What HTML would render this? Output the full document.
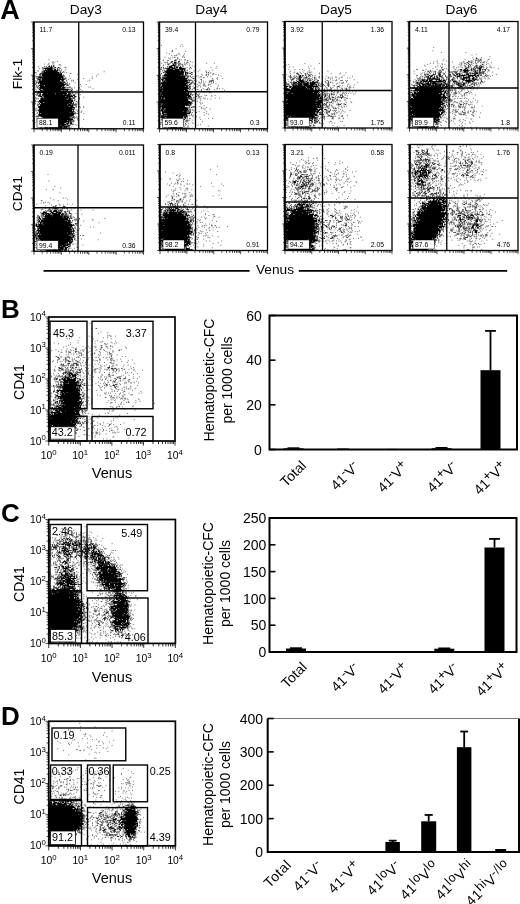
<!DOCTYPE html>
<html><head><meta charset="utf-8"><title>Figure</title>
<style>
html,body{margin:0;padding:0;background:#fff;}
body{width:520px;height:904px;overflow:hidden;}
svg{display:block;font-family:"Liberation Sans",sans-serif;fill:#000;}
svg text{stroke:none;}
</style></head><body>
<svg width="520" height="904" viewBox="0 0 520 904">
<defs><filter id="bl" x="-5%" y="-5%" width="110%" height="110%"><feGaussianBlur stdDeviation="0.35"/></filter></defs>
<rect x="0" y="0" width="520" height="904" fill="#fff" stroke="none"/>
<text x="0.3" y="19.2" font-size="27" font-weight="bold">A</text>
<text x="85.8" y="14.3" font-size="13.7" text-anchor="middle" font-weight="normal">Day3</text>
<text x="211.3" y="14.3" font-size="13.7" text-anchor="middle" font-weight="normal">Day4</text>
<text x="336" y="14.3" font-size="13.7" text-anchor="middle" font-weight="normal">Day5</text>
<text x="461.5" y="14.3" font-size="13.7" text-anchor="middle" font-weight="normal">Day6</text>
<text x="22" y="74" font-size="13.7" text-anchor="middle" font-weight="normal" transform="rotate(-90 22 74)">Flk-1</text>
<text x="22" y="193.7" font-size="13.7" text-anchor="middle" font-weight="normal" transform="rotate(-90 22 193.7)">CD41</text>
<text x="275" y="273.8" font-size="13.7" text-anchor="middle" font-weight="normal">Venus</text>
<line x1="43.5" y1="270.8" x2="249.6" y2="270.8" stroke="#000" stroke-width="1.7"/>
<line x1="298.8" y1="270.8" x2="507.2" y2="270.8" stroke="#000" stroke-width="1.7"/>
<g filter="url(#bl)"><path transform="translate(34.00,22.43) scale(0.85)" d="M17 44h1m4 2h1m4 0h1m-7 1h1m2 0h1m-8 1h1m4 0h1m-11 1h1m4 0h1m11 1h3m-27 2h1m30 1h2m-32 1h1m2 0h1m21 0h1m5 1h1m-34 2h2m30 0h1m45 1h1m-82 1h2m32 0h1m2 0h1m-39 1h1m41 0h2m-41 1h1m47 0h1m23 0h1m-75 2h1m39 0h1m31 0h1m-6 1h1m-27 2h1m15 0h1m9 0h1m-29 1h1m10 0h1m-14 1h1m5 0h1m1 0h1m18 0h1m-65 1h1m42 0h1m1 0h1m16 0h1m-16 2h1m-49 1h1m40 0h1m-1 1h1m12 0h1m6 0h1m-7 2h1m8 1h1m1 0h1m-66 1h1m42 0h1m2 0h1m4 0h2m15 1h1m-68 1h1m51 0h1m-5 1h1m5 0h1m-55 1h1m45 3h2m1 0h1m-51 1h1m52 0h1m-55 3h1m57 0h1m-6 1h1m-1 1h1m-54 3h1m48 0h2m0 1h1m-52 2h2m50 0h1m-53 2h1m52 1h1m4 0h1m-10 1h1m4 0h1m3 0h1m-59 1h1m0 3h1m49 0h1m4 0h1m-6 1h1m3 0h1m-1 1h1m-53 1h1m46 0h2m6 0h1m-58 1h1m-2 2h1m49 1h1m-1 1h1m-51 1h1m50 0h1m-49 1h1m47 0h1m6 0h1m-8 1h1m-52 1h1m46 0h1m-47 2h1m2 0h1m-5 2h1m45 0h1m1 0h1m-44 1h1m44 0h1m-46 1h1m38 1h1m-45 1h1m55 0h1" stroke="#5c5c5c" stroke-width="1.15" fill="none"/><path transform="translate(34.00,22.43) scale(0.85)" d="M22 49h1m-7 1h1m1 1h1m1 0h1m1 0h2m-12 1h1m1 0h1m7 0h2m-14 1h1m13 0h2m2 0h2m-19 1h1m15 0h1m2 0h1m-21 1h1m17 1h1m3 0h1m-23 1h1m20 0h1m-23 1h1m21 0h1m2 0h1m-2 1h1m-27 1h1m-2 1h2m-2 1h1m27 0h1m0 1h1m-34 1h3m30 0h1m1 1h1m-35 1h1m33 0h1m-34 1h1m31 0h1m-35 2h1m35 0h1m-36 1h1m32 0h1m-35 1h2m35 0h1m-38 1h1m35 0h1m-38 1h1m35 0h1m1 0h1m-37 1h1m34 0h3m-39 1h1m0 1h2m32 0h1m3 0h2m-39 1h1m33 0h3m1 0h1m-38 1h1m38 0h1m-4 1h1m1 0h1m1 0h1m-3 1h2m-42 1h1m41 0h1m-44 1h1m39 0h1m2 1h1m-43 1h1m41 0h1m-43 1h1m42 0h2m-45 1h1m2 0h1m-2 1h2m41 0h2m-49 1h1m46 0h1m-46 1h1m43 0h1m-48 1h2m1 0h1m1 0h1m41 0h1m0 1h1m-49 1h2m45 0h1m-47 1h1m1 0h1m1 0h1m-1 1h1m-5 1h1m2 1h1m43 0h3m-47 1h2m42 0h2m-46 1h1m44 0h1m-1 1h1m-47 2h1m43 0h1m-47 1h1m45 0h1m-45 1h1m45 0h1m-47 1h1m43 1h1m-44 1h1m43 0h1m-1 1h1m-1 1h1m-46 2h1m-2 1h4m41 0h1m-2 1h1m1 0h1m-41 1h1m38 0h1m-40 1h1m37 1h1m-44 1h1m1 0h1m1 0h1m38 0h1m-42 1h2m1 0h1m37 0h1m-39 2h1m0 1h1m33 0h1m1 0h1m-40 1h2m33 0h2m-35 2h1m-2 1h3m2 0h1m26 0h4m-36 1h1m1 0h1m3 0h1m2 0h2m1 0h2m11 0h1m2 0h2" stroke="#202020" stroke-width="1.15" fill="none"/></g><path transform="translate(34.00,22.43) scale(0.85)" d="M17 52h2m1 0h1m-6 1h1m1 0h1m1 0h3m-10 1h10m1 0h1m-11 1h1m1 0h7m1 0h3m1 0h1m1 0h1m-19 1h1m1 0h2m1 0h6m2 0h2m1 0h1m-16 1h16m1 0h1m-20 1h3m1 0h14m-19 1h1m1 0h19m1 0h1m-24 1h1m1 0h20m1 0h2m-24 1h24m-26 1h1m1 0h24m-24 1h26m-30 1h4m1 0h24m-29 1h30m-31 1h1m2 0h1m1 0h23m1 0h1m1 0h1m-31 1h3m1 0h27m-32 1h1m1 0h2m1 0h22m1 0h3m-29 1h25m2 0h2m-30 1h28m2 0h1m-31 1h32m-32 1h1m1 0h28m2 0h1m-31 1h30m-31 1h6m1 0h23m-31 1h1m1 0h26m1 0h1m-28 1h29m-30 1h26m1 0h4m-30 1h28m1 0h1m-31 1h2m2 0h31m-34 1h3m1 0h21m2 0h1m1 0h1m1 0h2m-35 1h1m2 0h1m1 0h30m1 0h1m1 0h1m-39 1h32m3 0h2m-38 1h4m3 0h4m1 0h23m2 0h1m-38 1h1m2 0h1m2 0h15m1 0h13m1 0h4m-38 1h2m1 0h25m1 0h3m1 0h3m1 0h1m-39 1h1m1 0h1m2 0h33m1 0h1m1 0h2m-41 1h3m1 0h26m1 0h8m1 0h1m-39 1h1m2 0h31m2 0h1m1 0h1m-40 1h32m1 0h3m2 0h1m-40 1h4m1 0h26m1 0h7m-38 1h31m1 0h4m-38 1h40m-40 1h40m-39 1h4m1 0h33m1 0h1m-41 1h1m1 0h33m1 0h3m1 0h1m-41 1h1m1 0h35m1 0h3m-40 1h32m1 0h4m1 0h1m1 0h1m-41 1h40m-42 1h36m1 0h4m-41 1h43m-42 1h39m-39 1h41m-42 1h40m1 0h1m-42 1h40m1 0h1m-41 1h41m-41 1h36m1 0h3m-40 1h1m1 0h40m-43 1h42m-42 1h42m-41 1h36m1 0h3m-38 1h36m2 0h1m-37 1h32m1 0h1m1 0h1m-37 1h34m1 0h1m-35 1h1m1 0h34m-38 1h1m1 0h29m1 0h4m-34 1h31m1 0h4m-37 1h1m1 0h2m1 0h28m1 0h1m-34 1h28m2 0h1m1 0h3m-36 1h1m1 0h1m1 0h23m2 0h3m1 0h3m-33 1h26m1 0h1m-30 1h4m1 0h2m1 0h13m1 0h4m1 0h1m2 0h1m-30 1h3m1 0h1m1 0h9m2 0h14m-30 1h4m3 0h1m1 0h1m1 0h10m2 0h2m1 0h1m-26 1h26m-24 1h1m5 0h2m1 0h7" stroke="#000" stroke-width="1.3" fill="none"/>
<path d="M34.00 128.75v3.6M42.24 128.75v2.4M47.06 128.75v2.4M50.48 128.75v2.4M53.13 128.75v2.4M55.30 128.75v2.4M57.13 128.75v2.4M58.72 128.75v2.4M60.12 128.75v2.4M61.38 128.75v3.6M69.62 128.75v2.4M74.44 128.75v2.4M77.86 128.75v2.4M80.51 128.75v2.4M82.68 128.75v2.4M84.51 128.75v2.4M86.10 128.75v2.4M87.50 128.75v2.4M88.75 128.75v3.6M96.99 128.75v2.4M101.81 128.75v2.4M105.23 128.75v2.4M107.88 128.75v2.4M110.05 128.75v2.4M111.88 128.75v2.4M113.47 128.75v2.4M114.87 128.75v2.4M116.12 128.75v3.6M124.37 128.75v2.4M129.19 128.75v2.4M132.61 128.75v2.4M135.26 128.75v2.4M137.43 128.75v2.4M139.26 128.75v2.4M140.85 128.75v2.4M142.25 128.75v2.4M143.50 128.75v3.6" stroke="#000" stroke-width="0.7" fill="none"/>
<path d="M34 128.75h-2.8M34 120.72h-1.8M34 116.02h-1.8M34 112.68h-1.8M34 110.10h-1.8M34 107.98h-1.8M34 106.20h-1.8M34 104.65h-1.8M34 103.28h-1.8M34 102.06h-2.8M34 94.03h-1.8M34 89.33h-1.8M34 86.00h-1.8M34 83.41h-1.8M34 81.30h-1.8M34 79.51h-1.8M34 77.96h-1.8M34 76.60h-1.8M34 75.38h-2.8M34 67.34h-1.8M34 62.64h-1.8M34 59.31h-1.8M34 56.72h-1.8M34 54.61h-1.8M34 52.82h-1.8M34 51.27h-1.8M34 49.91h-1.8M34 48.69h-2.8M34 40.65h-1.8M34 35.95h-1.8M34 32.62h-1.8M34 30.03h-1.8M34 27.92h-1.8M34 26.13h-1.8M34 24.59h-1.8M34 23.22h-1.8M34 22.00h-2.8" stroke="#000" stroke-width="0.7" fill="none"/>
<rect x="34" y="22" width="109.50" height="106.75" fill="none" stroke="#000" stroke-width="1.3"/>
<line x1="33.7" y1="22" x2="33.7" y2="128.75" stroke="#000" stroke-width="1.8"/>
<line x1="78.75" y1="22" x2="78.75" y2="128.75" stroke="#000" stroke-width="1.3"/>
<line x1="34" y1="92" x2="143.5" y2="92" stroke="#000" stroke-width="1.3"/>
<text x="39.5" y="32" font-size="6.8" text-anchor="start" font-weight="normal">11.7</text>
<text x="135.5" y="32" font-size="6.8" text-anchor="end" font-weight="normal">0.13</text>
<rect x="37" y="118.25" width="21.20" height="9.00" fill="#fff" stroke="#000" stroke-width="0.5"/>
<text x="39" y="125.25" font-size="6.8" text-anchor="start" font-weight="normal">88.1</text>
<text x="135.5" y="125.25" font-size="6.8" text-anchor="end" font-weight="normal">0.11</text>
<g filter="url(#bl)"><path transform="translate(159.50,22.43) scale(0.85)" d="M26 26h1m-25 1h1m21 1h1m2 0h1m-9 3h1m-5 2h1m-2 1h2m14 0h1m-23 2h1m33 0h1m-32 1h1m10 0h2m5 0h1m-10 1h1m-7 1h1m2 0h1m10 0h1m-2 1h1m-22 1h1m8 0h1m1 0h2m2 0h1m5 0h1m1 0h1m-20 1h1m1 0h1m8 0h1m-22 1h1m11 0h1m-9 1h1m13 0h1m6 0h1m3 0h2m-27 1h1m4 0h2m21 0h2m2 1h1m-32 1h1m23 0h1m2 0h1m5 0h1m-37 1h1m52 0h1m8 0h1m-58 1h1m24 0h1m2 0h1m-32 1h1m22 0h1m2 0h1m-27 1h1m30 0h1m2 0h1m2 1h1m25 0h1m-36 1h1m27 0h1m-61 1h1m34 0h1m1 0h1m28 0h1m-32 1h1m-4 1h1m14 0h1m14 0h1m-63 1h1m39 0h1m13 0h1m3 0h1m-59 1h1m34 0h1m9 0h1m9 0h1m4 1h1m-2 1h1m3 0h1m-64 1h1m48 0h1m12 0h2m2 0h1m-25 1h1m7 0h1m3 0h2m1 0h1m11 0h1m-27 1h1m1 0h1m26 0h1m-37 1h1m3 0h1m1 0h1m5 0h2m6 0h1m3 0h1m-24 1h1m8 0h1m4 0h2m15 0h1m-7 1h1m4 0h1m6 0h1m-33 1h1m5 0h2m18 0h1m-20 1h1m-7 1h1m7 0h1m6 0h1m-13 1h1m7 0h1m-9 1h2m3 0h1m11 0h1m-24 1h2m6 0h1m3 0h1m8 0h1m4 0h1m-26 1h1m2 0h1m12 0h1m-7 1h1m5 0h1m11 0h1m-31 1h1m5 0h1m2 0h1m4 0h2m5 0h1m-17 1h1m3 0h1m19 0h1m-30 2h1m11 0h1m4 0h1m1 0h1m8 0h2m1 0h1m3 0h1m-31 1h2m3 0h1m3 0h1m10 0h1m-16 1h1m26 0h1m-37 1h1m6 0h2m16 0h1m1 0h1m-16 1h1m5 0h1m1 0h1m-18 1h1m15 0h1m-14 1h1m-7 1h1m12 1h1m1 0h1m5 0h1m3 0h1m-17 1h1m11 0h1m-22 1h1m0 1h2m5 0h1m2 0h1m1 0h1m11 0h1m4 0h1m-27 1h1m3 0h1m4 0h1m2 0h1m3 0h1m-20 2h1m6 0h1m-5 1h1m-3 1h1m4 0h1m0 1h1m1 0h1m-3 1h1m3 2h1m-13 1h2m5 0h1m-6 1h1m6 0h1m5 0h1m-7 1h1m1 0h1m1 0h1m5 1h1m-21 1h1m13 0h1m-14 1h1m5 1h1m8 0h1m-14 1h2m8 0h1m2 1h1m1 1h1m-19 1h1m2 0h1m9 0h1m-18 1h1m3 0h1m-1 1h1m3 0h1m3 1h1m-13 1h2m20 0h1m4 0h1m-15 1h1m-47 1h1m32 0h1m2 0h1m11 2h1m-51 1h2m36 0h1m-5 1h1m4 0h1m-9 1h1m10 0h1m5 0h1m-46 1h1m26 0h1m14 0h1m11 1h1m-58 2h1m29 0h1m2 0h1m1 0h1m2 0h1m-38 1h1m27 0h1m7 0h1" stroke="#5c5c5c" stroke-width="1.15" fill="none"/><path transform="translate(159.50,22.43) scale(0.85)" d="M19 39h1m1 4h1m-3 1h1m3 0h1m-7 1h3m-6 1h2m6 0h2m-17 1h1m1 0h1m3 0h2m7 0h1m10 0h1m-22 1h1m2 0h1m2 0h2m1 0h1m1 0h2m6 0h1m-23 1h3m10 0h1m3 0h1m2 0h1m-20 1h1m11 0h3m1 0h1m-5 1h1m4 0h1m-19 1h1m10 0h1m6 0h1m-26 1h1m1 0h1m31 0h1m-33 1h1m1 0h3m20 0h2m-30 1h2m2 1h1m24 0h1m-28 1h1m1 0h1m26 0h1m-29 2h2m26 0h2m3 0h2m16 0h1m1 0h1m-56 1h1m29 0h2m1 0h2m0 1h2m16 0h1m1 0h1m-58 1h2m-2 1h1m2 0h1m29 0h2m1 0h1m-37 1h1m33 0h1m3 0h1m-39 1h2m31 0h1m-33 1h1m37 0h2m-41 1h1m33 0h1m-34 1h1m32 0h4m3 0h1m19 0h3m-63 1h1m36 0h2m19 0h3m-62 1h1m48 0h1m9 0h1m1 0h1m1 0h1m-29 1h1m1 0h3m18 0h1m-59 1h1m35 0h2m-38 1h1m35 0h1m15 0h1m6 0h1m-60 1h1m45 0h1m5 0h1m-18 1h2m-37 1h1m35 0h1m3 1h3m14 0h1m-22 1h1m4 0h1m-7 1h1m2 0h1m3 0h1m12 0h2m1 0h1m-24 2h3m18 0h1m1 0h1m-23 1h2m-38 1h1m41 0h1m-43 1h1m36 0h1m5 0h1m-6 1h1m3 0h1m1 0h1m1 0h1m-9 1h1m6 0h1m-3 1h1m1 0h1m1 0h1m-2 1h1m-10 1h1m1 0h1m6 0h1m-9 2h1m1 0h1m-3 1h2m-2 1h1m1 0h1m-3 2h1m-2 2h1m-38 1h1m34 1h1m3 0h1m-40 1h1m34 0h1m1 0h2m1 0h1m-41 1h1m34 1h2m-2 1h1m2 0h1m-39 1h1m35 0h1m-37 1h1m35 0h1m-37 1h1m35 0h1m1 0h1m-39 1h1m-1 1h1m36 0h1m-38 1h1m33 0h1m2 0h1m-38 2h1m0 1h1m30 0h1m-1 1h1m-31 1h1m0 1h1m27 0h3m-4 1h1m2 0h1m-3 1h2m-31 1h1m27 1h1m-30 1h1m1 0h2m1 0h1m20 0h2m-24 1h1m20 0h1m1 0h1m-23 1h2m2 0h1m22 0h1m-28 1h2m21 0h1m3 0h1m-28 1h2m2 0h2m13 0h3m3 0h1m-24 1h1m2 0h1m1 0h1m5 0h2m4 0h2m4 0h1" stroke="#202020" stroke-width="1.15" fill="none"/></g><path transform="translate(159.50,22.43) scale(0.85)" d="M17 47h3m-3 1h1m-2 1h1m1 0h2m-5 1h3m-5 1h7m-9 1h4m2 0h1m1 0h1m1 0h1m2 0h1m-14 1h5m1 0h1m1 0h3m1 0h3m-17 1h4m1 0h5m1 0h1m2 0h6m-20 1h7m2 0h12m-22 1h15m1 0h1m1 0h2m1 0h1m-24 1h1m1 0h16m1 0h3m1 0h1m-24 1h23m1 0h1m-24 1h22m1 0h2m-25 1h1m1 0h19m2 0h1m-25 1h23m1 0h1m1 0h1m-28 1h20m1 0h2m2 0h2m-28 1h26m2 0h1m-27 1h1m1 0h23m1 0h1m-30 1h27m2 0h1m-29 1h29m-31 1h3m1 0h26m-29 1h2m1 0h28m-31 1h1m1 0h2m1 0h25m2 0h1m-32 1h30m-33 1h29m1 0h4m-34 1h32m-32 1h1m1 0h28m1 0h1m2 0h1m-35 1h1m1 0h30m1 0h1m-33 1h28m1 0h3m-33 1h33m1 0h1m-36 1h3m1 0h30m1 0h1m-36 1h1m1 0h33m-35 1h33m-33 1h3m1 0h25m1 0h4m-34 1h2m1 0h30m-33 1h1m1 0h30m1 0h2m-34 1h1m1 0h29m1 0h2m-34 1h34m1 0h1m-37 1h1m1 0h33m1 0h1m-36 1h2m1 0h32m-36 1h32m1 0h4m-37 1h35m1 0h2m-38 1h2m1 0h2m1 0h27m1 0h2m-36 1h5m1 0h28m1 0h3m-37 1h33m3 0h1m-38 1h34m-34 1h36m-36 1h38m-38 1h38m-38 1h1m3 0h30m1 0h2m-37 1h35m1 0h1m-36 1h1m1 0h27m1 0h2m1 0h2m-36 1h30m-29 1h1m1 0h29m1 0h1m-33 1h1m1 0h3m1 0h27m-32 1h3m1 0h28m-33 1h5m1 0h27m-33 1h3m1 0h28m1 0h1m-32 1h25m1 0h3m1 0h1m1 0h1m-33 1h29m1 0h1m1 0h1m-35 1h1m1 0h2m1 0h1m1 0h28m-35 1h1m2 0h28m-31 1h1m1 0h3m1 0h1m1 0h24m-31 1h3m1 0h24m1 0h2m-32 1h27m1 0h4m-31 1h5m1 0h20m1 0h2m-27 1h24m2 0h1m-26 1h23m1 0h1m-25 1h1m1 0h16m1 0h5m-24 1h3m2 0h19m-24 1h24m-24 1h2m1 0h1m1 0h1m1 0h13m1 0h3m-22 1h19m-17 1h1m2 0h7m1 0h6m-17 1h2m1 0h7m1 0h4m1 0h1m-15 1h6m1 0h6m1 0h1m-13 1h9m2 0h2m-14 1h9m1 0h3m-10 1h1m1 0h1" stroke="#000" stroke-width="1.3" fill="none"/>
<path d="M159.50 128.75v3.6M167.63 128.75v2.4M172.38 128.75v2.4M175.76 128.75v2.4M178.37 128.75v2.4M180.51 128.75v2.4M182.32 128.75v2.4M183.88 128.75v2.4M185.26 128.75v2.4M186.50 128.75v3.6M194.63 128.75v2.4M199.38 128.75v2.4M202.76 128.75v2.4M205.37 128.75v2.4M207.51 128.75v2.4M209.32 128.75v2.4M210.88 128.75v2.4M212.26 128.75v2.4M213.50 128.75v3.6M221.63 128.75v2.4M226.38 128.75v2.4M229.76 128.75v2.4M232.37 128.75v2.4M234.51 128.75v2.4M236.32 128.75v2.4M237.88 128.75v2.4M239.26 128.75v2.4M240.50 128.75v3.6M248.63 128.75v2.4M253.38 128.75v2.4M256.76 128.75v2.4M259.37 128.75v2.4M261.51 128.75v2.4M263.32 128.75v2.4M264.88 128.75v2.4M266.26 128.75v2.4M267.50 128.75v3.6" stroke="#000" stroke-width="0.7" fill="none"/>
<path d="M159.5 128.75h-2.8M159.5 120.72h-1.8M159.5 116.02h-1.8M159.5 112.68h-1.8M159.5 110.10h-1.8M159.5 107.98h-1.8M159.5 106.20h-1.8M159.5 104.65h-1.8M159.5 103.28h-1.8M159.5 102.06h-2.8M159.5 94.03h-1.8M159.5 89.33h-1.8M159.5 86.00h-1.8M159.5 83.41h-1.8M159.5 81.30h-1.8M159.5 79.51h-1.8M159.5 77.96h-1.8M159.5 76.60h-1.8M159.5 75.38h-2.8M159.5 67.34h-1.8M159.5 62.64h-1.8M159.5 59.31h-1.8M159.5 56.72h-1.8M159.5 54.61h-1.8M159.5 52.82h-1.8M159.5 51.27h-1.8M159.5 49.91h-1.8M159.5 48.69h-2.8M159.5 40.65h-1.8M159.5 35.95h-1.8M159.5 32.62h-1.8M159.5 30.03h-1.8M159.5 27.92h-1.8M159.5 26.13h-1.8M159.5 24.59h-1.8M159.5 23.22h-1.8M159.5 22.00h-2.8" stroke="#000" stroke-width="0.7" fill="none"/>
<rect x="159.5" y="22" width="108.00" height="106.75" fill="none" stroke="#000" stroke-width="1.3"/>
<line x1="159.2" y1="22" x2="159.2" y2="128.75" stroke="#000" stroke-width="1.8"/>
<line x1="195.5" y1="22" x2="195.5" y2="128.75" stroke="#000" stroke-width="1.3"/>
<line x1="159.5" y1="91.75" x2="267.5" y2="91.75" stroke="#000" stroke-width="1.3"/>
<text x="165.0" y="32" font-size="6.8" text-anchor="start" font-weight="normal">39.4</text>
<text x="259.5" y="32" font-size="6.8" text-anchor="end" font-weight="normal">0.79</text>
<rect x="162.5" y="118.25" width="21.20" height="9.00" fill="#fff" stroke="#000" stroke-width="0.5"/>
<text x="164.5" y="125.25" font-size="6.8" text-anchor="start" font-weight="normal">59.6</text>
<text x="259.5" y="125.25" font-size="6.8" text-anchor="end" font-weight="normal">0.3</text>
<g filter="url(#bl)"><path transform="translate(285.00,21.93) scale(0.85)" d="M23 49h1m16 0h1m-37 1h1m-4 1h1m28 1h1m-26 1h1m3 0h1m17 0h1m0 2h1m5 0h1m-31 1h1m6 0h1m5 0h1m2 0h1m1 1h1m5 0h1m-23 1h1m43 0h1m-46 1h1m5 0h1m5 0h1m3 0h1m4 0h1m2 0h1m1 0h1m-32 1h1m9 0h1m7 0h1m21 0h1m24 0h1m5 0h1m-66 1h1m33 0h1m13 0h1m9 0h1m-64 1h1m9 1h1m20 0h1m2 0h1m33 0h1m-66 1h1m35 0h1m7 0h1m30 0h1m-48 1h1m2 0h1m3 0h2m3 0h1m6 0h1m3 0h1m3 0h2m5 0h2m-28 1h1m9 0h2m1 0h1m10 0h1m8 0h1m2 0h1m-30 1h1m7 0h1m7 0h1m-64 1h1m2 0h1m49 0h1m6 0h1m20 0h1m-82 1h1m49 0h1m5 0h1m2 0h2m4 0h3m3 0h1m1 0h1m-70 1h1m42 0h1m24 0h1m-30 1h1m3 0h1m7 0h1m8 0h1m7 0h1m12 0h1m-38 1h1m7 0h1m4 0h1m4 0h3m-9 1h1m2 0h1m10 0h1m-2 1h1m7 0h1m-36 1h1m10 0h2m5 0h1m2 0h1m8 0h1m-30 1h1m13 0h1m11 0h1m2 0h1m-29 1h1m4 0h1m2 0h1m4 0h1m2 0h1m12 0h1m2 0h1m-15 1h2m2 0h1m5 0h1m-28 2h1m8 0h1m2 0h1m3 0h1m-17 1h1m15 0h1m2 0h1m6 0h2m-22 1h1m2 0h1m6 0h1m9 0h1m3 0h1m3 0h1m-23 1h1m6 0h1m2 0h1m-11 1h1m10 0h1m1 0h1m2 0h1m4 0h1m-26 1h2m5 0h1m15 0h1m-21 1h1m9 0h2m1 1h1m-15 1h1m2 0h1m8 1h1m0 1h2m2 0h1m-7 1h1m-7 1h1m5 0h1m-8 1h1m1 0h1m5 0h1m-13 1h1m1 0h1m15 0h1m-25 1h1m18 0h1m5 0h1m-23 1h1m9 0h1m2 0h1m-10 1h1m8 0h1m-18 1h1m2 1h1m10 0h1m5 0h1m-18 1h2m9 0h1m3 0h1m-19 1h1m6 0h1m2 0h1m4 0h1m-8 1h1m2 0h1m-11 1h1m11 0h1m-10 1h1m3 0h1m6 0h1m8 0h1m-20 1h1m5 0h1m4 0h1m-6 1h1m2 0h1m3 0h1m-25 1h1m13 0h2m-8 1h2m2 0h1m6 0h1m-3 2h1m3 0h1m5 0h1m-25 1h1m9 0h1m6 0h2m-26 1h1m3 0h1m-6 1h1m21 0h2m3 0h1m-14 1h2m6 0h1m4 0h1m-23 1h1m-4 1h1m9 1h2m10 0h1m1 0h1m-16 1h1m-53 1h1m40 0h1m13 0h1m2 0h1m-17 1h1m2 0h1m-13 1h1m22 1h1m12 0h1m-9 1h1m-60 1h1m1 0h1m31 0h1m1 0h4m1 0h1m3 0h1" stroke="#5c5c5c" stroke-width="1.15" fill="none"/><path transform="translate(285.00,21.93) scale(0.85)" d="M28 59h1m-15 1h1m14 0h1m-17 1h3m3 0h1m3 0h2m1 0h1m-12 1h2m7 0h1m2 0h1m1 0h1m1 0h1m-26 1h1m13 0h2m2 0h1m3 0h2m-24 1h1m3 0h1m2 0h1m6 0h1m4 0h1m1 0h1m1 0h1m-25 1h3m4 0h1m1 0h1m7 0h1m1 0h2m8 0h1m-25 1h2m9 0h1m1 0h4m1 0h1m5 0h1m1 0h1m-31 1h1m2 0h2m2 0h2m7 0h1m4 0h3m1 0h1m2 0h1m-28 1h3m14 0h1m1 0h1m2 0h1m2 0h1m2 0h1m1 0h1m-31 1h1m5 0h1m9 0h1m2 0h1m2 0h1m4 0h1m3 0h2m9 0h1m-40 1h1m27 0h1m12 0h1m-52 1h2m4 0h2m2 0h1m27 0h1m12 0h1m1 0h1m14 0h1m-68 1h1m5 0h1m30 0h3m9 0h2m-51 1h1m1 0h2m2 0h1m34 0h2m6 0h2m-52 1h1m3 0h1m36 0h1m2 0h2m4 0h2m-52 1h1m38 0h2m2 0h2m5 0h2m-52 1h1m4 0h2m34 0h1m1 0h1m7 0h1m10 0h2m-25 1h1m35 0h1m-36 1h1m8 0h1m4 0h1m6 0h1m10 0h1m-33 1h1m2 0h1m2 0h1m6 0h2m12 0h1m3 0h2m2 0h1m-32 1h1m1 0h1m3 0h1m1 0h1m19 0h2m-32 1h1m1 0h2m6 0h1m1 0h1m1 0h1m3 0h1m1 0h1m9 0h1m-31 1h2m2 0h2m1 0h1m4 0h1m7 0h1m-18 1h1m11 0h1m4 0h1m-21 1h1m3 0h1m1 0h1m1 0h1m3 0h1m12 0h1m1 0h1m-25 1h1m1 0h1m1 0h1m2 0h1m1 0h3m-15 1h1m2 0h2m2 0h1m2 0h1m1 0h1m2 0h1m7 0h3m-25 1h1m4 0h1m1 0h1m1 0h1m14 0h1m-22 1h2m3 0h2m2 0h1m7 0h1m3 0h2m-23 1h1m2 0h1m2 0h1m2 0h3m3 0h1m1 0h1m1 0h3m1 0h1m-20 1h1m1 0h2m5 0h1m6 0h1m-21 1h2m3 0h1m1 0h1m1 0h2m1 0h1m2 0h1m-17 1h1m1 0h4m4 0h2m3 0h2m-16 1h1m2 0h1m1 0h1m4 0h1m1 0h1m-15 1h1m3 0h1m5 0h1m1 0h1m-8 1h2m1 0h1m1 0h1m-11 1h1m1 0h1m1 0h1m13 0h1m-18 1h1m1 0h2m3 0h1m9 0h4m4 0h2m-27 1h2m1 0h1m5 0h1m7 0h1m-15 1h2m1 0h1m11 0h1m5 0h1m-26 1h1m4 0h2m-6 1h1m1 0h1m2 0h1m6 0h1m-14 1h1m6 0h1m5 0h1m1 0h1m-18 1h2m2 0h3m-6 1h1m4 0h2m3 0h1m4 0h1m-14 1h1m2 0h1m2 0h2m6 0h1m-19 1h1m7 0h1m1 0h2m-12 1h3m4 0h2m8 0h1m-18 1h1m2 0h1m4 0h1m7 0h1m-18 1h4m1 0h1m4 0h1m4 0h1m2 0h1m-21 1h1m12 0h2m-14 1h1m5 0h2m4 0h1m1 0h3m1 0h1m-20 1h1m17 0h1m-12 1h2m8 0h2m-19 1h1m1 0h1m-41 2h2m37 0h1m-37 1h1m27 0h2m5 0h1m-38 1h1m29 0h2m1 0h2m2 0h1m1 0h1m-38 1h1m26 0h1m3 0h3m3 0h1m-40 1h2m1 0h1m26 0h1m-31 1h1m3 0h1m-5 1h1m1 0h2m2 0h1m21 0h2m2 0h2m-27 1h1m10 0h1m7 0h1m1 0h1m-25 1h1m1 0h4m1 0h18m1 0h5" stroke="#202020" stroke-width="1.15" fill="none"/></g><path transform="translate(285.00,21.93) scale(0.85)" d="M17 63h2m-3 1h3m-3 1h4m-12 1h1m7 0h2m-3 1h1m1 0h2m-3 1h3m1 0h2m-6 1h6m6 0h1m1 0h1m-17 1h2m1 0h6m1 0h2m6 0h2m3 0h1m-29 1h1m1 0h3m1 0h3m1 0h4m3 0h2m1 0h2m1 0h6m-29 1h5m1 0h5m1 0h7m1 0h7m-34 1h1m7 0h2m2 0h2m1 0h4m1 0h6m1 0h7m1 0h1m-35 1h1m4 0h3m1 0h2m1 0h5m1 0h7m1 0h6m1 0h2m1 0h1m-39 1h1m3 0h1m3 0h12m1 0h11m2 0h1m1 0h1m-37 1h3m3 0h1m1 0h15m1 0h14m-38 1h1m3 0h2m1 0h17m1 0h6m1 0h1m1 0h1m1 0h1m-38 1h3m4 0h19m1 0h7m1 0h2m1 0h1m-39 1h6m1 0h21m1 0h4m3 0h1m2 0h1m-40 1h11m1 0h22m1 0h3m2 0h1m-41 1h2m1 0h31m1 0h7m-42 1h2m1 0h1m1 0h35m-40 1h3m1 0h29m1 0h5m1 0h1m-41 1h2m1 0h5m1 0h29m1 0h1m-40 1h42m-42 1h38m1 0h2m6 0h1m-48 1h42m5 0h1m17 0h1m-66 1h41m1 0h2m-44 1h40m1 0h2m1 0h1m-45 1h45m3 0h1m-49 1h2m1 0h37m2 0h1m1 0h1m3 0h1m-49 1h1m1 0h35m1 0h6m-44 1h36m1 0h1m1 0h4m-43 1h44m-44 1h44m-44 1h2m1 0h33m1 0h5m-42 1h42m-42 1h37m1 0h5m-43 1h40m1 0h2m-43 1h37m1 0h5m-43 1h42m1 0h1m-44 1h38m3 0h1m1 0h1m-44 1h39m1 0h2m-42 1h37m1 0h3m-41 1h40m-40 1h36m1 0h3m10 0h1m-51 1h36m1 0h2m1 0h1m-40 1h35m1 0h1m-37 1h37m-38 1h3m1 0h30m1 0h3m-38 1h2m1 0h3m1 0h28m-35 1h36m1 0h1m-37 1h2m1 0h1m1 0h23m1 0h1m1 0h2m1 0h2m-37 1h6m1 0h26m1 0h2m1 0h1m-37 1h1m1 0h2m1 0h23m3 0h1m2 0h1m1 0h1m-36 1h1m2 0h2m2 0h17m1 0h5m2 0h2m1 0h1m-34 1h1m1 0h9m1 0h6m1 0h5m7 0h1m1 0h1m-32 1h21m1 0h1m7 0h1m-32 1h6m2 0h3m2 0h5m1 0h4m-19 1h19m-20 1h2m1 0h1m1 0h6m3 0h3m1 0h1m-16 1h4m2 0h2m1 0h1m3 0h3m-18 1h2m1 0h1m1 0h1m9 0h2" stroke="#000" stroke-width="1.3" fill="none"/>
<path d="M285.00 128v3.6M293.05 128v2.4M297.76 128v2.4M301.11 128v2.4M303.70 128v2.4M305.82 128v2.4M307.61 128v2.4M309.16 128v2.4M310.53 128v2.4M311.75 128v3.6M319.80 128v2.4M324.51 128v2.4M327.86 128v2.4M330.45 128v2.4M332.57 128v2.4M334.36 128v2.4M335.91 128v2.4M337.28 128v2.4M338.50 128v3.6M346.55 128v2.4M351.26 128v2.4M354.61 128v2.4M357.20 128v2.4M359.32 128v2.4M361.11 128v2.4M362.66 128v2.4M364.03 128v2.4M365.25 128v3.6M373.30 128v2.4M378.01 128v2.4M381.36 128v2.4M383.95 128v2.4M386.07 128v2.4M387.86 128v2.4M389.41 128v2.4M390.78 128v2.4M392.00 128v3.6" stroke="#000" stroke-width="0.7" fill="none"/>
<path d="M285 128.00h-2.8M285 119.99h-1.8M285 115.30h-1.8M285 111.97h-1.8M285 109.39h-1.8M285 107.28h-1.8M285 105.50h-1.8M285 103.96h-1.8M285 102.59h-1.8M285 101.38h-2.8M285 93.36h-1.8M285 88.67h-1.8M285 85.35h-1.8M285 82.76h-1.8M285 80.66h-1.8M285 78.87h-1.8M285 77.33h-1.8M285 75.97h-1.8M285 74.75h-2.8M285 66.74h-1.8M285 62.05h-1.8M285 58.72h-1.8M285 56.14h-1.8M285 54.03h-1.8M285 52.25h-1.8M285 50.71h-1.8M285 49.34h-1.8M285 48.12h-2.8M285 40.11h-1.8M285 35.42h-1.8M285 32.10h-1.8M285 29.51h-1.8M285 27.41h-1.8M285 25.62h-1.8M285 24.08h-1.8M285 22.72h-1.8M285 21.50h-2.8" stroke="#000" stroke-width="0.7" fill="none"/>
<rect x="285" y="21.5" width="107.00" height="106.50" fill="none" stroke="#000" stroke-width="1.3"/>
<line x1="284.7" y1="21.5" x2="284.7" y2="128" stroke="#000" stroke-width="1.8"/>
<line x1="322.25" y1="21.5" x2="322.25" y2="128" stroke="#000" stroke-width="1.3"/>
<line x1="285" y1="90.5" x2="392" y2="90.5" stroke="#000" stroke-width="1.3"/>
<text x="290.5" y="31.5" font-size="6.8" text-anchor="start" font-weight="normal">3.92</text>
<text x="384" y="31.5" font-size="6.8" text-anchor="end" font-weight="normal">1.36</text>
<rect x="288" y="117.5" width="21.20" height="9.00" fill="#fff" stroke="#000" stroke-width="0.5"/>
<text x="290" y="124.5" font-size="6.8" text-anchor="start" font-weight="normal">93.0</text>
<text x="384" y="124.5" font-size="6.8" text-anchor="end" font-weight="normal">1.75</text>
<g filter="url(#bl)"><path transform="translate(409.50,21.93) scale(0.85)" d="M28 30h1m-2 4h1m9 2h1m28 0h1m11 2h1m-6 1h1m20 2h1m-21 1h1m3 0h1m5 0h1m-45 2h1m24 0h1m9 0h1m8 0h1m7 0h2m-62 2h1m6 0h1m3 0h1m25 0h1m21 0h1m-64 1h1m3 0h1m13 0h1m3 0h1m13 0h1m22 0h2m-30 1h1m1 0h1m15 0h1m2 0h1m9 0h1m5 0h1m-73 1h1m3 0h1m4 0h1m4 0h1m25 0h1m10 0h1m16 0h1m-72 1h1m16 0h1m2 0h1m16 0h1m2 0h1m28 0h1m-74 1h1m15 0h1m12 0h1m27 0h1m12 0h1m6 0h1m-77 1h1m17 0h1m1 0h1m-9 1h1m1 0h1m18 0h2m4 0h1m1 0h1m1 0h1m28 0h1m3 0h2m-41 1h1m6 0h1m28 0h1m4 0h1m2 0h1m-73 1h1m13 0h1m1 0h1m8 0h1m51 0h1m-97 1h2m9 0h1m12 0h1m12 0h1m46 0h1m-78 1h2m40 0h1m34 0h2m-89 1h1m12 0h1m7 0h1m2 0h1m15 0h2m4 0h1m41 0h1m-52 1h1m48 0h1m5 0h1m-83 1h1m-11 1h1m7 0h1m-1 1h1m76 0h1m11 0h1m-95 1h2m83 0h1m3 0h1m-3 1h1m-88 1h1m-9 1h1m83 0h1m1 0h1m1 0h1m0 1h1m2 0h1m1 0h1m-89 1h1m-6 1h1m2 1h1m83 0h1m-85 1h2m73 0h1m7 0h1m-88 2h1m83 0h1m-83 1h2m64 1h1m13 0h1m-3 1h1m-81 1h2m52 0h1m10 0h1m10 0h1m-77 1h1m67 0h1m6 0h1m-1 1h1m3 0h1m-31 1h1m14 0h1m3 0h1m4 0h1m-17 2h1m2 0h1m10 0h1m-23 1h1m8 0h1m8 0h1m4 0h1m-15 1h1m5 0h1m5 0h1m-23 1h1m11 0h1m12 0h1m-7 1h1m9 0h1m-24 1h1m6 0h1m2 0h1m-15 1h2m2 0h1m2 0h1m7 1h1m-13 1h1m2 0h1m2 0h1m1 0h1m2 0h1m2 0h1m7 0h1m-24 1h1m16 1h1m7 0h1m-18 1h2m4 0h1m13 0h1m-29 1h3m4 0h1m1 0h1m4 0h1m1 0h1m2 0h1m2 0h1m-24 1h1m3 0h2m6 0h1m8 0h1m6 0h1m-16 1h1m1 0h2m-2 1h1m2 0h1m1 0h1m1 0h1m-4 1h1m-25 1h2m17 0h1m10 0h1m8 0h1m-35 1h1m2 0h1m2 0h1m4 0h1m2 0h1m7 0h1m-22 1h1m9 0h1m9 0h2m2 0h1m-33 1h1m2 0h1m17 0h1m-23 1h1m7 0h1m2 0h1m2 0h1m6 0h1m10 0h1m-12 1h1m-15 1h1m18 0h1m1 0h2m2 0h1m2 0h1m-32 1h1m3 0h1m8 0h1m4 0h1m2 0h1m5 0h1m-32 1h1m4 0h1m4 0h1m3 0h1m10 0h2m5 0h1m7 0h1m-34 1h1m-9 1h1m10 0h1m6 0h1m-7 1h1m11 0h1m7 0h2m-24 1h1m22 0h1m-35 1h1m4 0h1m35 0h1m-44 1h1m3 0h1m9 0h1m13 0h1m-24 1h1m6 0h3m18 0h1m-14 1h1m3 0h1m8 0h1m-34 1h1m9 0h1m8 0h1m6 0h1m-24 1h1m4 0h1m3 0h1m7 0h1m14 0h1m-39 1h2m5 0h1m18 0h1m7 0h1m0 1h1m-72 1h1m52 0h1m7 0h1m3 0h1m-30 1h1m-37 1h1m36 0h1m20 0h1m3 0h1m-2 1h1m-62 1h1m2 0h2m1 0h1m26 0h1m12 0h1m9 0h1m7 0h1m7 0h1m5 0h1" stroke="#5c5c5c" stroke-width="1.15" fill="none"/><path transform="translate(409.50,21.93) scale(0.85)" d="M78 43h2m1 1h1m1 0h1m-7 1h3m1 0h1m1 0h1m-12 1h1m1 0h1m6 0h2m1 0h1m-22 1h1m5 0h2m1 0h1m4 0h1m2 0h1m-14 1h2m3 0h2m9 0h1m1 0h1m1 0h1m-27 1h1m3 0h1m3 0h1m8 0h1m-12 1h1m2 0h1m1 0h1m12 0h2m-27 1h1m3 0h1m4 0h1m1 0h1m6 0h2m3 0h1m-19 1h1m3 0h1m1 0h1m5 0h1m1 0h1m2 0h2m2 0h1m-22 1h2m2 0h2m1 0h1m3 0h1m9 0h1m-50 1h2m29 0h2m5 0h2m2 0h1m7 0h1m-16 1h2m1 0h1m14 0h1m-53 1h2m14 0h1m4 0h3m2 0h1m7 0h2m2 0h1m8 0h2m1 0h2m-66 1h1m10 0h2m2 0h1m20 0h2m7 0h2m1 0h2m2 0h1m2 0h2m8 0h1m-69 1h2m1 0h1m5 0h1m3 0h1m2 0h1m14 0h1m1 0h1m1 0h1m2 0h2m8 0h1m3 0h1m5 0h1m8 0h1m-66 1h1m1 0h1m2 0h1m1 0h1m5 0h2m10 0h3m1 0h4m4 0h1m1 0h2m22 0h1m-70 1h1m3 0h1m1 0h1m6 0h1m2 0h2m4 0h1m7 0h1m10 0h1m11 0h3m1 0h1m12 0h1m-69 1h1m4 0h1m3 0h1m1 0h1m9 0h2m8 0h2m6 0h2m1 0h1m24 0h2m1 0h1m-73 1h2m1 0h3m4 0h4m9 0h1m6 0h2m2 0h2m9 0h1m1 0h1m1 0h1m17 0h1m-67 1h1m4 0h1m1 0h3m4 0h1m2 0h1m2 0h1m3 0h1m3 0h1m1 0h1m3 0h2m27 0h1m1 0h2m4 0h1m1 0h1m-79 1h1m1 0h1m16 0h1m9 0h1m5 0h2m30 0h2m4 0h1m1 0h1m1 0h1m-79 1h1m4 0h1m1 0h2m14 0h1m2 0h2m3 0h2m2 0h1m3 0h2m2 0h2m35 0h1m-82 1h1m3 0h1m1 0h1m19 0h1m1 0h1m3 0h1m1 0h1m5 0h1m4 0h1m2 0h2m21 0h1m-74 1h2m1 0h2m31 0h1m4 0h1m1 0h2m2 0h1m3 0h1m18 0h1m3 0h1m-73 1h1m28 0h1m2 0h1m1 0h2m2 0h1m10 0h1m17 0h2m1 0h1m2 0h1m-77 1h1m1 0h1m31 0h1m3 0h1m1 0h1m1 0h1m3 0h1m3 0h1m4 0h1m16 0h1m3 0h1m-78 1h1m37 0h1m2 0h1m6 0h1m2 0h1m3 0h1m21 0h2m-40 1h2m3 0h1m8 0h1m1 0h1m12 0h1m7 0h1m1 0h1m-79 1h2m37 0h1m5 0h1m13 0h2m8 0h3m2 0h1m1 0h1m-37 1h1m2 0h1m2 0h1m18 0h3m1 0h1m4 0h1m-76 1h1m39 0h1m4 0h1m3 0h2m11 0h1m3 0h1m2 0h2m1 0h2m-76 1h2m1 0h2m37 0h1m2 0h2m1 0h1m12 0h1m4 0h2m4 0h1m-28 1h2m11 0h1m2 0h1m1 0h1m5 0h2m-29 1h1m2 0h3m4 0h2m11 0h2m1 0h1m-70 1h3m40 0h1m5 0h1m1 0h1m2 0h2m2 0h1m9 0h2m-30 1h1m10 0h1m4 0h1m2 0h2m-62 1h1m41 0h5m1 0h1m1 0h2m7 0h1m-61 1h3m44 0h1m1 0h1m3 0h1m6 0h1m-17 1h1m8 0h1m14 0h1m-69 1h1m43 0h1m6 0h1m1 0h1m11 0h1m1 0h1m-69 1h1m43 0h2m7 0h3m10 0h1m-67 1h1m43 0h1m6 0h1m1 0h1m10 0h1m-65 1h2m42 0h1m3 0h1m3 0h1m11 0h1m-21 1h1m2 0h1m14 0h1m-62 1h1m43 0h3m-48 1h1m43 0h1m2 1h1m-1 1h2m-4 1h1m3 0h2m-9 1h3m3 0h2m-8 1h1m3 0h1m1 0h1m-6 1h2m-4 1h1m4 0h1m11 0h1m-16 1h1m2 0h2m1 0h2m8 0h3m1 0h1m-20 1h1m6 0h2m4 0h1m2 0h1m-20 1h2m1 0h1m4 0h1m1 0h1m6 0h1m4 0h1m-22 1h1m15 0h3m-19 1h1m16 0h1m4 0h1m9 0h1m-34 2h1m10 1h1m1 0h1m-1 1h1m1 0h1m5 0h1m13 0h1m-36 1h1m12 0h2m6 0h1m-22 1h1m21 0h3m8 0h1m-17 1h1m1 0h1m4 0h1m-26 1h1m18 0h1m1 0h1m1 0h2m8 0h1m-35 1h1m-2 1h1m-3 1h1m-1 1h2m-38 3h1m-1 1h2m33 0h1m-35 1h1m2 0h1m-3 1h1m2 0h1m28 0h1m-34 1h1m29 0h2m-29 1h2m24 0h1m1 0h2m-31 1h1m3 1h1m24 0h2m-32 1h1m4 0h1m1 0h2m12 0h10" stroke="#202020" stroke-width="1.15" fill="none"/></g><path transform="translate(409.50,21.93) scale(0.85)" d="M78 52h1m5 0h1m-7 1h1m1 0h1m1 0h1m1 0h2m-19 1h1m10 0h1m1 0h1m1 0h3m-20 1h3m9 0h1m2 0h4m-19 1h1m2 0h1m6 0h1m6 0h2m-21 1h6m8 0h1m4 0h2m-20 1h3m1 0h1m6 0h1m1 0h1m4 0h1m2 0h1m1 0h1m-53 1h1m28 0h5m7 0h3m1 0h1m1 0h2m1 0h1m1 0h1m-52 1h1m17 0h2m22 0h3m1 0h1m1 0h2m-52 1h2m18 0h1m1 0h2m8 0h4m1 0h1m1 0h8m1 0h2m-50 1h3m18 0h2m1 0h2m7 0h3m1 0h1m4 0h2m3 0h1m-48 1h1m19 0h1m3 0h1m1 0h6m1 0h1m1 0h9m1 0h2m-62 1h1m1 0h2m1 0h3m2 0h1m1 0h1m3 0h3m16 0h1m1 0h4m1 0h1m1 0h1m3 0h1m1 0h3m1 0h2m2 0h2m-58 1h2m1 0h1m4 0h1m2 0h2m25 0h1m1 0h1m1 0h8m3 0h2m2 0h2m-59 1h1m1 0h2m1 0h4m1 0h3m29 0h4m1 0h3m3 0h3m-56 1h5m1 0h4m1 0h1m1 0h2m3 0h1m21 0h4m1 0h2m2 0h2m1 0h3m1 0h2m-65 1h5m1 0h2m1 0h1m1 0h3m2 0h6m1 0h1m3 0h1m8 0h2m10 0h3m2 0h1m1 0h2m3 0h4m-66 1h1m1 0h4m1 0h3m1 0h4m4 0h1m2 0h4m1 0h3m10 0h1m12 0h9m1 0h2m-64 1h2m1 0h5m1 0h18m2 0h1m8 0h4m12 0h5m1 0h2m-67 1h3m1 0h2m2 0h1m1 0h1m2 0h2m1 0h2m1 0h4m1 0h1m1 0h3m2 0h3m11 0h1m1 0h2m9 0h2m1 0h3m-63 1h1m1 0h1m1 0h3m3 0h4m1 0h1m1 0h6m1 0h1m3 0h1m3 0h2m1 0h1m8 0h1m1 0h1m1 0h2m1 0h1m2 0h2m4 0h1m4 0h1m-67 1h5m1 0h27m1 0h2m11 0h5m1 0h1m1 0h3m-55 1h2m2 0h4m1 0h5m2 0h2m1 0h3m1 0h4m1 0h1m1 0h1m1 0h3m11 0h1m1 0h1m1 0h4m-56 1h1m1 0h3m1 0h2m1 0h3m1 0h15m1 0h4m1 0h1m1 0h1m2 0h1m8 0h4m2 0h1m-59 1h1m3 0h2m1 0h12m1 0h12m1 0h1m1 0h1m1 0h4m1 0h1m11 0h3m-57 1h1m3 0h1m1 0h22m1 0h7m1 0h2m14 0h1m1 0h1m-55 1h4m1 0h31m2 0h1m-39 1h33m2 0h1m-36 1h32m1 0h2m-37 1h34m1 0h2m1 0h2m-39 1h1m1 0h1m1 0h1m1 0h29m1 0h2m1 0h1m-43 1h1m2 0h3m1 0h29m3 0h2m-40 1h1m1 0h30m1 0h2m2 0h2m1 0h1m-42 1h39m-38 1h3m2 0h30m1 0h3m1 0h1m-42 1h35m2 0h3m-38 1h39m-42 1h1m2 0h40m-43 1h3m1 0h33m1 0h2m1 0h1m1 0h1m-45 1h38m1 0h3m3 0h1m-46 1h37m1 0h2m1 0h1m1 0h1m2 0h2m-48 1h38m1 0h2m-41 1h39m2 0h1m-42 1h40m-40 1h37m1 0h3m-41 1h40m-40 1h37m1 0h1m1 0h2m-42 1h1m1 0h35m3 0h1m-41 1h2m1 0h37m-40 1h36m1 0h2m1 0h1m-41 1h35m1 0h1m1 0h2m-40 1h40m-40 1h2m1 0h38m-40 1h36m1 0h1m1 0h2m-42 1h34m4 0h3m-41 1h36m1 0h3m-40 1h36m1 0h2m-39 1h3m1 0h34m-38 1h1m1 0h3m1 0h30m-36 1h37m-37 1h35m-35 1h2m1 0h3m1 0h28m-35 1h23m1 0h2m2 0h3m1 0h1m1 0h1m-34 1h4m1 0h30m-34 1h1m1 0h2m1 0h21m1 0h1m1 0h3m-31 1h1m1 0h1m2 0h1m1 0h1m2 0h14m1 0h4m1 0h2m-29 1h12m1 0h7m1 0h1m1 0h4m-26 1h5m1 0h14m1 0h1m2 0h1m1 0h1m-28 1h20m1 0h2m-21 1h8m1 0h1m4 0h3m1 0h3m-22 1h1m2 0h2m1 0h10m1 0h1m1 0h2m-19 1h1m1 0h4m1 0h7m3 0h4m-19 1h11" stroke="#000" stroke-width="1.3" fill="none"/>
<path d="M409.50 128v3.6M417.67 128v2.4M422.44 128v2.4M425.83 128v2.4M428.46 128v2.4M430.61 128v2.4M432.42 128v2.4M434.00 128v2.4M435.38 128v2.4M436.62 128v3.6M444.79 128v2.4M449.57 128v2.4M452.96 128v2.4M455.58 128v2.4M457.73 128v2.4M459.55 128v2.4M461.12 128v2.4M462.51 128v2.4M463.75 128v3.6M471.92 128v2.4M476.69 128v2.4M480.08 128v2.4M482.71 128v2.4M484.86 128v2.4M486.67 128v2.4M488.25 128v2.4M489.63 128v2.4M490.88 128v3.6M499.04 128v2.4M503.82 128v2.4M507.21 128v2.4M509.83 128v2.4M511.98 128v2.4M513.80 128v2.4M515.37 128v2.4M516.76 128v2.4M518.00 128v3.6" stroke="#000" stroke-width="0.7" fill="none"/>
<path d="M409.5 128.00h-2.8M409.5 119.99h-1.8M409.5 115.30h-1.8M409.5 111.97h-1.8M409.5 109.39h-1.8M409.5 107.28h-1.8M409.5 105.50h-1.8M409.5 103.96h-1.8M409.5 102.59h-1.8M409.5 101.38h-2.8M409.5 93.36h-1.8M409.5 88.67h-1.8M409.5 85.35h-1.8M409.5 82.76h-1.8M409.5 80.66h-1.8M409.5 78.87h-1.8M409.5 77.33h-1.8M409.5 75.97h-1.8M409.5 74.75h-2.8M409.5 66.74h-1.8M409.5 62.05h-1.8M409.5 58.72h-1.8M409.5 56.14h-1.8M409.5 54.03h-1.8M409.5 52.25h-1.8M409.5 50.71h-1.8M409.5 49.34h-1.8M409.5 48.12h-2.8M409.5 40.11h-1.8M409.5 35.42h-1.8M409.5 32.10h-1.8M409.5 29.51h-1.8M409.5 27.41h-1.8M409.5 25.62h-1.8M409.5 24.08h-1.8M409.5 22.72h-1.8M409.5 21.50h-2.8" stroke="#000" stroke-width="0.7" fill="none"/>
<rect x="409.5" y="21.5" width="108.50" height="106.50" fill="none" stroke="#000" stroke-width="1.3"/>
<line x1="409.2" y1="21.5" x2="409.2" y2="128" stroke="#000" stroke-width="1.8"/>
<line x1="449" y1="21.5" x2="449" y2="128" stroke="#000" stroke-width="1.3"/>
<line x1="409.5" y1="88" x2="518" y2="88" stroke="#000" stroke-width="1.3"/>
<text x="415.0" y="31.5" font-size="6.8" text-anchor="start" font-weight="normal">4.11</text>
<text x="510" y="31.5" font-size="6.8" text-anchor="end" font-weight="normal">4.17</text>
<rect x="412.5" y="117.5" width="21.20" height="9.00" fill="#fff" stroke="#000" stroke-width="0.5"/>
<text x="414.5" y="124.5" font-size="6.8" text-anchor="start" font-weight="normal">89.9</text>
<text x="510" y="124.5" font-size="6.8" text-anchor="end" font-weight="normal">1.8</text>
<g filter="url(#bl)"><path transform="translate(34.00,145.43) scale(0.85)" d="M16 34h1m0 8h1m6 6h1m6 2h1m-18 2h1m7 0h1m7 4h1m-12 6h1m14 0h1m2 0h1m-15 2h1m15 0h1m-32 1h2m18 0h1m-18 2h1m1 0h1m2 0h1m-9 1h1m2 0h1m6 0h1m-16 1h1m25 0h1m9 0h1m5 0h1m-26 1h1m9 0h1m3 0h1m-22 1h1m12 0h1m3 0h1m-30 2h1m52 0h1m-55 1h1m12 0h1m24 0h2m7 0h1m-39 1h2m32 0h1m-36 1h1m35 0h1m10 0h1m13 0h1m-30 1h1m-41 1h1m6 1h1m41 1h1m6 1h1m-53 1h1m-5 1h1m45 1h1m-47 1h1m46 0h1m4 0h1m-4 1h1m3 0h1m29 0h1m-31 1h1m14 0h1m0 1h1m-22 1h1m9 0h1m-7 1h1m-53 1h1m51 0h1m23 0h1m-23 3h1m11 2h1m3 0h1m-70 2h1m51 0h1m-54 1h2m48 0h1m0 1h2m-2 3h1m26 0h1m-30 2h1m4 1h1m2 0h2m-7 3h1m2 1h1m19 1h1m-76 1h1m48 0h1m-49 3h1m43 1h2m2 0h1m7 1h1m-57 1h1m-1 2h1m48 0h2m-9 1h1m3 0h1m-3 2h1m-43 1h1m3 0h2m31 0h1m4 0h1" stroke="#5c5c5c" stroke-width="1.15" fill="none"/><path transform="translate(34.00,145.43) scale(0.85)" d="M25 71h1m-4 1h2m1 0h1m8 0h3m-17 1h3m3 0h1m9 0h1m-19 1h1m9 0h1m4 0h1m1 0h1m-19 1h2m2 0h1m5 0h1m5 0h1m-17 1h1m12 0h3m6 0h1m-27 1h1m1 0h3m14 0h2m7 0h1m-31 1h1m23 0h3m1 0h1m1 0h1m-6 1h2m3 0h1m-34 1h1m32 0h3m0 1h1m-37 1h1m30 0h2m2 0h1m-40 1h2m3 0h1m32 0h2m-40 1h1m3 0h1m35 0h1m-42 1h1m5 0h1m34 0h1m-41 1h1m38 0h2m2 1h1m1 0h1m-47 1h2m40 0h1m2 0h1m1 0h1m1 0h1m-8 1h1m-42 1h1m46 0h1m-49 1h1m40 0h1m-45 1h1m1 0h1m45 0h3m-5 1h1m2 0h1m-49 1h1m44 0h2m2 0h1m-51 1h1m-1 1h1m47 0h1m-2 1h1m-2 1h1m1 0h1m-2 2h1m-46 1h1m44 0h1m-47 1h1m47 0h1m-50 1h1m0 1h1m45 0h1m-47 1h1m-1 2h1m46 0h1m-49 1h2m45 0h1m-1 2h2m-47 1h1m44 0h1m-45 1h1m-3 1h2m2 0h1m39 0h1m-40 1h1m-3 1h1m-3 1h1m0 1h2m37 1h1m-39 1h1m37 0h1m-40 1h3m-3 1h1m1 0h1m35 0h1m-36 1h1m1 0h1m2 0h1m28 0h1m-30 1h3m26 0h1m-32 1h1m4 0h1m18 0h1m2 0h3" stroke="#202020" stroke-width="1.15" fill="none"/></g><path transform="translate(34.00,145.43) scale(0.85)" d="M23 73h2m-3 1h1m1 0h3m-8 2h1m3 0h4m1 0h1m-10 1h2m2 0h4m1 0h1m1 0h2m-20 1h1m1 0h1m3 0h3m1 0h6m1 0h1m2 0h1m-23 1h5m5 0h3m3 0h6m-23 1h3m1 0h5m1 0h1m1 0h6m1 0h4m1 0h2m1 0h1m1 0h1m-29 1h3m1 0h1m1 0h3m3 0h9m1 0h3m1 0h1m1 0h1m-30 1h1m1 0h1m1 0h18m1 0h3m1 0h2m-27 1h1m1 0h8m1 0h11m2 0h2m1 0h1m-33 1h1m3 0h1m1 0h29m1 0h1m-38 1h2m6 0h21m1 0h3m1 0h2m1 0h1m-37 1h2m2 0h30m1 0h1m-37 1h1m1 0h1m1 0h1m1 0h29m1 0h1m-36 1h1m1 0h29m1 0h5m-38 1h2m1 0h31m1 0h3m-38 1h3m1 0h33m1 0h1m-37 1h3m1 0h33m-39 1h1m1 0h2m1 0h33m-41 1h2m1 0h5m1 0h34m-43 1h2m1 0h41m-44 1h43m-41 1h37m1 0h3m-41 1h1m1 0h38m1 0h1m-42 1h40m1 0h1m-42 1h2m1 0h38m1 0h1m-44 1h40m1 0h1m1 0h1m-42 1h42m-45 1h1m1 0h2m1 0h38m1 0h1m-43 1h35m1 0h3m1 0h1m-43 1h3m1 0h41m-44 1h1m2 0h1m1 0h35m1 0h2m-45 1h2m1 0h37m1 0h1m1 0h1m1 0h2m-46 1h1m1 0h40m1 0h2m-45 1h1m2 0h42m-45 1h3m1 0h39m-43 1h2m1 0h38m1 0h2m-43 1h1m1 0h1m1 0h39m-38 1h36m1 0h1m-39 1h2m1 0h33m1 0h1m-37 1h32m1 0h4m-36 1h1m1 0h29m1 0h3m-37 1h30m2 0h2m1 0h1m-35 1h2m1 0h32m-37 1h2m1 0h2m1 0h21m1 0h6m-32 1h3m1 0h19m1 0h5m3 0h2m-35 1h4m2 0h22m1 0h4m-28 1h1m3 0h3m1 0h9m1 0h5m1 0h3m-26 1h1m1 0h2m1 0h9m1 0h7m1 0h3m-25 1h6m1 0h11m1 0h1m1 0h3m-23 1h18m2 0h1" stroke="#000" stroke-width="1.3" fill="none"/>
<path d="M34.00 251.25v3.6M42.24 251.25v2.4M47.06 251.25v2.4M50.48 251.25v2.4M53.13 251.25v2.4M55.30 251.25v2.4M57.13 251.25v2.4M58.72 251.25v2.4M60.12 251.25v2.4M61.38 251.25v3.6M69.62 251.25v2.4M74.44 251.25v2.4M77.86 251.25v2.4M80.51 251.25v2.4M82.68 251.25v2.4M84.51 251.25v2.4M86.10 251.25v2.4M87.50 251.25v2.4M88.75 251.25v3.6M96.99 251.25v2.4M101.81 251.25v2.4M105.23 251.25v2.4M107.88 251.25v2.4M110.05 251.25v2.4M111.88 251.25v2.4M113.47 251.25v2.4M114.87 251.25v2.4M116.12 251.25v3.6M124.37 251.25v2.4M129.19 251.25v2.4M132.61 251.25v2.4M135.26 251.25v2.4M137.43 251.25v2.4M139.26 251.25v2.4M140.85 251.25v2.4M142.25 251.25v2.4M143.50 251.25v3.6" stroke="#000" stroke-width="0.7" fill="none"/>
<path d="M34 251.25h-2.8M34 243.25h-1.8M34 238.58h-1.8M34 235.26h-1.8M34 232.68h-1.8M34 230.58h-1.8M34 228.80h-1.8M34 227.26h-1.8M34 225.90h-1.8M34 224.69h-2.8M34 216.69h-1.8M34 212.01h-1.8M34 208.70h-1.8M34 206.12h-1.8M34 204.02h-1.8M34 202.24h-1.8M34 200.70h-1.8M34 199.34h-1.8M34 198.12h-2.8M34 190.13h-1.8M34 185.45h-1.8M34 182.13h-1.8M34 179.56h-1.8M34 177.46h-1.8M34 175.68h-1.8M34 174.14h-1.8M34 172.78h-1.8M34 171.56h-2.8M34 163.57h-1.8M34 158.89h-1.8M34 155.57h-1.8M34 153.00h-1.8M34 150.89h-1.8M34 149.11h-1.8M34 147.57h-1.8M34 146.22h-1.8M34 145.00h-2.8" stroke="#000" stroke-width="0.7" fill="none"/>
<rect x="34" y="145" width="109.50" height="106.25" fill="none" stroke="#000" stroke-width="1.3"/>
<line x1="33.7" y1="145" x2="33.7" y2="251.25" stroke="#000" stroke-width="1.8"/>
<line x1="78" y1="145" x2="78" y2="251.25" stroke="#000" stroke-width="1.3"/>
<line x1="34" y1="207.75" x2="143.5" y2="207.75" stroke="#000" stroke-width="1.3"/>
<text x="39.5" y="155" font-size="6.8" text-anchor="start" font-weight="normal">0.19</text>
<text x="135.5" y="155" font-size="6.8" text-anchor="end" font-weight="normal">0.011</text>
<rect x="37" y="240.75" width="21.20" height="9.00" fill="#fff" stroke="#000" stroke-width="0.5"/>
<text x="39" y="247.75" font-size="6.8" text-anchor="start" font-weight="normal">99.4</text>
<text x="135.5" y="247.75" font-size="6.8" text-anchor="end" font-weight="normal">0.36</text>
<g filter="url(#bl)"><path transform="translate(160.00,144.93) scale(0.85)" d="M67 25h1m-9 4h1m-54 3h1m8 1h1m7 1h1m-4 1h1m45 0h1m-48 1h1m3 0h1m-2 1h1m-22 3h1m9 0h2m9 0h2m3 0h1m-9 1h1m0 1h1m11 0h1m-8 1h1m1 0h1m13 1h1m-29 1h1m4 0h1m2 0h1m38 0h1m-53 1h1m8 0h1m2 0h1m3 0h1m6 0h2m1 0h1m37 0h1m-62 1h1m12 0h1m13 0h1m-28 1h1m16 0h1m45 0h1m-60 1h1m31 0h1m14 0h1m-40 1h1m-6 1h1m12 0h2m-9 1h1m5 0h1m-18 1h1m2 0h1m1 0h1m13 0h1m4 0h1m-22 1h1m12 0h1m38 0h1m1 0h1m-56 1h1m6 1h1m11 0h1m-20 1h1m3 0h1m6 0h1m1 0h1m1 0h1m-12 1h1m9 0h1m7 0h1m-29 1h1m6 0h1m18 0h1m33 0h1m-57 1h1m7 0h2m8 0h1m3 0h1m2 0h1m23 0h1m-56 1h1m8 0h1m2 0h1m8 0h1m6 0h1m-9 1h1m-4 1h1m47 0h1m-56 1h1m9 0h1m7 0h1m-36 1h1m12 0h2m28 0h1m-28 1h1m14 0h1m2 0h1m-26 1h1m15 0h2m-18 1h1m19 0h1m-24 1h1m10 0h1m11 0h1m-24 1h1m2 0h1m23 0h1m3 0h2m4 1h1m-21 1h2m5 0h1m13 0h1m7 0h1m-22 1h1m-31 1h1m25 0h1m6 0h1m3 0h1m16 0h1m-18 1h1m-3 1h1m3 1h1m10 0h1m-16 1h1m19 0h1m-21 1h2m10 0h1m4 2h1m-17 1h1m15 0h1m8 0h2m-7 1h1m5 1h2m-24 1h1m6 0h1m3 0h1m16 0h1m-16 1h1m7 0h1m-10 1h1m-10 1h1m2 0h1m-2 1h1m14 0h1m-21 1h1m1 0h1m22 0h1m-20 1h1m1 0h1m-7 1h1m-6 1h1m2 0h1m11 0h1m4 0h1m-18 1h1m18 0h1m-17 1h1m5 0h1m1 0h1m1 0h1m5 0h2m2 0h2m-17 1h1m29 0h1m-35 1h1m6 0h1m5 0h1m3 0h1m3 0h1m2 0h1m-28 1h2m13 0h1m-15 2h1m10 0h1m3 0h1m3 0h1m-16 1h1m10 0h1m-11 1h1m1 0h1m16 0h1m-26 1h1m2 0h1m9 0h1m-10 1h1m1 0h1m4 0h1m-9 2h1m8 0h1m-4 1h1m1 0h1m2 0h1m4 0h1m-21 1h2m25 0h1m-25 1h2m10 0h1m1 0h1m-21 1h1m-2 1h1m5 0h2m6 0h1m-12 1h1m13 1h1m3 0h1m13 0h1m-28 1h1m-8 1h1m1 0h1m27 0h1m-29 1h1m2 0h1m18 0h1m-12 1h1m-13 1h1m1 0h1m29 0h1m-36 1h1m14 0h1m-8 1h1m-5 1h1m20 0h1m-62 1h1m-1 1h1m37 0h1m10 1h1" stroke="#5c5c5c" stroke-width="1.15" fill="none"/><path transform="translate(160.00,144.93) scale(0.85)" d="M21 42h1m-2 2h1m0 15h1m7 1h1m7 0h1m-24 1h1m-1 1h1m14 0h1m-16 1h1m1 1h1m6 0h2m-3 1h1m1 0h1m-6 1h3m4 0h1m-16 1h1m7 0h1m2 0h1m-10 1h1m7 0h1m-11 1h4m3 0h1m1 0h1m-9 1h1m3 0h1m3 0h1m6 0h1m-18 1h1m1 0h1m7 0h1m6 0h1m-16 1h1m2 0h1m4 0h2m6 0h2m-22 1h1m4 0h1m2 0h1m6 0h1m4 0h1m-20 1h1m2 0h1m10 0h1m-21 1h1m2 0h1m1 0h1m16 0h1m4 0h1m1 0h1m-32 1h2m4 0h1m15 0h1m3 0h1m3 0h3m-33 1h1m3 0h1m-6 1h2m2 0h1m27 0h2m1 0h1m-36 1h2m28 0h2m1 0h2m-34 1h1m-2 2h2m31 0h1m-34 1h1m32 0h2m4 0h1m-40 1h1m35 0h1m1 0h1m-39 1h1m34 0h1m1 0h1m2 0h1m-8 1h1m1 0h1m2 0h2m-1 1h1m-5 1h1m2 0h1m-3 1h1m2 0h1m-1 1h1m-3 1h1m0 1h1m-3 2h2m0 3h1m-2 1h1m-1 1h2m1 1h2m-4 1h1m1 0h1m-3 1h1m2 0h1m-4 1h1m2 0h1m-3 1h1m1 0h1m-5 1h1m1 0h1m-4 1h2m1 0h1m-5 3h2m-37 3h1m-1 1h1m-1 1h1m-1 1h1m36 0h1m-2 1h1m-37 1h1m-1 1h1m0 1h1m31 0h1m-33 2h1m32 0h1m-1 1h1m-34 1h2m1 0h1m29 0h4m-35 1h1m3 0h2m26 0h1m1 0h1" stroke="#202020" stroke-width="1.15" fill="none"/></g><path transform="translate(160.00,144.93) scale(0.85)" d="M14 70h1m-1 1h1m3 0h1m-3 1h1m1 0h1m-2 1h1m2 0h1m-11 1h2m1 0h1m1 0h1m1 0h4m-11 1h2m1 0h1m1 0h1m2 0h4m-13 1h1m1 0h2m1 0h3m1 0h1m2 0h2m-17 1h1m1 0h2m1 0h8m1 0h2m1 0h1m1 0h2m-21 1h1m1 0h1m1 0h1m1 0h2m1 0h2m3 0h1m2 0h3m1 0h3m-25 1h1m1 0h2m1 0h18m1 0h1m-27 1h6m1 0h10m1 0h4m1 0h4m1 0h1m-28 1h5m1 0h16m4 0h2m-29 1h25m1 0h3m-29 1h25m1 0h1m1 0h2m-32 1h1m1 0h1m1 0h26m1 0h1m-32 1h30m3 0h1m-35 1h2m3 0h3m1 0h22m1 0h1m-33 1h2m1 0h2m1 0h27m3 0h1m-37 1h31m1 0h2m3 0h1m-38 1h30m1 0h2m2 0h1m1 0h1m-38 1h2m1 0h31m1 0h2m-37 1h35m-35 1h34m1 0h1m-36 1h35m-35 1h32m1 0h3m-36 1h4m1 0h30m1 0h1m-37 1h36m-36 1h37m-37 1h37m-37 1h36m-36 1h32m1 0h2m2 0h1m-38 1h2m1 0h33m-36 1h38m-38 1h35m1 0h2m-38 1h37m-37 1h34m1 0h1m-36 1h35m-35 1h32m1 0h1m-34 1h35m-35 1h35m-34 1h2m1 0h29m1 0h1m-35 1h1m2 0h32m-34 1h31m1 0h2m-34 1h33m1 0h1m-34 1h3m1 0h30m-35 1h1m1 0h33m-35 1h1m1 0h26m2 0h4m-34 1h1m1 0h1m1 0h28m1 0h2m-34 1h3m2 0h27m-32 1h2m2 0h25m-28 1h2m1 0h5m1 0h17m1 0h2m-28 1h7m1 0h17m1 0h1m-28 1h1m1 0h1m2 0h1m1 0h3m1 0h6m1 0h8m1 0h4m-29 1h24m1 0h4m-25 1h13m1 0h4m1 0h4m1 0h1" stroke="#000" stroke-width="1.3" fill="none"/>
<path d="M160.00 250.5v3.6M168.09 250.5v2.4M172.82 250.5v2.4M176.18 250.5v2.4M178.78 250.5v2.4M180.91 250.5v2.4M182.71 250.5v2.4M184.27 250.5v2.4M185.65 250.5v2.4M186.88 250.5v3.6M194.97 250.5v2.4M199.70 250.5v2.4M203.06 250.5v2.4M205.66 250.5v2.4M207.79 250.5v2.4M209.59 250.5v2.4M211.15 250.5v2.4M212.52 250.5v2.4M213.75 250.5v3.6M221.84 250.5v2.4M226.57 250.5v2.4M229.93 250.5v2.4M232.53 250.5v2.4M234.66 250.5v2.4M236.46 250.5v2.4M238.02 250.5v2.4M239.40 250.5v2.4M240.62 250.5v3.6M248.72 250.5v2.4M253.45 250.5v2.4M256.81 250.5v2.4M259.41 250.5v2.4M261.54 250.5v2.4M263.34 250.5v2.4M264.90 250.5v2.4M266.27 250.5v2.4M267.50 250.5v3.6" stroke="#000" stroke-width="0.7" fill="none"/>
<path d="M160 250.50h-2.8M160 242.52h-1.8M160 237.86h-1.8M160 234.55h-1.8M160 231.98h-1.8M160 229.88h-1.8M160 228.10h-1.8M160 226.57h-1.8M160 225.21h-1.8M160 224.00h-2.8M160 216.02h-1.8M160 211.36h-1.8M160 208.05h-1.8M160 205.48h-1.8M160 203.38h-1.8M160 201.60h-1.8M160 200.07h-1.8M160 198.71h-1.8M160 197.50h-2.8M160 189.52h-1.8M160 184.86h-1.8M160 181.55h-1.8M160 178.98h-1.8M160 176.88h-1.8M160 175.10h-1.8M160 173.57h-1.8M160 172.21h-1.8M160 171.00h-2.8M160 163.02h-1.8M160 158.36h-1.8M160 155.05h-1.8M160 152.48h-1.8M160 150.38h-1.8M160 148.60h-1.8M160 147.07h-1.8M160 145.71h-1.8M160 144.50h-2.8" stroke="#000" stroke-width="0.7" fill="none"/>
<rect x="160" y="144.5" width="107.50" height="106.00" fill="none" stroke="#000" stroke-width="1.3"/>
<line x1="159.7" y1="144.5" x2="159.7" y2="250.5" stroke="#000" stroke-width="1.8"/>
<line x1="195.5" y1="144.5" x2="195.5" y2="250.5" stroke="#000" stroke-width="1.3"/>
<line x1="160" y1="207" x2="267.5" y2="207" stroke="#000" stroke-width="1.3"/>
<text x="165.5" y="154.5" font-size="6.8" text-anchor="start" font-weight="normal">0.8</text>
<text x="259.5" y="154.5" font-size="6.8" text-anchor="end" font-weight="normal">0.13</text>
<rect x="163" y="240.0" width="21.20" height="9.00" fill="#fff" stroke="#000" stroke-width="0.5"/>
<text x="165" y="247.0" font-size="6.8" text-anchor="start" font-weight="normal">98.2</text>
<text x="259.5" y="247.0" font-size="6.8" text-anchor="end" font-weight="normal">0.91</text>
<g filter="url(#bl)"><path transform="translate(285.00,144.93) scale(0.85)" d="M30 3h1m-4 12h1m9 0h1m-5 1h1m3 0h1m8 0h1m-28 1h1m1 1h1m5 0h1m10 0h1m-22 1h1m6 0h1m2 0h1m36 0h1m-42 1h1m-18 1h1m6 0h1m15 0h1m3 0h1m17 0h1m7 0h1m7 0h1m-44 1h1m2 0h2m3 0h1m11 0h1m19 0h1m-57 1h1m1 0h1m47 0h1m-59 1h1m11 0h1m3 0h1m4 0h1m11 0h1m2 0h1m-23 1h1m1 0h1m3 0h1m10 0h1m15 0h1m-24 1h1m1 0h2m2 0h1m11 0h1m30 0h1m-67 1h1m12 0h2m12 0h1m-24 1h1m11 0h1m13 0h1m9 0h1m23 0h1m-71 1h1m5 0h1m18 0h1m8 0h1m14 0h1m9 0h1m10 0h1m-72 1h1m4 0h1m25 0h1m17 0h1m11 0h1m11 0h1m-63 1h1m13 0h1m8 0h2m15 0h1m7 0h1m8 0h1m14 0h1m-78 1h1m11 0h2m1 0h1m22 0h1m8 0h1m17 0h1m7 0h1m-70 1h1m19 0h1m4 0h1m4 0h1m13 0h1m3 0h1m3 0h1m-33 1h1m2 0h2m27 0h1m5 0h2m-61 1h1m12 0h1m35 0h1m1 0h1m11 0h1m-61 1h1m15 0h2m2 0h1m6 0h1m1 0h1m10 0h2m-22 1h1m6 0h1m8 0h1m4 0h1m3 0h1m1 0h1m8 0h1m3 0h1m8 0h1m-77 1h1m30 0h1m9 0h1m20 0h1m-63 1h1m4 0h1m25 0h1m2 0h1m9 0h1m10 0h1m14 0h1m-76 1h1m9 0h1m29 0h1m3 0h1m8 0h1m8 0h1m10 0h2m-41 1h1m10 0h1m4 0h1m3 0h1m4 0h2m2 0h1m2 0h1m5 0h1m-72 1h1m35 0h1m2 0h1m10 0h1m8 0h1m3 0h1m-60 1h1m38 0h1m26 0h1m1 0h1m3 0h1m5 0h1m-84 1h1m5 0h1m27 0h1m5 0h1m2 0h1m15 0h1m15 0h1m8 0h1m-81 1h1m31 0h1m2 0h1m1 0h1m6 0h1m20 0h1m-21 1h1m13 0h1m-57 1h1m28 0h1m16 0h1m6 0h1m4 0h1m7 0h1m-72 1h1m5 0h1m32 0h1m4 0h1m10 0h1m23 0h1m-82 1h1m3 0h1m3 0h1m27 0h1m6 0h1m24 0h1m-68 1h1m1 0h1m53 0h2m7 0h2m9 0h1m-66 1h1m22 0h1m25 0h1m-62 1h1m6 0h1m1 0h1m13 0h1m-23 1h1m9 0h1m32 0h1m3 0h1m11 0h2m-56 1h1m31 0h1m5 0h1m15 0h1m16 0h1m-70 1h1m40 0h1m20 0h1m-70 1h1m3 0h1m2 0h1m37 0h1m1 0h1m14 0h1m5 0h1m-43 1h1m12 0h1m2 0h1m11 0h1m20 0h1m-70 1h1m20 0h1m2 0h1m3 0h1m3 0h1m1 0h1m4 0h1m20 0h1m-68 1h1m22 0h2m9 0h1m5 0h1m-35 1h1m-2 1h1m6 0h1m61 0h1m-75 1h2m13 0h2m2 0h1m2 0h1m40 0h1m-56 1h1m25 0h1m4 0h1m33 0h1m-67 1h1m26 0h1m25 0h1m9 0h1m11 0h1m-76 1h1m0 1h1m6 0h2m-13 1h1m31 0h1m-36 1h1m34 0h1m3 0h1m19 0h1m2 0h1m4 0h1m-65 1h2m38 0h1m19 0h1m-64 1h1m5 0h1m31 0h1m1 0h1m9 0h1m6 0h1m-57 1h1m35 0h1m13 0h1m5 0h1m-23 1h1m1 0h1m3 0h1m1 0h1m1 0h1m22 0h1m2 1h2m11 0h1m-53 1h1m2 1h1m14 0h1m6 0h1m10 0h2m-31 1h2m3 0h1m3 0h1m9 0h1m21 0h1m-33 1h1m10 0h1m3 0h1m13 0h1m-28 1h1m6 0h1m25 0h1m-41 1h1m1 0h1m3 0h1m8 0h1m4 0h1m16 0h1m-42 1h2m7 0h1m11 0h1m15 0h1m8 0h1m-47 1h1m8 0h1m5 0h1m6 0h1m2 0h1m5 0h1m8 0h1m-31 1h1m8 0h1m11 0h1m1 0h1m7 0h1m-24 1h1m4 0h1m10 0h1m2 0h1m1 0h1m2 0h1m-42 1h2m8 0h1m30 0h1m-5 1h1m9 0h1m-45 1h1m10 0h1m4 0h1m20 0h1m-37 1h1m32 1h1m-31 1h2m2 0h2m3 0h1m2 0h1m6 0h1m9 0h1m7 0h1m-33 1h1m12 0h1m20 0h1m2 0h1m-45 1h1m2 0h1m7 0h1m16 0h1m5 0h2m4 0h1m-35 1h1m7 0h1m17 0h1m7 0h1m1 0h1m-29 1h1m17 0h1m-27 1h1m13 0h1m1 0h1m10 0h1m-25 1h1m1 0h1m2 0h1m7 0h1m9 0h1m-5 1h1m7 0h1m3 0h1m-42 1h1m14 0h1m5 0h1m4 0h1m3 0h1m2 0h1m-20 1h1m15 0h1m2 0h1m-29 1h1m3 0h1m13 0h1m3 0h1m2 0h1m-23 1h1m4 0h1m10 0h2m2 0h1m4 0h1m-33 1h1m14 0h1m17 0h1m7 0h1m-46 1h1m21 0h1m9 0h1m2 0h1m4 0h1m2 0h1m-41 1h1m3 0h1m3 0h2m1 0h1m2 0h1m10 0h1m5 0h1m1 0h1m-33 1h1m2 0h1m5 0h1m-15 1h1m12 0h1m19 0h1m10 0h1m-43 1h1m1 0h1m5 0h1m11 0h1m2 0h2m8 0h2m-30 1h1m12 0h1m-13 1h1m19 0h1m19 0h1m-50 1h2m3 0h1m5 0h1m16 0h1m3 0h1m16 0h1m-29 1h1m18 0h1m5 0h1m-24 1h1m11 0h2m-28 1h1m1 0h1m5 0h1m13 0h2m18 0h1m-51 1h1m5 0h1m7 0h2m3 0h1m2 0h1m1 0h1m-21 1h1m2 0h1m3 0h1m17 0h2m4 0h2m-12 1h1m-31 1h2m11 0h1m6 0h1m3 0h1m12 0h1m2 0h1m-9 1h1m4 0h1m3 0h1m-43 1h1m7 0h1m18 0h1m5 0h1m-29 1h1m3 0h1m17 0h1m-6 1h1m0 1h1m17 0h2m-31 1h1m13 0h1m-25 1h1m8 0h1m3 0h1m5 0h1m11 0h1m1 0h2m-72 1h1m37 0h1m4 0h1m9 0h1m2 0h1" stroke="#5c5c5c" stroke-width="1.15" fill="none"/><path transform="translate(285.00,144.93) scale(0.85)" d="M25 21h1m-13 6h1m-1 1h1m15 0h1m-17 1h1m1 0h1m12 0h2m1 0h1m-20 1h1m1 0h1m7 0h1m1 0h1m4 0h1m-16 1h1m2 0h2m3 0h1m7 0h1m-16 1h1m6 0h3m-18 1h1m7 0h2m1 0h1m-13 1h2m4 0h2m-8 1h2m4 0h1m1 0h1m4 0h3m1 0h1m1 0h2m4 0h1m-26 1h1m6 0h1m4 0h1m-13 1h1m8 0h1m7 0h2m1 0h2m-13 1h1m2 0h1m1 0h2m1 0h1m13 0h1m-24 1h2m4 0h1m6 0h1m3 0h2m-19 1h1m2 0h1m3 0h2m2 0h4m1 0h2m7 0h1m-25 1h1m3 0h1m3 0h1m6 0h1m-22 1h1m2 0h2m4 0h1m2 0h2m2 0h1m4 0h1m1 0h1m6 0h1m-31 1h1m2 0h1m1 0h2m2 0h1m3 0h1m5 0h2m-21 1h1m8 0h1m2 0h1m2 0h3m-19 1h1m5 0h1m2 0h1m3 0h1m9 0h2m-23 1h2m2 0h1m1 0h1m3 0h1m8 0h1m2 0h2m7 0h1m2 0h2m-35 1h1m1 0h1m1 0h1m10 0h1m2 0h1m2 0h2m11 0h2m-34 1h2m2 0h1m7 0h1m3 0h1m2 0h1m-17 1h1m7 0h1m1 0h1m1 0h2m1 0h1m-20 1h1m3 0h1m7 0h1m3 0h1m9 0h1m-26 1h1m2 0h1m3 0h3m1 0h1m2 0h3m6 0h1m1 0h1m1 0h1m19 0h1m-48 1h1m1 0h2m3 0h1m7 0h1m1 0h1m7 0h2m19 0h1m-41 1h1m7 0h1m4 0h1m1 0h2m2 0h1m-25 1h2m6 0h1m5 0h1m3 0h4m1 0h1m-22 1h1m1 0h1m1 0h1m2 0h5m3 0h2m2 0h1m1 0h1m-27 1h1m3 0h1m4 0h1m1 0h2m6 0h1m-19 1h2m1 0h1m1 0h1m2 0h2m2 0h1m1 0h1m-16 1h4m1 0h1m3 0h1m-5 1h3m-3 1h1m11 0h1m5 0h2m-18 1h2m3 0h1m3 0h2m6 0h1m-8 1h2m6 0h1m-23 1h1m7 0h2m1 0h1m1 0h3m-11 1h1m8 0h1m-19 1h1m1 0h2m2 0h1m2 0h2m1 0h1m2 0h2m3 0h2m-21 1h1m6 0h1m7 0h1m4 0h1m1 0h1m-24 1h1m1 0h1m5 0h1m7 0h1m1 0h1m2 0h1m3 0h1m-23 1h1m16 0h1m3 0h1m-20 1h1m16 0h2m2 0h1m-25 1h1m17 0h2m-26 1h1m4 0h1m22 0h1m-30 1h1m1 0h1m3 0h1m20 0h1m38 0h1m-71 1h2m4 0h1m1 0h2m19 0h2m39 0h1m-71 1h1m5 0h1m24 0h1m1 0h1m35 0h1m-71 2h1m-1 1h1m32 0h1m1 0h2m1 0h1m4 0h2m-45 1h1m32 0h3m1 0h1m2 0h1m3 0h2m-9 1h1m-38 1h1m2 0h1m33 0h2m21 0h1m-61 1h1m-1 1h1m34 0h3m0 1h1m14 0h3m-18 1h2m15 0h3m7 0h1m1 0h1m3 0h1m2 0h1m-37 1h1m16 0h1m3 0h1m5 0h3m4 0h1m3 0h1m-37 1h1m18 0h1m5 0h1m4 0h1m1 0h1m-33 1h1m1 0h1m16 0h1m6 0h2m3 0h1m1 0h1m1 0h1m-37 1h2m1 0h1m18 0h1m9 0h1m1 0h3m-29 1h1m14 0h1m9 0h1m-33 1h1m1 0h2m19 0h3m-25 1h2m2 0h1m6 0h1m9 0h2m-23 1h1m1 0h1m26 0h1m1 0h1m-33 1h1m3 0h1m6 0h1m19 0h1m-31 1h1m3 0h2m3 0h1m20 0h2m-26 1h2m2 0h1m18 0h3m-34 1h1m2 0h2m4 0h2m5 0h1m1 0h2m-20 1h1m2 0h3m4 0h1m1 0h1m2 0h1m2 0h1m-19 1h2m1 0h1m9 0h1m1 0h1m9 0h2m11 0h1m-35 1h1m8 0h1m10 0h2m-26 1h2m1 0h3m18 0h1m1 0h1m-27 1h1m25 0h1m2 0h1m-30 1h1m1 0h1m24 0h1m2 0h1m-31 1h1m7 0h2m17 0h2m-29 1h1m7 0h1m20 0h1m-30 1h1m19 1h1m13 0h1m-36 1h1m17 0h5m10 0h2m2 0h1m-39 1h2m7 0h1m8 0h1m2 0h1m15 0h1m-31 1h1m10 0h2m16 0h1m-36 1h1m3 0h2m1 0h2m6 0h3m1 0h1m-18 2h1m3 0h1m-45 1h1m38 0h1m-40 1h1m38 0h2m-41 1h1m32 0h1m1 0h1m-36 1h2m-2 2h2m-2 1h2m32 0h1m-34 1h1m-1 1h1m33 0h1m-2 1h1m-34 1h2m30 0h2m-32 1h2m1 0h3m21 0h1m1 0h1" stroke="#202020" stroke-width="1.15" fill="none"/></g><path transform="translate(285.00,144.93) scale(0.85)" d="M18 37h2m5 0h1m-10 1h2m7 0h1m-10 1h2m7 0h1m1 3h1m1 0h1m-20 1h2m11 0h1m-14 1h3m7 0h1m6 0h1m1 0h1m-19 1h1m10 0h1m1 0h1m2 0h1m-7 1h2m2 0h1m1 0h1m3 0h1m-13 1h1m2 0h2m1 0h1m4 0h1m-11 1h2m1 0h2m-7 1h4m-7 1h1m3 0h1m-3 1h2m-5 1h1m6 11h1m1 2h1m0 1h1m-4 1h3m1 0h1m-6 1h1m1 0h5m-11 1h2m1 0h1m1 0h1m1 0h1m4 0h1m-15 1h5m1 0h4m1 0h2m1 0h1m-15 1h1m1 0h5m1 0h1m2 0h3m1 0h2m-19 1h3m1 0h1m1 0h3m3 0h4m1 0h2m-18 1h2m1 0h1m1 0h8m1 0h3m-27 1h1m1 0h1m5 0h1m1 0h1m1 0h8m1 0h1m1 0h1m-25 1h2m2 0h3m1 0h1m2 0h9m2 0h1m1 0h3m-27 1h4m1 0h1m2 0h12m1 0h1m2 0h2m1 0h2m-30 1h12m1 0h19m-32 1h1m5 0h18m1 0h1m1 0h1m1 0h2m-31 1h1m1 0h1m2 0h1m1 0h24m1 0h1m-33 1h1m5 0h13m1 0h6m1 0h2m1 0h1m-30 1h1m1 0h1m2 0h22m3 0h2m-33 1h3m2 0h4m1 0h16m1 0h6m-34 1h1m1 0h1m1 0h29m1 0h4m-37 1h2m1 0h29m2 0h1m-36 1h3m1 0h29m1 0h1m2 0h1m-38 1h34m1 0h1m-36 1h38m-38 1h2m1 0h1m1 0h29m3 0h1m-38 1h1m1 0h2m1 0h33m1 0h2m-41 1h38m-38 1h2m1 0h32m1 0h1m2 0h1m-40 1h35m1 0h2m-38 1h39m-39 1h35m1 0h1m1 0h2m-40 1h35m1 0h2m-38 1h36m1 0h2m-39 1h38m-38 1h38m-38 1h35m2 0h2m-39 1h2m1 0h34m-37 1h37m-37 1h36m1 0h2m-39 1h33m1 0h4m-38 1h36m1 0h1m-38 1h34m1 0h1m-36 1h33m1 0h2m-36 1h37m-37 1h36m-36 1h36m1 0h1m-38 1h35m2 0h1m-38 1h27m1 0h8m1 0h1m-38 1h2m1 0h36m-37 1h30m1 0h5m-37 1h1m2 0h31m-33 1h1m1 0h29m-30 1h1m1 0h26m-27 1h27m-27 1h29m-31 1h1m3 0h28m-30 1h21m1 0h3m2 0h3m-31 1h18m1 0h3m1 0h6m2 0h1m-31 1h2m3 0h1m1 0h19m2 0h2m-31 1h30m-24 1h20" stroke="#000" stroke-width="1.3" fill="none"/>
<path d="M285.00 250.5v3.6M293.05 250.5v2.4M297.76 250.5v2.4M301.11 250.5v2.4M303.70 250.5v2.4M305.82 250.5v2.4M307.61 250.5v2.4M309.16 250.5v2.4M310.53 250.5v2.4M311.75 250.5v3.6M319.80 250.5v2.4M324.51 250.5v2.4M327.86 250.5v2.4M330.45 250.5v2.4M332.57 250.5v2.4M334.36 250.5v2.4M335.91 250.5v2.4M337.28 250.5v2.4M338.50 250.5v3.6M346.55 250.5v2.4M351.26 250.5v2.4M354.61 250.5v2.4M357.20 250.5v2.4M359.32 250.5v2.4M361.11 250.5v2.4M362.66 250.5v2.4M364.03 250.5v2.4M365.25 250.5v3.6M373.30 250.5v2.4M378.01 250.5v2.4M381.36 250.5v2.4M383.95 250.5v2.4M386.07 250.5v2.4M387.86 250.5v2.4M389.41 250.5v2.4M390.78 250.5v2.4M392.00 250.5v3.6" stroke="#000" stroke-width="0.7" fill="none"/>
<path d="M285 250.50h-2.8M285 242.52h-1.8M285 237.86h-1.8M285 234.55h-1.8M285 231.98h-1.8M285 229.88h-1.8M285 228.10h-1.8M285 226.57h-1.8M285 225.21h-1.8M285 224.00h-2.8M285 216.02h-1.8M285 211.36h-1.8M285 208.05h-1.8M285 205.48h-1.8M285 203.38h-1.8M285 201.60h-1.8M285 200.07h-1.8M285 198.71h-1.8M285 197.50h-2.8M285 189.52h-1.8M285 184.86h-1.8M285 181.55h-1.8M285 178.98h-1.8M285 176.88h-1.8M285 175.10h-1.8M285 173.57h-1.8M285 172.21h-1.8M285 171.00h-2.8M285 163.02h-1.8M285 158.36h-1.8M285 155.05h-1.8M285 152.48h-1.8M285 150.38h-1.8M285 148.60h-1.8M285 147.07h-1.8M285 145.71h-1.8M285 144.50h-2.8" stroke="#000" stroke-width="0.7" fill="none"/>
<rect x="285" y="144.5" width="107.00" height="106.00" fill="none" stroke="#000" stroke-width="1.3"/>
<line x1="284.7" y1="144.5" x2="284.7" y2="250.5" stroke="#000" stroke-width="1.8"/>
<line x1="322.5" y1="144.5" x2="322.5" y2="250.5" stroke="#000" stroke-width="1.3"/>
<line x1="285" y1="202" x2="392" y2="202" stroke="#000" stroke-width="1.3"/>
<text x="290.5" y="154.5" font-size="6.8" text-anchor="start" font-weight="normal">3.21</text>
<text x="384" y="154.5" font-size="6.8" text-anchor="end" font-weight="normal">0.58</text>
<rect x="288" y="240.0" width="21.20" height="9.00" fill="#fff" stroke="#000" stroke-width="0.5"/>
<text x="290" y="247.0" font-size="6.8" text-anchor="start" font-weight="normal">94.2</text>
<text x="384" y="247.0" font-size="6.8" text-anchor="end" font-weight="normal">2.05</text>
<g filter="url(#bl)"><path transform="translate(410.00,144.93) scale(0.85)" d="M8 1h1m2 0h1m2 0h1m11 0h1m2 0h1m32 0h1m3 0h1m3 0h1m-46 1h1m32 0h2m6 0h1m-65 1h1m6 0h2m15 1h1m30 0h1m13 0h1m-53 1h3m5 0h1m-15 1h2m16 0h1m1 0h1m25 0h2m11 0h1m-67 1h1m21 0h1m21 0h2m7 0h1m-46 1h1m5 0h1m19 0h1m9 0h1m28 0h1m-76 1h1m4 0h1m1 0h1m31 0h1m2 0h1m8 0h2m4 0h1m3 0h1m6 0h1m1 0h1m-75 1h1m14 0h1m14 0h1m4 0h1m-36 1h1m11 0h1m2 0h1m16 0h1m16 0h1m5 0h1m4 0h1m7 0h2m3 0h2m1 0h1m6 0h1m-75 1h1m8 0h1m6 0h1m2 0h1m20 0h1m10 0h1m5 0h1m-51 1h1m7 0h1m3 0h1m3 0h1m7 0h1m10 0h1m20 0h1m4 0h1m-72 1h1m35 0h4m2 0h1m11 0h1m2 0h1m5 0h1m9 0h1m6 0h1m-87 1h1m38 0h1m11 0h1m12 0h2m2 0h1m7 0h1m-71 1h1m17 0h1m1 0h1m5 0h1m5 0h1m14 0h2m1 0h1m13 0h1m2 0h1m10 0h1m-48 1h1m6 0h1m1 0h1m10 0h1m4 0h1m11 0h1m-71 1h1m22 0h1m1 0h1m12 0h1m7 0h1m6 0h1m20 0h1m2 0h1m-52 1h1m1 0h2m17 0h1m2 0h1m-22 1h1m7 0h1m1 0h1m10 0h1m22 0h2m1 0h2m-82 1h1m50 0h1m2 0h1m2 0h1m4 0h1m18 0h1m1 0h2m-84 1h1m28 0h1m10 0h1m5 0h1m1 0h1m-17 1h1m9 0h1m31 0h1m8 0h1m-52 1h1m2 0h1m16 0h2m22 0h1m-38 1h2m5 0h1m1 0h1m1 0h3m3 0h1m17 0h1m-46 1h1m25 0h1m16 0h1m7 0h1m-82 1h1m33 0h1m26 0h2m1 0h1m12 0h1m2 0h1m-48 1h1m1 0h1m10 0h3m4 0h1m5 0h1m4 0h1m10 0h1m5 0h1m-82 1h1m30 0h2m19 0h2m4 0h1m27 0h1m-87 1h1m46 0h1m14 0h1m10 0h1m3 0h1m11 0h1m-62 1h1m7 0h1m3 0h1m3 0h1m12 0h1m21 0h1m3 0h1m1 0h1m-54 1h1m4 0h1m2 0h1m1 0h1m3 0h1m26 0h1m5 0h1m6 0h1m-61 1h1m6 0h1m19 0h1m8 0h1m15 0h1m-45 1h1m10 0h1m3 0h2m1 0h1m2 0h1m2 0h1m17 0h1m4 0h1m-31 1h1m22 0h1m9 0h2m-60 1h1m6 0h1m3 0h1m5 0h1m11 0h1m20 0h1m-54 1h1m12 0h1m5 0h1m11 0h1m16 0h1m-71 1h1m38 0h1m10 0h1m11 0h1m2 0h1m2 0h1m6 0h1m-33 1h2m2 0h1m8 0h1m31 0h1m-42 1h1m5 0h1m11 0h1m8 0h1m6 0h1m-82 1h2m20 0h1m28 0h1m6 0h1m11 0h1m8 0h1m-81 1h1m19 0h1m9 0h1m2 0h1m8 0h1m2 0h1m8 0h1m9 0h1m2 0h1m8 0h1m2 0h1m3 0h1m-56 1h1m2 0h1m3 0h1m2 0h1m16 0h1m12 0h1m-67 1h1m20 0h1m3 0h1m28 0h1m10 0h1m-65 1h1m22 0h1m8 0h1m5 0h1m22 0h1m-65 1h1m3 0h1m25 0h1m2 0h1m2 0h1m22 0h1m-23 1h1m3 0h1m16 0h1m1 0h1m1 0h1m-62 1h1m28 0h2m4 0h1m4 0h1m5 0h1m9 0h1m-57 1h1m2 0h1m4 1h1m34 0h1m7 0h1m-21 1h1m5 0h1m6 0h2m2 0h1m-49 1h1m35 0h1m2 0h1m-37 1h1m2 0h1m1 0h1m32 0h1m16 0h1m-60 1h1m26 0h1m3 0h1m14 0h1m8 0h1m9 0h1m1 0h1m3 0h2m-31 1h2m7 0h1m-49 1h1m35 0h1m6 0h1m7 1h1m-11 1h1m6 0h1m15 0h1m19 0h1m-85 1h1m38 0h1m20 0h1m13 0h1m-78 1h1m48 0h1m2 0h1m10 0h1m3 0h1m11 0h1m2 0h1m-82 1h1m61 0h1m18 0h1m-78 1h1m4 0h1m37 0h1m4 0h1m1 0h1m30 0h1m-72 1h2m28 0h1m1 0h1m4 0h1m7 0h1m3 0h2m8 0h1m-6 1h1m14 0h1m-80 1h1m40 0h1m1 0h1m7 0h1m15 0h1m3 0h1m6 0h1m-38 1h1m2 0h1m12 0h1m3 0h1m6 0h1m7 0h2m-74 1h1m1 0h1m39 0h1m1 0h1m2 0h1m16 0h1m-63 1h1m40 0h1m-46 1h1m38 0h2m7 0h1m5 0h1m4 0h1m2 0h1m22 0h1m-38 1h1m6 0h1m23 0h1m-82 1h1m1 0h1m44 0h1m29 0h1m4 0h1m1 0h1m1 0h1m-47 1h1m5 0h1m32 0h1m-75 1h1m40 0h1m11 0h1m3 0h2m1 0h1m-13 1h1m11 0h1m11 0h1m2 0h1m-80 1h1m79 0h1m-84 1h2m56 0h1m11 0h1m7 0h2m2 0h1m8 0h1m-25 1h2m17 0h1m6 0h1m-20 1h1m15 0h1m-91 1h2m69 0h1m9 0h1m15 0h1m-11 1h1m-1 1h1m2 0h1m-41 1h1m38 0h2m1 1h1m-95 1h1m85 0h1m-88 1h1m51 0h2m29 0h1m5 0h1m5 0h1m-47 1h1m34 0h1m2 1h1m0 1h1m3 0h1m1 0h1m13 1h1m-37 1h1m15 0h1m1 0h1m-91 1h1m50 0h1m32 0h1m9 0h1m7 0h1m-103 1h1m51 0h1m34 0h1m10 1h1m-53 1h1m3 0h1m35 0h1m7 0h1m-5 1h1m1 0h1m-4 1h1m1 0h1m4 0h2m2 0h1m-59 1h1m1 0h1m6 0h1m36 0h1m-47 1h1m7 0h1m35 0h1m-87 1h1m41 0h1m4 0h1m35 0h1m-84 1h1m50 0h1m8 0h1m24 0h1m3 0h1m4 0h1m-57 1h1m4 0h1m10 0h1m27 0h1m10 0h1m-55 1h1m43 0h1m-38 1h1m4 0h2m15 0h1m12 0h1m9 0h1m4 1h1m-12 1h1m19 0h1m-53 1h1m26 0h1m2 0h1m-45 1h1m12 0h1m6 0h2m21 0h1m11 0h1m-51 1h1m2 0h1m27 0h1m9 1h1m-31 1h1m2 0h3m11 0h1m4 0h2m3 0h1m4 0h1m-55 1h1m25 0h1m2 0h1m7 0h1m10 0h1m15 0h1m-64 1h1m14 0h1m6 0h1m1 0h1m18 0h1m12 0h1m-54 1h1m29 0h1m1 0h2m2 0h1m10 0h1m-13 1h1m3 0h1m-44 1h1m1 0h1m6 1h1m18 0h1m8 0h1m5 0h2m2 0h1m6 0h1m-52 1h1m34 0h1m2 0h1m3 0h1m2 0h1m1 0h1m-27 1h1m6 0h1m8 0h1m-43 1h1m31 0h1m10 1h2m3 0h1m1 0h1m-19 1h1m9 0h1m1 0h1m-47 2h1m37 0h3m3 0h1m10 0h1m-60 1h1m4 0h1m33 0h1" stroke="#5c5c5c" stroke-width="1.15" fill="none"/><path transform="translate(410.00,144.93) scale(0.85)" d="M20 7h1m40 1h1m-43 1h1m2 1h1m38 0h1m-44 1h1m1 0h2m-11 1h1m7 0h1m1 0h3m37 0h1m-50 1h2m-6 1h3m2 0h2m5 0h1m-11 1h2m1 0h1m8 0h1m23 0h1m-29 1h1m26 0h1m-34 1h2m1 0h1m1 0h3m2 0h1m29 0h1m10 0h1m4 0h1m1 0h1m-63 1h6m1 0h2m1 0h2m1 0h3m41 0h1m1 0h2m-64 1h3m1 0h1m6 0h1m6 0h1m4 0h1m23 0h1m11 0h2m4 0h1m1 0h1m-65 1h1m10 0h1m1 0h1m37 0h1m5 0h1m2 0h1m1 0h1m1 0h2m-69 1h1m4 0h1m1 0h2m2 0h1m2 0h1m2 0h1m1 0h1m1 0h2m31 0h1m5 0h2m5 0h2m-68 1h1m4 0h2m3 0h1m1 0h1m4 0h1m2 0h1m1 0h2m4 0h1m23 0h2m1 0h1m3 0h1m1 0h1m4 0h2m-72 1h1m3 0h4m1 0h1m10 0h1m4 0h2m3 0h1m36 0h1m2 0h1m-72 1h1m1 0h1m4 0h1m2 0h1m1 0h2m7 0h1m2 0h1m8 0h1m24 0h2m1 0h4m1 0h2m1 0h2m-69 1h1m3 0h1m7 0h1m9 0h1m39 0h1m1 0h2m1 0h2m-71 1h1m8 0h1m16 0h1m1 0h1m28 0h1m1 0h1m5 0h1m2 0h1m-69 1h1m3 0h1m1 0h1m1 0h2m11 0h3m1 0h1m1 0h2m37 0h1m1 0h1m-68 1h1m1 0h2m3 0h1m16 0h4m25 0h2m13 0h1m-67 1h2m16 0h1m1 0h1m3 0h1m8 0h2m15 0h1m12 0h1m1 0h1m9 0h1m-77 1h1m2 0h1m14 0h2m2 0h1m11 0h2m28 0h2m3 0h1m-7 1h1m3 0h1m-69 1h2m21 0h1m40 0h2m3 0h1m-71 1h3m27 0h1m35 0h3m-67 1h1m18 0h1m6 0h1m21 0h1m12 0h2m-64 1h1m24 0h1m1 0h2m30 0h2m3 0h2m-65 1h1m2 0h1m21 0h3m29 0h1m1 0h2m2 0h3m4 0h1m-71 1h2m2 0h1m14 0h1m3 0h1m3 0h2m30 0h1m9 0h1m-69 1h1m25 0h1m1 0h1m3 0h1m34 0h1m1 0h2m-70 1h1m15 0h1m1 0h1m2 0h1m1 0h2m1 0h1m4 0h1m-32 1h1m11 0h1m2 0h2m3 0h4m8 0h2m-35 1h2m9 0h1m1 0h1m18 0h2m-33 1h2m1 0h1m10 0h1m6 0h1m-22 1h1m11 0h1m-1 1h2m-13 1h2m14 0h2m-6 1h1m1 0h3m-6 1h2m5 0h1m-19 1h1m10 0h2m2 0h1m1 0h1m-18 1h1m3 0h1m10 0h1m4 0h1m-19 1h1m3 0h2m6 0h1m2 0h2m2 0h2m3 0h1m1 0h1m-29 1h1m3 0h1m5 0h2m1 0h2m2 0h4m-16 1h1m4 0h2m9 0h2m3 0h1m1 0h1m9 0h1m-33 1h3m3 0h1m16 0h1m-23 1h1m6 0h1m1 0h1m11 0h1m1 0h1m-32 1h2m4 0h1m2 0h1m2 0h2m3 0h2m11 0h1m-27 1h1m1 0h1m1 0h1m2 0h2m3 0h1m9 0h1m1 0h1m1 0h1m-33 1h1m3 0h2m2 0h2m2 0h1m1 0h3m5 0h2m1 0h4m1 0h1m2 0h1m2 0h1m-31 1h2m7 0h1m4 0h3m1 0h1m2 0h2m3 0h1m2 0h1m2 0h1m-38 1h2m3 0h3m2 0h1m3 0h1m5 0h1m2 0h2m5 0h1m1 0h1m3 0h2m-36 1h1m1 0h1m4 0h5m1 0h1m1 0h1m9 0h1m2 0h1m3 0h1m4 0h1m-38 1h1m1 0h1m10 0h4m1 0h1m5 0h2m2 0h1m-23 1h1m5 0h2m3 0h3m1 0h2m2 0h1m9 0h1m-30 1h3m4 0h1m2 0h2m-5 1h2m1 0h1m19 0h1m37 0h2m-70 1h1m6 0h1m23 0h1m34 0h2m-63 1h1m3 0h1m21 0h1m34 0h1m-65 1h1m1 0h1m47 0h1m12 0h1m-64 1h2m2 0h1m23 0h1m1 0h1m1 0h1m16 0h1m2 0h1m4 0h1m4 0h1m-65 1h1m29 0h1m10 0h1m11 0h1m11 0h2m-34 1h1m17 0h2m3 0h1m1 0h2m4 0h1m2 0h1m-35 1h1m9 0h1m17 0h1m4 0h1m-67 1h2m29 0h2m8 0h1m16 0h2m2 0h2m1 0h2m1 0h1m-70 1h1m43 0h2m16 0h1m1 0h1m1 0h1m-34 1h1m10 0h1m8 0h2m10 0h3m-70 1h1m34 0h1m1 0h3m6 0h2m8 0h1m10 0h1m-68 1h2m31 0h1m3 0h1m2 0h1m6 0h1m5 0h1m2 0h1m10 0h1m-35 1h3m4 0h2m3 0h2m1 0h1m4 0h1m2 0h2m1 0h1m8 0h1m-73 1h1m2 0h1m42 0h2m3 0h1m1 0h1m2 0h2m4 0h1m2 0h1m11 0h2m-35 1h1m2 0h1m4 0h1m5 0h2m1 0h1m1 0h1m7 0h1m2 0h1m-77 1h2m43 0h2m2 0h1m6 0h1m7 0h1m1 0h1m2 0h2m7 0h1m3 0h1m-42 1h2m1 0h1m2 0h1m3 0h1m1 0h2m2 0h3m1 0h1m2 0h1m3 0h1m4 0h1m1 0h2m-77 1h1m1 0h1m1 0h1m36 0h1m4 0h2m3 0h1m7 0h3m3 0h1m1 0h1m2 0h1m2 0h2m1 0h3m2 0h3m-83 1h1m1 0h1m37 0h1m4 0h1m17 0h1m6 0h1m3 0h1m4 0h1m1 0h1m-42 1h1m11 0h1m4 0h1m1 0h1m15 0h1m-77 1h2m39 0h1m6 0h1m3 0h2m2 0h1m2 0h3m10 0h1m4 0h1m-77 1h1m39 0h1m19 0h1m8 0h4m1 0h2m-79 1h1m50 0h2m9 0h1m2 0h2m8 0h1m-76 1h1m42 0h2m4 0h1m1 0h1m1 0h1m2 0h1m4 0h2m4 0h2m2 0h1m9 0h2m1 0h1m-84 1h1m42 0h1m4 0h1m3 0h1m1 0h1m7 0h2m5 0h1m3 0h1m5 0h1m2 0h1m-82 1h1m37 0h2m1 0h1m3 0h1m11 0h1m2 0h2m17 0h2m-81 1h1m38 0h2m3 0h3m7 0h2m2 0h1m1 0h1m2 0h1m1 0h1m-66 1h1m40 0h1m1 0h1m4 0h1m5 0h1m2 0h1m2 0h2m3 0h1m1 0h2m3 0h1m7 0h1m-84 1h2m40 0h1m5 0h1m9 0h1m5 0h1m2 0h1m1 0h2m1 0h2m7 0h1m-82 1h1m40 0h2m9 0h1m2 0h1m5 0h1m2 0h1m2 0h2m1 0h2m11 0h1m1 0h1m-86 1h2m51 0h1m1 0h1m27 0h2m-85 1h2m40 0h1m10 0h1m1 0h2m2 0h2m1 0h1m1 0h1m3 0h1m1 0h1m11 0h1m-44 1h1m15 0h1m3 0h1m2 0h2m2 0h1m1 0h1m8 0h1m2 0h1m2 0h1m-83 1h1m37 0h1m17 0h1m4 0h2m2 0h2m1 0h2m2 0h1m3 0h1m1 0h2m2 0h1m-35 1h1m7 0h2m4 0h1m5 0h2m1 0h1m8 0h1m-44 1h2m8 0h2m7 0h2m4 0h2m1 0h1m1 0h1m5 0h1m-74 1h1m45 0h1m1 0h1m7 0h1m7 0h1m1 0h1m1 0h1m1 0h1m2 0h1m4 0h1m-31 1h1m6 0h1m1 0h1m4 0h1m4 0h1m2 0h1m1 0h1m-74 1h2m33 0h1m17 0h1m7 0h1m3 0h1m4 0h2m1 0h1m6 0h1m-26 1h1m1 0h1m1 0h1m1 0h1m1 0h2m8 0h1m4 0h1m-42 1h1m17 0h3m2 0h1m3 0h1m3 0h1m4 0h1m3 0h1m12 0h1m-91 1h1m34 0h3m16 0h1m7 0h1m3 0h2m2 0h1m2 0h1m1 0h1m2 0h1m9 0h3m-91 1h1m35 0h1m26 0h1m4 0h2m2 0h1m10 0h2m1 0h1m3 0h1m-91 1h1m33 0h2m28 0h1m2 0h1m2 0h2m4 0h1m1 0h1m9 0h1m-57 1h1m30 0h1m1 0h3m-68 1h1m31 0h1m30 0h2m-1 1h2m-36 1h2m-32 1h1m32 0h1m-6 1h1m42 0h1m-72 1h1m28 0h1m-30 2h1m28 0h1m-30 1h1m26 0h2m-29 1h2m24 0h1m-3 1h1m-1 1h1m0 1h1m-26 1h3m17 0h2m2 0h1m1 0h1m-26 1h4m13 0h1m5 0h1" stroke="#202020" stroke-width="1.15" fill="none"/></g><path transform="translate(410.00,144.93) scale(0.85)" d="M12 16h1m7 1h1m-7 2h1m3 0h1m2 0h1m-12 1h2m-5 1h1m63 0h1m-52 1h1m-3 1h2m1 0h1m-4 1h4m-13 1h1m3 0h1m2 0h4m1 0h1m1 0h1m-13 1h2m1 0h1m1 0h2m1 0h3m-11 1h2m1 0h1m1 0h1m1 0h2m-10 1h1m2 0h5m-8 1h1m2 0h1m1 0h2m1 0h2m-12 1h2m2 0h7m1 0h1m2 0h1m-19 1h2m1 0h5m2 0h1m1 0h2m2 0h1m1 0h1m-18 1h4m1 0h2m1 0h6m1 0h4m-20 1h3m3 0h4m1 0h4m1 0h3m-19 1h2m1 0h2m2 0h1m1 0h3m2 0h1m1 0h1m-16 1h2m3 0h5m1 0h4m-12 1h1m1 0h3m1 0h5m1 0h1m-17 1h1m3 0h6m1 0h2m1 0h2m-14 1h2m1 0h2m2 0h1m1 0h3m1 0h1m-15 1h1m3 0h2m3 0h1m2 0h1m-11 1h2m2 0h2m5 0h1m-11 1h2m2 0h1m-4 1h5m-6 1h3m1 0h3m-8 1h1m4 0h4m-9 1h3m1 0h1m1 0h1m-7 1h1m1 0h2m1 0h3m-8 1h5m1 0h2m-3 1h1m1 0h2m-4 1h1m1 0h1m-1 1h1m-3 1h1m1 0h1m6 0h1m-8 1h1m5 0h2m-3 1h3m-6 5h1m8 1h1m5 1h1m-7 1h1m1 0h1m4 0h1m1 0h2m2 0h1m-7 1h1m3 0h4m-15 1h4m4 0h2m1 0h3m1 0h1m-15 1h2m2 0h2m1 0h4m1 0h2m-17 1h1m2 0h2m1 0h2m1 0h3m1 0h3m1 0h1m-19 1h2m1 0h8m3 0h5m-21 1h11m1 0h3m2 0h5m-27 1h1m5 0h18m1 0h1m-28 1h4m1 0h4m1 0h13m2 0h2m-24 1h2m2 0h12m1 0h5m-25 1h3m1 0h3m1 0h15m1 0h5m-29 1h1m1 0h3m1 0h18m1 0h4m-30 1h6m1 0h23m-29 1h24m1 0h2m-29 1h27m1 0h2m-30 1h1m2 0h3m1 0h22m-30 1h1m1 0h2m1 0h25m-31 1h3m1 0h1m1 0h21m1 0h1m11 0h1m-42 1h3m1 0h24m1 0h2m1 0h2m15 0h1m1 0h1m-53 1h36m6 0h1m-42 1h3m1 0h30m15 0h2m-52 1h34m1 0h1m28 0h1m-65 1h33m2 0h1m12 0h4m4 0h2m2 0h1m2 0h3m-68 1h1m3 0h31m16 0h1m8 0h1m1 0h1m1 0h1m3 0h1m-70 1h1m1 0h33m1 0h1m16 0h1m7 0h8m-71 1h1m4 0h1m1 0h28m1 0h1m1 0h2m15 0h2m10 0h1m1 0h1m-70 1h1m1 0h1m1 0h31m1 0h2m1 0h2m14 0h2m1 0h1m6 0h2m1 0h1m1 0h1m5 0h2m-78 1h1m1 0h1m1 0h1m1 0h2m1 0h31m15 0h4m15 0h3m1 0h1m-78 1h3m1 0h2m1 0h28m20 0h1m17 0h3m-74 1h1m1 0h29m1 0h2m19 0h1m17 0h3m-75 1h32m1 0h3m35 0h1m1 0h1m-72 1h1m1 0h30m22 0h1m14 0h1m1 0h1m-75 1h35m1 0h1m18 0h1m15 0h3m1 0h1m-77 1h34m1 0h1m1 0h1m16 0h1m1 0h1m2 0h1m11 0h2m1 0h4m-78 1h31m2 0h3m18 0h2m1 0h1m12 0h3m1 0h4m-78 1h3m1 0h34m16 0h1m15 0h2m3 0h1m2 0h1m-77 1h28m1 0h4m19 0h1m14 0h3m4 0h1m-76 1h30m1 0h1m1 0h1m26 0h2m6 0h1m1 0h1m-71 1h31m2 0h1m37 0h1m-72 1h2m1 0h30m28 0h1m9 0h3m-74 1h32m40 0h3m-77 1h1m1 0h29m1 0h2m40 0h3m-77 1h1m1 0h29m1 0h1m41 0h3m-78 1h3m1 0h28m1 0h1m-34 1h1m1 0h29m1 0h2m-34 1h1m1 0h28m1 0h1m1 0h1m-33 1h2m1 0h28m-31 1h29m-29 1h29m-30 1h1m2 0h22m1 0h2m-28 1h28m1 0h1m-30 1h1m1 0h3m1 0h19m2 0h2m-29 1h1m1 0h22m3 0h2m-29 1h25m3 0h1m-29 1h4m1 0h16m1 0h3m1 0h1m-27 1h1m3 0h21m1 0h2m-28 1h1m2 0h20m2 0h2m-26 1h3m1 0h1m1 0h9m1 0h6m2 0h1m-25 1h3m1 0h2m1 0h16m-23 1h3m1 0h2m1 0h10m1 0h3m-19 1h3m1 0h14m-20 1h1m2 0h1m1 0h4m1 0h4m1 0h2m3 0h1m-20 1h17m-14 1h7m1 0h3" stroke="#000" stroke-width="1.3" fill="none"/>
<path d="M410.00 250.5v3.6M418.13 250.5v2.4M422.88 250.5v2.4M426.26 250.5v2.4M428.87 250.5v2.4M431.01 250.5v2.4M432.82 250.5v2.4M434.38 250.5v2.4M435.76 250.5v2.4M437.00 250.5v3.6M445.13 250.5v2.4M449.88 250.5v2.4M453.26 250.5v2.4M455.87 250.5v2.4M458.01 250.5v2.4M459.82 250.5v2.4M461.38 250.5v2.4M462.76 250.5v2.4M464.00 250.5v3.6M472.13 250.5v2.4M476.88 250.5v2.4M480.26 250.5v2.4M482.87 250.5v2.4M485.01 250.5v2.4M486.82 250.5v2.4M488.38 250.5v2.4M489.76 250.5v2.4M491.00 250.5v3.6M499.13 250.5v2.4M503.88 250.5v2.4M507.26 250.5v2.4M509.87 250.5v2.4M512.01 250.5v2.4M513.82 250.5v2.4M515.38 250.5v2.4M516.76 250.5v2.4M518.00 250.5v3.6" stroke="#000" stroke-width="0.7" fill="none"/>
<path d="M410 250.50h-2.8M410 242.52h-1.8M410 237.86h-1.8M410 234.55h-1.8M410 231.98h-1.8M410 229.88h-1.8M410 228.10h-1.8M410 226.57h-1.8M410 225.21h-1.8M410 224.00h-2.8M410 216.02h-1.8M410 211.36h-1.8M410 208.05h-1.8M410 205.48h-1.8M410 203.38h-1.8M410 201.60h-1.8M410 200.07h-1.8M410 198.71h-1.8M410 197.50h-2.8M410 189.52h-1.8M410 184.86h-1.8M410 181.55h-1.8M410 178.98h-1.8M410 176.88h-1.8M410 175.10h-1.8M410 173.57h-1.8M410 172.21h-1.8M410 171.00h-2.8M410 163.02h-1.8M410 158.36h-1.8M410 155.05h-1.8M410 152.48h-1.8M410 150.38h-1.8M410 148.60h-1.8M410 147.07h-1.8M410 145.71h-1.8M410 144.50h-2.8" stroke="#000" stroke-width="0.7" fill="none"/>
<rect x="410" y="144.5" width="108.00" height="106.00" fill="none" stroke="#000" stroke-width="1.3"/>
<line x1="409.7" y1="144.5" x2="409.7" y2="250.5" stroke="#000" stroke-width="1.8"/>
<line x1="446.75" y1="144.5" x2="446.75" y2="250.5" stroke="#000" stroke-width="1.3"/>
<line x1="410" y1="198" x2="518" y2="198" stroke="#000" stroke-width="1.3"/>
<text x="415.5" y="154.5" font-size="6.8" text-anchor="start" font-weight="normal">5.84</text>
<text x="510" y="154.5" font-size="6.8" text-anchor="end" font-weight="normal">1.76</text>
<rect x="413" y="240.0" width="21.20" height="9.00" fill="#fff" stroke="#000" stroke-width="0.5"/>
<text x="415" y="247.0" font-size="6.8" text-anchor="start" font-weight="normal">87.6</text>
<text x="510" y="247.0" font-size="6.8" text-anchor="end" font-weight="normal">4.76</text>
<text x="1" y="317.5" font-size="26" text-anchor="start" font-weight="bold">B</text>
<g filter="url(#bl)"><path transform="translate(48.75,317.43) scale(0.85)" d="M61 5h1m-14 2h1m1 6h1m4 0h2m4 4h1m7 1h1m-12 1h1m-38 2h1m47 0h1m1 0h1m-25 1h1m21 0h1m2 0h2m4 0h1m-28 1h1m-26 1h1m9 0h1m27 0h1m4 0h1m-49 1h1m2 0h1m27 0h1m20 0h1m-40 2h1m16 0h1m5 0h1m-4 1h1m8 0h1m14 0h1m-28 1h1m8 0h1m1 0h1m10 0h1m-68 1h1m18 0h1m8 0h1m39 0h1m4 0h1m-69 1h1m42 0h1m10 0h2m2 0h1m7 0h1m-78 1h1m24 0h1m-3 1h1m37 0h2m9 0h1m-53 1h1m19 0h1m5 0h1m3 0h1m2 0h1m1 0h1m11 0h2m3 0h1m1 0h1m-58 1h1m9 0h1m27 0h1m12 0h1m6 0h1m14 0h1m-62 1h1m2 0h1m10 0h1m4 0h1m5 0h1m14 0h1m21 0h1m-71 1h1m28 0h1m9 0h1m11 0h1m-65 1h1m6 0h1m9 0h1m13 0h1m1 0h1m14 0h1m3 0h2m2 0h1m18 0h1m1 0h1m-83 1h1m16 0h1m5 0h1m2 0h1m7 0h1m2 0h1m9 0h1m4 0h1m9 0h1m9 0h1m6 0h2m-73 1h1m8 0h1m2 0h1m10 0h1m5 0h1m7 0h1m10 0h1m7 0h1m7 0h1m-75 1h1m12 0h2m4 0h1m2 0h1m22 0h1m13 0h1m8 0h1m5 0h1m-47 1h1m7 0h1m6 0h1m8 0h2m5 0h1m-60 1h1m21 0h1m2 0h1m5 0h1m1 0h1m16 0h1m1 0h1m15 0h1m-58 1h1m7 0h1m2 0h1m5 0h1m10 0h1m8 0h1m1 0h1m6 0h1m1 0h1m13 0h1m5 0h1m-43 1h1m20 0h1m-52 1h2m4 0h1m19 0h1m51 0h1m3 0h1m-77 1h1m4 0h1m3 0h2m7 0h1m1 0h2m4 0h1m1 0h1m4 0h1m3 0h1m2 0h1m1 0h1m1 0h1m5 0h1m3 0h1m2 0h1m-48 1h1m2 0h1m23 0h1m15 0h1m-40 1h1m8 0h1m8 0h1m13 0h1m23 0h1m-84 1h1m8 0h1m33 0h2m6 0h1m7 0h1m8 0h1m10 0h1m17 0h1m-94 1h1m4 0h1m17 0h1m2 0h1m4 0h1m3 0h1m10 0h1m2 0h1m1 0h2m2 0h1m15 0h2m15 0h1m-90 1h1m8 0h1m1 0h1m12 0h1m15 0h1m40 0h1m-76 1h1m8 0h1m16 0h1m2 0h1m3 0h1m1 0h1m13 0h1m5 0h1m6 0h2m18 0h1m-56 1h1m35 0h1m1 0h2m23 0h1m-101 1h1m42 0h2m6 0h1m2 0h1m3 0h1m-39 1h1m16 0h1m9 0h1m12 0h1m6 0h1m11 0h2m7 0h1m4 0h1m-56 1h1m2 0h1m19 0h1m3 0h1m5 0h1m4 0h1m-70 1h1m44 0h1m9 0h1m24 0h1m8 0h1m-86 1h1m23 0h1m7 0h1m16 0h1m38 0h1m-62 1h1m7 0h1m8 0h1m1 0h1m3 0h1m20 0h1m2 0h2m10 0h1m-92 1h1m37 0h1m14 0h1m5 0h1m1 0h1m20 0h2m4 0h1m5 0h1m-95 1h1m4 0h1m48 0h1m7 0h1m2 0h1m10 0h2m2 0h1m12 0h1m10 0h1m-105 1h2m31 0h1m3 0h1m3 0h1m3 0h1m27 0h1m21 0h1m-102 1h1m54 0h1m4 0h1m15 0h1m1 0h1m3 0h1m7 0h1m-51 1h1m5 0h1m4 0h1m2 0h1m4 0h1m5 0h1m5 0h1m3 0h1m16 0h1m4 0h1m-96 1h1m2 0h1m5 0h1m4 0h1m24 0h1m4 0h1m3 0h1m28 0h1m10 0h1m13 0h1m-59 1h1m15 0h1m36 0h1m-99 1h1m4 0h1m2 0h1m26 0h2m10 0h1m14 0h1m10 0h3m10 0h1m6 0h1m-92 1h1m38 0h1m7 0h1m10 0h1m23 0h1m-84 1h2m33 0h1m2 0h1m3 0h1m7 0h1m8 0h1m3 0h1m1 0h1m12 0h1m3 0h1m5 0h1m8 0h1m6 0h1m-59 1h1m9 0h1m2 0h1m6 0h1m3 0h1m17 0h1m-49 1h1m34 0h1m12 0h1m8 0h1m4 0h1m-65 1h1m7 0h1m11 0h1m2 0h1m2 0h1m27 0h2m-45 1h1m10 0h1m6 0h1m2 0h2m10 0h1m2 0h1m5 0h1m-50 1h1m30 0h1m6 0h1m1 0h1m18 0h1m-54 1h1m7 0h1m6 0h1m4 0h1m7 0h1m10 0h1m3 0h1m6 0h1m-93 1h1m35 0h1m24 0h1m20 0h2m4 0h2m2 0h1m4 0h1m-105 1h1m43 0h1m9 0h1m4 0h1m3 0h1m18 0h1m5 0h1m-49 1h1m9 0h1m19 0h1m8 0h1m3 0h1m-85 1h1m4 0h2m39 0h1m2 0h1m8 0h1m6 0h1m2 0h2m34 0h1m-102 1h1m55 0h1m3 0h1m8 0h2m7 0h1m14 0h1m-57 1h1m3 0h1m16 0h1m18 0h1m7 0h2m1 0h1m4 0h1m-91 1h1m38 0h1m14 0h1m4 0h1m36 0h1m-63 1h1m4 0h1m27 0h1m12 0h1m4 0h1m1 0h2m1 0h1m4 0h1m-101 1h1m4 0h1m40 0h1m13 0h1m12 0h1m6 0h2m6 0h1m-48 1h1m2 0h1m10 0h1m5 0h1m14 0h1m8 0h1m11 0h1m-99 1h1m73 0h1m2 0h1m2 0h1m7 0h2m18 0h1m-104 1h1m33 0h1m27 0h1m19 0h1m-86 1h2m61 0h1m4 0h1m1 0h1m11 0h1m9 0h1m11 0h1m2 0h1m-44 1h2m10 0h1m4 0h1m-82 1h1m4 0h1m49 0h1m25 0h1m4 0h2m6 0h3m-39 1h1m10 0h1m1 0h1m3 0h1m8 0h1m-87 1h1m2 0h1m41 0h1m35 0h1m-81 1h1m40 0h1m3 0h1m19 0h2m4 0h1m3 0h1m2 0h1m3 0h1m-37 1h1m25 0h1m3 0h1m2 0h1m4 0h2m3 0h1m-7 1h1m1 0h1m2 0h2m1 0h1m12 0h1m-105 1h1m40 0h1m7 0h1m22 0h1m4 0h1m14 0h1m12 0h1m-107 1h1m45 0h1m23 0h1m6 0h1m10 0h1m13 0h1m-100 1h1m39 0h1m49 0h1m13 0h1m-63 1h1m4 0h1m17 0h1m4 0h2m3 0h1m6 0h1m5 0h1m1 0h2m7 0h1m-53 1h1m21 0h1m51 0h1m-123 1h1m44 0h1m36 0h2m2 0h1m-87 1h1m40 0h1m38 0h1m-41 1h1m56 0h1m-28 1h1m1 0h1m5 0h1m1 0h2m2 0h1m11 0h1m-24 1h1m3 0h1m-78 1h1m41 0h1m24 0h1m3 0h1m13 0h1m9 0h1m-33 1h1m2 0h1m7 0h1m12 0h1m-45 1h1m30 0h1m24 0h1m-31 1h1m2 0h2m-7 2h1m-31 1h1m3 0h1m2 0h1m19 0h1m3 0h1m21 0h1m-53 1h1m10 0h1m7 1h1m23 0h1m-37 2h1m30 0h1m-38 1h1m15 0h1m22 0h1m-42 1h1m9 0h1m26 0h1m-35 1h1m4 0h1m2 0h1m49 0h1m-25 1h1m-35 1h2m8 0h2m19 0h1m-35 1h1m6 0h1m4 0h1m-7 1h1m11 0h1m6 0h1m23 0h1m-47 1h1m1 0h1m4 0h1m1 0h1m8 0h1m8 0h1m3 0h1m-14 1h1m10 0h2m3 0h1m7 0h1m-32 1h2m2 0h1m5 0h1m7 0h1m-36 1h2m28 0h1m3 0h1m8 0h1m-40 1h2m35 0h1m2 0h1m-31 1h1m12 0h1m-18 1h2m3 0h1m1 0h1m3 0h1m13 0h1m1 0h1m7 0h1m-81 1h1m32 0h1m2 0h1m22 0h1m3 0h1m15 0h1m8 0h1m-57 1h1m7 0h2m14 0h1m6 0h1m2 0h1m7 0h1m-75 1h1m61 0h1m7 0h1m-22 1h1m8 0h1m15 0h1m1 0h1m2 0h1m1 0h1m-82 1h1m50 0h1m22 0h1m2 0h1m-49 1h1m19 0h1m4 0h2m3 0h1m6 0h1m-64 1h1m25 0h1m10 0h2m2 0h1m13 0h1m-37 1h1m23 0h1m6 0h1m-43 1h1m13 0h1m8 0h1m15 0h1m24 0h1m-72 1h1m13 0h1m8 0h1m25 0h1m20 0h1m17 1h1m-30 1h1m3 0h1m-57 1h1m59 0h1m-55 1h1m22 0h1m7 0h1" stroke="#5c5c5c" stroke-width="1.15" fill="none"/><path transform="translate(48.75,317.43) scale(0.85)" d="M67 32h1m-7 3h2m-1 1h1m-32 1h1m-1 1h2m-2 2h2m-9 1h2m5 0h1m3 0h1m35 0h1m-36 1h1m1 0h1m32 1h3m-36 1h1m-3 1h1m36 0h1m-52 1h1m50 0h1m-64 1h2m9 0h1m-10 1h1m6 0h1m53 0h2m-64 1h2m6 0h2m9 0h1m28 0h1m12 0h1m-56 1h1m1 0h1m1 0h1m5 0h1m45 0h1m1 0h1m-56 1h1m1 0h2m8 0h1m40 0h1m-55 1h1m3 0h3m7 0h2m-1 1h1m-13 1h3m4 0h3m-18 1h2m1 0h1m5 0h1m2 0h1m1 0h2m3 0h2m-21 1h1m1 0h2m4 0h1m5 0h2m2 0h3m40 0h1m-62 1h1m1 0h3m1 0h1m2 0h1m1 0h2m2 0h1m2 0h1m1 0h1m36 1h1m2 0h1m-63 1h1m2 0h1m3 0h1m2 0h1m2 0h1m1 0h2m2 0h2m36 0h3m-60 1h3m1 0h1m4 0h1m5 0h1m1 0h1m40 0h1m2 0h3m1 0h2m-64 1h2m3 0h1m1 0h1m3 0h1m4 0h1m2 0h1m1 0h1m1 0h1m14 0h1m1 0h1m13 0h1m4 0h1m1 0h1m2 0h2m-69 1h1m2 0h1m1 0h1m1 0h1m3 0h1m1 0h2m1 0h1m4 0h1m1 0h3m16 0h1m20 0h2m2 0h1m-67 1h1m6 0h1m3 0h2m2 0h2m6 0h1m16 0h1m-26 1h1m3 0h2m3 0h1m-21 1h2m1 0h1m8 0h1m1 0h1m1 0h5m-21 1h1m-1 1h1m16 0h1m35 0h2m-60 1h1m6 0h1m-9 1h2m2 0h2m17 0h1m35 0h3m-65 1h1m1 0h1m2 0h2m1 0h1m65 0h2m-77 1h1m72 0h2m-76 1h1m1 0h3m22 0h2m1 0h1m30 0h1m10 0h1m4 0h2m3 0h2m-84 1h1m1 0h2m2 0h2m1 0h1m20 0h2m1 0h1m39 0h1m-68 1h2m20 0h1m1 0h2m2 0h1m37 0h1m-72 1h1m1 0h1m29 0h1m36 0h2m16 0h1m-85 1h2m1 0h2m23 0h2m37 0h1m-64 1h1m21 0h2m37 0h1m4 0h1m-70 1h1m2 0h1m23 0h1m2 0h2m23 0h1m-58 1h1m1 0h1m2 0h1m24 0h1m27 0h2m7 0h1m1 0h2m-71 1h1m31 0h2m1 0h1m30 0h3m-73 1h1m2 0h1m1 0h1m27 0h1m28 0h1m9 0h1m1 0h1m-74 1h1m2 0h2m66 0h2m-66 1h1m25 0h1m38 0h1m-42 1h1m41 0h1m-70 1h1m27 0h1m-33 1h1m2 0h2m27 0h1m-34 1h2m1 1h2m30 0h1m-31 1h1m28 0h1m-30 1h2m29 0h2m-35 1h1m29 0h1m1 0h1m-33 1h1m31 0h2m-34 1h1m30 0h2m32 0h1m13 0h1m-81 1h2m66 0h1m-69 1h1m2 0h1m29 0h2m46 0h1m-80 1h1m28 0h2m35 0h1m-71 1h1m1 0h1m2 0h1m-6 1h2m2 1h1m30 0h1m-34 1h2m30 0h2m-39 1h1m4 0h2m-4 1h2m2 0h1m1 0h1m-9 1h3m34 0h1m-35 1h2m32 0h1m-38 2h2m1 0h1m35 0h1m-37 1h1m31 0h4m-41 1h1m1 0h1m34 0h1m2 0h1m-37 1h1m36 0h1m-42 1h1m36 0h2m2 0h3m-45 1h1m2 0h1m35 0h2m-41 1h1m38 0h1m2 0h1m-43 1h1m-1 1h1m-1 1h1m36 1h2m-1 1h1m-2 1h1m2 0h1m-6 1h1m1 0h1m-3 3h2m-1 1h1m5 0h1m-6 1h1m1 0h2m3 0h1m-12 1h2m1 0h2m2 0h1m-3 1h1m-7 1h1m5 0h1m-39 2h1m50 0h2m-53 1h1m29 0h3m-33 1h1m27 0h1m4 0h1m-4 1h1m2 0h1m-31 1h2m24 0h2m1 0h1m40 0h1m-47 1h1m1 0h2m-27 1h1m2 0h1m14 0h1m1 0h1m1 0h1m3 0h1m24 0h2m-54 1h1m1 0h1m3 0h1m13 0h1m3 0h1m3 0h2m24 0h1m-52 1h2m2 0h1m1 0h2m4 0h1m2 0h1m2 0h1m-11 1h1m2 0h1m1 0h2m2 0h1m1 0h1m-12 1h2m1 0h1m1 1h1" stroke="#202020" stroke-width="1.15" fill="none"/></g><path transform="translate(48.75,317.43) scale(0.85)" d="M32 54h1m-1 1h1m-6 2h1m-14 4h1m6 2h1m-3 1h1m1 0h1m1 0h1m-5 1h1m1 0h1m1 0h4m-8 1h1m2 0h1m1 0h4m4 0h1m-12 1h1m1 0h2m1 0h3m1 0h2m1 0h1m-13 1h1m1 0h3m1 0h6m-14 1h1m4 0h2m1 0h5m-14 1h7m2 0h1m1 0h1m1 0h1m-15 1h1m1 0h2m1 0h2m1 0h3m1 0h1m1 0h2m-18 1h2m1 0h2m1 0h4m1 0h1m2 0h3m-16 1h4m1 0h11m-15 1h15m-18 1h1m3 0h13m2 0h3m-21 1h8m1 0h10m-17 1h19m-19 1h4m1 0h1m1 0h9m1 0h1m-22 1h1m1 0h1m1 0h17m1 0h1m1 0h1m-24 1h2m1 0h21m-27 1h3m2 0h17m1 0h4m-25 1h19m1 0h1m2 0h1m-26 1h2m3 0h21m-23 1h1m1 0h19m1 0h1m-25 1h1m3 0h20m-25 1h26m-27 1h2m2 0h21m1 0h1m-27 1h1m2 0h4m1 0h3m1 0h14m-21 1h22m-24 1h5m1 0h18m-24 1h1m1 0h23m-29 1h2m3 0h23m-27 1h26m-25 1h1m1 0h25m-27 1h27m-25 1h3m1 0h21m-24 1h1m1 0h20m2 0h1m-27 1h24m2 0h1m-31 1h1m1 0h1m1 0h1m1 0h3m1 0h16m1 0h4m-29 1h1m1 0h1m1 0h1m1 0h22m-28 1h1m1 0h1m1 0h26m-26 1h2m1 0h20m1 0h1m-28 1h1m1 0h1m2 0h2m1 0h17m1 0h2m-30 1h2m1 0h26m-30 1h4m3 0h21m1 0h1m-30 1h1m2 0h4m1 0h14m1 0h7m-31 1h1m1 0h1m1 0h25m-31 1h2m2 0h1m1 0h23m1 0h1m1 0h1m-31 1h4m1 0h25m2 0h1m-38 1h2m3 0h12m1 0h10m1 0h5m-32 1h1m4 0h4m2 0h21m-34 1h12m1 0h16m1 0h4m-33 1h1m2 0h3m1 0h26m-35 1h2m1 0h1m1 0h31m-36 1h1m1 0h28m1 0h1m1 0h3m-36 1h32m3 0h1m-36 1h33m1 0h1m-36 1h34m1 0h1m-36 1h2m1 0h29m1 0h2m-35 1h31m1 0h2m-34 1h34m-34 1h34m-34 1h26m1 0h4m1 0h3m-35 1h33m1 0h2m-36 1h29m1 0h2m-32 1h2m1 0h29m-32 1h4m1 0h26m-31 1h23m1 0h5m1 0h2m-31 1h2m1 0h2m1 0h3m1 0h15m1 0h1m1 0h2m-27 1h5m1 0h11m1 0h5m-22 1h7m2 0h10m2 0h1m-23 1h1m1 0h10m3 0h2m1 0h6m-23 1h2m2 0h2m1 0h1m1 0h5m1 0h1m1 0h2m1 0h1m-20 1h2m2 0h4m1 0h5m1 0h1m1 0h1m1 0h1m2 0h1m-21 1h5m1 0h3m1 0h1m1 0h1m-9 1h1m2 0h2m1 0h2m-6 1h1m2 0h1" stroke="#000" stroke-width="1.3" fill="none"/>
<rect x="48.75" y="317" width="126.25" height="124.00" fill="none" stroke="#000" stroke-width="1.7"/>
<path d="M48.75 441v4.6M58.25 441v3.0M63.81 441v3.0M67.75 441v3.0M70.81 441v3.0M73.31 441v3.0M75.42 441v3.0M77.25 441v3.0M78.87 441v3.0M80.31 441v4.6M89.81 441v3.0M95.37 441v3.0M99.32 441v3.0M102.37 441v3.0M104.87 441v3.0M106.99 441v3.0M108.82 441v3.0M110.43 441v3.0M111.88 441v4.6M121.38 441v3.0M126.93 441v3.0M130.88 441v3.0M133.94 441v3.0M136.44 441v3.0M138.55 441v3.0M140.38 441v3.0M141.99 441v3.0M143.44 441v4.6M152.94 441v3.0M158.50 441v3.0M162.44 441v3.0M165.50 441v3.0M168.00 441v3.0M170.11 441v3.0M171.94 441v3.0M173.56 441v3.0M175.00 441v4.6" stroke="#000" stroke-width="0.8" fill="none"/>
<path d="M48.75 441.00h-3.4M48.75 431.67h-2.2M48.75 426.21h-2.2M48.75 422.34h-2.2M48.75 419.33h-2.2M48.75 416.88h-2.2M48.75 414.80h-2.2M48.75 413.00h-2.2M48.75 411.42h-2.2M48.75 410.00h-3.4M48.75 400.67h-2.2M48.75 395.21h-2.2M48.75 391.34h-2.2M48.75 388.33h-2.2M48.75 385.88h-2.2M48.75 383.80h-2.2M48.75 382.00h-2.2M48.75 380.42h-2.2M48.75 379.00h-3.4M48.75 369.67h-2.2M48.75 364.21h-2.2M48.75 360.34h-2.2M48.75 357.33h-2.2M48.75 354.88h-2.2M48.75 352.80h-2.2M48.75 351.00h-2.2M48.75 349.42h-2.2M48.75 348.00h-3.4M48.75 338.67h-2.2M48.75 333.21h-2.2M48.75 329.34h-2.2M48.75 326.33h-2.2M48.75 323.88h-2.2M48.75 321.80h-2.2M48.75 320.00h-2.2M48.75 318.42h-2.2M48.75 317.00h-3.4" stroke="#000" stroke-width="0.7" fill="none"/>
<text x="40.8" y="459.3" font-size="10.3">10<tspan dy="-4.2" font-size="7.8">0</tspan></text>
<text x="72.3" y="459.3" font-size="10.3">10<tspan dy="-4.2" font-size="7.8">1</tspan></text>
<text x="103.9" y="459.3" font-size="10.3">10<tspan dy="-4.2" font-size="7.8">2</tspan></text>
<text x="135.4" y="459.3" font-size="10.3">10<tspan dy="-4.2" font-size="7.8">3</tspan></text>
<text x="167.0" y="459.3" font-size="10.3">10<tspan dy="-4.2" font-size="7.8">4</tspan></text>
<text x="45.8" y="444.6" font-size="10.3" text-anchor="end">10<tspan dy="-4.2" font-size="7.8">0</tspan></text>
<text x="45.8" y="413.6" font-size="10.3" text-anchor="end">10<tspan dy="-4.2" font-size="7.8">1</tspan></text>
<text x="45.8" y="382.6" font-size="10.3" text-anchor="end">10<tspan dy="-4.2" font-size="7.8">2</tspan></text>
<text x="45.8" y="351.6" font-size="10.3" text-anchor="end">10<tspan dy="-4.2" font-size="7.8">3</tspan></text>
<text x="45.8" y="320.6" font-size="10.3" text-anchor="end">10<tspan dy="-4.2" font-size="7.8">4</tspan></text>
<rect x="50" y="321.25" width="37.00" height="87.50" fill="none" stroke="#000" stroke-width="1.4"/>
<rect x="92" y="321.25" width="61.00" height="87.50" fill="none" stroke="#000" stroke-width="1.4"/>
<rect x="50" y="416.25" width="37.00" height="24.75" fill="none" stroke="#000" stroke-width="1.4"/>
<rect x="92" y="416.5" width="61.00" height="24.50" fill="none" stroke="#000" stroke-width="1.4"/>
<rect x="50.5" y="426.8" width="24.50" height="12.40" fill="#fff" stroke="#000" stroke-width="0.8"/>
<text x="53.1" y="336.9" font-size="10.8" text-anchor="start" font-weight="normal">45.3</text>
<text x="146.7" y="336.9" font-size="10.8" text-anchor="end" font-weight="normal">3.37</text>
<text x="51.8" y="436.3" font-size="10.8" text-anchor="start" font-weight="normal">43.2</text>
<text x="146.5" y="436.3" font-size="10.8" text-anchor="end" font-weight="normal">0.72</text>
<text x="23.7" y="382" font-size="14" text-anchor="middle" font-weight="normal" transform="rotate(-90 23.7 382)">CD41</text>
<text x="112" y="477.7" font-size="14.5" text-anchor="middle" font-weight="normal">Venus</text>
<text x="1" y="522" font-size="26" text-anchor="start" font-weight="bold">C</text>
<g filter="url(#bl)"><path transform="translate(48.75,519.92) scale(0.85)" d="M42 8h1m-38 1h1m13 0h1m-5 1h1m0 1h1m3 0h2m7 1h1m-23 2h1m5 0h1m9 0h1m24 0h1m-29 1h1m2 0h1m6 0h1m1 0h1m4 0h1m4 0h1m7 0h1m-22 1h1m2 0h1m7 0h1m-33 1h1m1 0h1m4 0h2m20 0h1m-29 1h2m26 0h1m6 0h1m2 0h1m-35 1h1m10 0h1m32 0h1m-58 2h2m2 0h1m3 0h1m30 0h1m7 0h2m3 0h1m-46 1h1m6 0h1m21 0h1m9 0h1m8 0h1m7 0h1m-57 1h1m-2 1h1m2 0h3m25 0h1m8 0h1m3 0h1m3 0h1m1 0h1m4 1h1m-62 1h2m3 0h1m-1 1h1m49 0h1m18 1h1m-75 1h1m58 0h1m2 1h1m1 2h1m-7 1h1m1 1h1m4 0h3m-5 1h1m10 1h1m1 0h1m1 0h1m-15 1h1m-61 1h1m68 0h1m-70 1h1m60 0h1m9 0h1m-4 1h1m-6 1h1m4 0h1m-72 3h1m4 0h1m66 0h1m2 0h1m4 0h1m-65 1h1m-15 1h1m5 0h1m6 0h1m12 0h1m2 0h1m5 0h1m38 0h1m4 0h1m-43 1h1m32 0h1m2 0h1m-77 1h1m24 0h1m8 0h1m43 0h1m-79 1h2m5 0h1m2 0h1m17 0h1m8 0h1m3 0h1m2 0h1m32 0h1m-73 1h1m19 0h1m3 0h1m5 0h1m5 0h1m-14 1h1m3 0h1m-21 1h1m18 0h1m3 0h1m5 0h1m38 0h1m-78 1h1m1 0h1m22 0h1m6 0h1m4 0h1m2 0h1m2 0h1m37 0h1m1 0h1m-52 1h1m47 0h1m-53 1h1m9 0h1m7 0h1m-44 1h1m77 0h1m-53 1h2m12 0h1m3 0h1m-9 1h1m4 0h1m3 0h1m34 0h1m-80 1h1m38 0h1m5 0h1m35 1h1m-57 1h1m14 0h1m1 0h1m40 0h1m-57 1h1m9 0h1m42 0h1m-87 1h1m38 0h1m3 0h1m4 0h1m36 0h1m-85 1h1m4 0h1m25 0h1m17 0h1m40 0h1m-85 1h1m28 0h1m6 0h1m6 0h1m-51 1h1m-2 1h1m35 0h1m15 0h1m-12 1h1m49 0h1m-91 1h1m33 0h1m15 0h1m2 0h1m-20 1h1m17 0h1m-52 1h1m88 0h1m-91 1h1m38 0h1m-41 1h1m34 0h1m2 0h1m11 0h1m1 0h1m39 0h1m-87 1h1m36 0h1m8 0h1m2 0h1m-56 1h1m38 0h1m-39 2h1m53 0h1m1 0h1m1 0h1m33 0h1m-93 1h2m35 0h1m18 0h1m-22 1h1m19 1h1m36 0h1m-58 1h1m22 0h1m2 0h1m27 0h2m-56 1h1m1 0h1m21 0h2m3 1h1m27 0h1m-57 1h2m22 0h1m28 0h1m-40 1h1m15 0h1m26 0h1m4 0h1m-41 1h1m3 0h1m3 0h1m29 0h1m-38 1h2m1 0h1m2 0h1m-26 1h1m18 0h1m8 0h1m-13 1h2m37 0h1m5 0h1m-62 1h1m2 0h1m21 0h1m35 0h1m-36 1h2m-31 1h1m1 0h1m21 0h1m-22 1h1m12 0h1m8 0h1m2 0h1m-9 1h1m4 0h1m4 0h1m26 0h1m8 0h1m-60 1h1m5 0h1m4 0h1m4 1h2m-19 1h1m21 0h2m-24 1h1m8 0h1m2 0h1m-10 1h1m19 0h1m-21 1h1m10 0h1m7 0h1m1 0h1m28 0h1m3 0h1m-38 1h1m-20 1h1m6 0h1m2 0h2m5 0h1m2 0h1m4 0h1m25 0h1m-47 1h1m7 0h1m-13 1h1m6 0h1m3 0h1m2 0h3m-18 1h1m20 0h1m1 0h1m-23 1h1m12 0h1m3 0h1m1 0h1m31 0h1m2 0h1m-43 1h1m37 0h2m-50 1h1m10 0h1m-16 1h1m3 0h1m15 0h1m-13 1h1m43 0h1m-45 1h1m1 0h1m4 0h1m38 0h1m-43 1h1m2 0h1m2 0h1m36 0h1m-53 1h2m1 0h1m5 0h1m12 0h1m-18 1h1m-9 1h1m3 0h1m2 0h1m5 0h1m4 0h1m-7 1h1m42 0h1m-2 1h1m-55 1h1m1 0h2m2 0h1m2 0h1m5 0h2m36 0h1m-51 1h2m4 0h1m14 0h1m-19 1h1m-8 1h1m10 0h1m8 0h2m4 0h1m-30 1h2m9 0h1m11 0h1m3 0h1m28 0h1m-41 1h1m11 0h1m30 0h1m-56 1h1m5 0h1m3 1h2m10 0h1m1 0h1m1 0h1m25 0h1m-53 1h1m8 0h1m4 0h1m2 0h1m2 0h1m6 0h1m-22 1h1m2 0h1m5 0h1m11 0h1m25 0h1m-49 1h1m14 0h1m33 0h1m1 0h1m-29 1h1m20 0h1m-50 1h1m6 0h1m8 0h2m31 0h1m-54 1h1m1 0h1m21 0h1m1 0h1m8 0h1m13 0h1m5 0h1m-56 1h1m2 0h1m13 0h1m14 0h1m-25 1h1m11 0h2m2 0h1m1 0h1m5 0h1m17 0h1m-53 1h1m11 0h1m3 0h1m14 0h1m7 0h1m12 0h1m-55 1h1m8 0h1m7 0h1m6 0h1m6 0h1m8 0h1m1 0h1m12 0h1m6 0h1m-64 1h1m24 0h1m1 0h1m3 0h2m2 0h1m1 0h1m17 0h1m5 0h1m-59 1h1m29 0h1m9 0h1m3 0h1m-83 1h1m41 0h1m7 0h1m4 0h1m19 0h1m7 0h1m-52 1h1m1 0h1m2 0h1m22 0h1m11 0h1m12 0h1m14 0h1m-99 1h1m49 0h1m40 0h1m-86 1h1m18 0h1m19 0h1m19 0h1m9 0h1m-70 1h1m5 0h1m11 0h1m17 0h1m-44 1h1m6 0h1m42 0h1m18 0h1m2 0h1m7 0h1m-79 1h1m1 0h1m6 0h1m19 0h1m11 0h1m3 0h1m8 0h1m15 0h1m3 0h1m6 0h2m7 0h1m-86 1h1m2 0h1m1 0h1m5 0h2m6 0h1m9 0h1m18 0h1m6 0h1m8 0h1m7 0h1" stroke="#5c5c5c" stroke-width="1.15" fill="none"/><path transform="translate(48.75,519.92) scale(0.85)" d="M19 16h1m1 0h2m-2 1h1m5 0h1m4 0h1m2 0h1m-17 1h2m5 0h3m7 0h1m-22 1h1m3 0h1m1 0h1m6 0h1m3 0h1m1 0h1m5 0h1m-24 1h2m9 0h1m1 0h1m1 0h3m5 0h1m1 0h1m-29 1h1m5 0h1m3 0h1m6 0h2m8 0h2m-42 1h1m15 0h2m1 0h4m1 0h1m-26 1h1m11 0h1m2 0h2m2 0h1m1 0h2m3 0h2m4 0h1m8 0h1m5 0h1m1 0h1m-50 1h2m15 0h1m1 0h1m2 0h1m2 0h3m3 0h1m2 0h2m4 0h2m2 0h1m-45 1h1m7 0h1m3 0h5m11 0h1m1 0h1m3 0h2m1 0h2m1 0h1m2 0h1m5 0h2m-11 1h1m2 0h1m2 0h1m1 0h1m1 0h1m-42 1h2m1 0h2m27 0h1m1 0h2m4 0h1m-40 1h2m2 0h1m1 0h1m25 0h1m8 0h2m2 0h1m-54 1h1m1 0h1m1 0h1m2 0h1m4 0h1m23 0h2m1 0h1m5 0h3m4 0h1m1 0h1m-53 1h1m1 0h1m2 0h2m35 0h1m8 0h1m1 0h1m-58 1h3m7 0h2m2 0h1m26 0h2m13 0h1m-54 1h1m8 0h2m1 0h1m11 0h1m9 0h3m2 0h1m-43 1h2m3 0h1m2 0h1m3 0h1m10 0h2m1 0h2m4 0h1m3 0h1m13 0h1m-51 1h2m1 0h1m4 0h2m2 0h1m11 0h1m8 0h1m1 0h1m1 0h1m17 0h2m-57 1h1m1 0h1m1 0h2m2 0h1m3 0h1m2 0h1m21 0h1m19 0h2m2 0h1m-62 1h1m1 0h1m7 0h1m13 0h3m9 0h1m21 0h2m-50 1h1m23 0h3m24 0h2m-54 1h1m1 0h1m2 0h1m15 0h2m1 0h2m4 0h1m-37 1h1m6 0h1m4 0h1m11 0h1m7 0h1m3 0h1m7 0h1m14 0h2m-63 1h1m6 0h1m5 0h1m2 0h1m9 0h1m5 0h1m2 0h1m2 0h1m7 0h1m-47 1h2m3 0h1m2 0h1m22 0h1m6 0h1m-40 1h2m2 0h1m1 0h1m2 0h2m1 0h1m4 0h1m14 0h1m1 0h6m24 0h1m4 0h1m1 0h1m-72 1h1m3 0h1m7 0h2m4 0h1m7 0h2m3 0h2m3 0h1m1 0h1m2 0h1m4 0h1m20 0h1m-63 1h1m4 0h1m2 0h1m6 0h1m4 0h1m1 0h1m2 0h2m5 0h1m2 0h1m25 0h1m1 0h3m-60 1h1m1 0h1m1 0h1m4 0h1m3 0h1m7 0h1m13 0h1m23 0h2m-60 1h1m1 0h1m10 0h1m17 0h1m3 0h3m20 0h1m-60 1h1m32 0h1m5 0h1m17 0h1m-59 1h1m1 0h2m4 0h1m3 0h1m49 0h1m2 0h1m-63 1h1m3 0h1m4 0h1m20 0h1m5 0h1m1 0h1m17 0h2m2 0h1m-66 1h1m4 0h1m1 0h2m7 0h1m8 0h1m12 0h1m1 0h4m2 0h1m24 0h1m-75 1h1m1 0h1m8 0h1m5 0h1m18 0h1m2 0h2m6 0h1m1 0h1m19 0h1m-67 1h1m6 0h1m2 0h2m2 0h2m24 0h1m1 0h1m3 0h2m18 0h1m1 0h3m-72 1h1m1 0h1m3 0h2m8 0h1m6 0h1m22 0h1m23 0h1m-69 1h1m5 0h2m8 0h1m1 0h2m22 0h4m25 0h1m-70 1h2m7 0h1m6 0h1m26 0h1m24 0h1m-73 1h3m2 0h1m11 0h1m4 0h1m24 0h1m26 0h1m-70 1h1m3 0h1m10 0h2m-21 1h1m1 0h2m3 0h1m13 0h1m23 0h1m27 0h1m1 0h2m-74 1h1m2 0h1m8 0h1m5 0h1m18 0h1m5 0h2m-46 1h1m2 0h1m40 0h1m27 0h1m2 0h1m-78 1h1m1 0h1m4 0h1m11 0h1m54 0h1m-75 1h1m1 0h1m1 0h3m1 0h1m12 0h2m21 0h3m1 0h1m-30 1h1m2 0h1m23 0h1m29 0h2m-77 1h1m2 0h1m17 0h1m23 0h2m-45 1h1m18 0h1m1 0h1m23 0h2m-55 1h1m1 0h1m27 0h1m21 0h2m27 0h2m-83 1h2m6 0h1m44 0h1m28 0h1m-81 1h1m2 0h1m23 0h2m23 0h1m29 0h3m-88 1h1m4 0h2m48 0h1m30 0h1m-83 1h1m1 0h1m24 0h1m21 0h1m1 0h1m29 0h2m-80 1h1m22 0h1m23 0h2m29 0h1m-79 1h1m24 0h1m52 0h1m-55 1h2m23 0h1m-2 1h3m28 0h3m-83 1h2m24 0h1m54 0h1m1 0h1m-84 1h1m25 0h4m22 0h1m0 1h1m1 0h1m26 0h1m-86 1h2m27 0h2m24 0h1m1 0h1m26 0h1m-89 1h1m4 0h1m2 0h1m2 0h2m74 0h1m-84 1h2m2 0h1m21 0h1m32 0h1m23 0h1m-89 1h2m1 0h1m27 0h1m33 0h1m21 0h1m-88 1h2m31 0h1m31 0h1m2 0h1m19 0h1m-56 1h2m33 0h1m17 0h2m-55 1h1m53 0h1m-18 1h3m2 0h1m11 0h1m1 0h1m1 0h1m-56 1h1m33 0h1m4 0h1m14 0h1m-57 1h2m36 0h1m2 0h1m15 0h1m-24 1h1m4 0h1m-38 1h1m33 0h1m1 0h1m1 0h1m1 0h1m13 0h1m-20 1h1m4 0h1m16 0h1m-21 1h1m1 0h1m16 0h1m-22 1h1m20 0h2m-22 1h2m2 0h1m-40 1h1m31 0h1m1 0h2m1 0h1m1 0h1m-10 1h1m3 0h1m21 0h1m-55 1h1m29 0h1m3 0h1m20 0h2m-58 1h1m34 0h1m20 0h1m-27 1h1m1 0h2m-31 1h1m29 0h2m-31 1h1m29 0h1m22 0h1m-2 1h1m-54 1h2m29 0h1m-29 1h1m26 0h1m-31 1h2m1 0h1m-5 1h2m12 0h1m16 0h1m-31 1h1m12 0h1m1 0h1m10 0h1m3 0h1m22 0h1m-54 1h1m11 0h2m1 0h1m11 0h1m-27 1h1m11 0h2m9 0h1m1 0h1m2 0h1m-30 1h1m1 0h1m23 0h3m25 0h1m-54 1h1m16 0h1m7 0h2m1 0h1m2 0h1m-16 1h1m6 0h2m-26 1h2m14 0h1m6 0h2m4 0h1m25 0h1m-56 1h2m20 0h1m2 0h1m4 0h2m22 0h1m-53 1h1m25 0h1m2 0h2m-33 1h1m1 0h1m21 0h3m2 0h1m26 0h1m-56 1h1m21 0h3m1 0h1m3 0h1m23 0h1m-56 1h2m12 0h1m7 0h1m1 0h2m2 0h1m1 0h1m24 0h1m-57 1h2m13 0h1m9 0h1m5 0h1m3 0h1m19 0h1m-40 1h3m1 0h1m11 0h1m-34 1h1m21 0h2m9 0h2m-16 1h2m12 0h2m-36 1h1m20 0h1m35 0h1m-38 1h2m13 0h1m-37 1h1m21 0h2m12 0h1m-34 1h1m33 0h1m19 0h1m-55 1h2m30 0h2m19 0h1m-19 1h1m16 0h1m1 0h1m-56 1h2m1 0h1m33 0h1m15 0h1m-58 1h1m1 0h1m1 0h1m48 0h1m-53 1h1m4 0h1m31 0h3m10 0h1m-51 1h1m1 0h1m39 0h2m1 0h2m3 0h1m-54 1h2m1 0h1m36 0h1m5 0h1m3 0h3m-56 1h2m1 0h1m47 0h2m2 0h2m-57 1h1m3 0h1m1 0h1m44 0h1m6 0h1m-89 1h1m29 0h1m48 0h1m1 0h2m3 0h2m-88 1h1m1 0h1m20 0h1m8 0h1m52 0h3m-83 1h1m17 0h1m5 0h3m51 0h1m2 0h1m-81 1h1m1 0h1m1 0h1m3 0h2m10 0h3m1 0h1m55 0h1m-81 1h1m4 0h1m11 0h1m-14 1h1m10 0h1m1 0h1m-9 1h1m1 0h2m-2 1h1m1 0h2m1 0h1m-8 1h1m1 0h1m6 0h1m-5 1h1m1 0h1m1 0h1m1 0h1m-3 1h2" stroke="#202020" stroke-width="1.15" fill="none"/></g><path transform="translate(48.75,519.92) scale(0.85)" d="M24 23h1m-5 2h1m3 0h3m5 0h1m9 0h1m-26 1h1m1 0h2m2 0h1m4 0h1m1 0h2m1 0h2m-18 1h7m1 0h1m1 0h1m2 0h3m2 0h2m-20 1h2m2 0h1m1 0h3m1 0h3m1 0h1m1 0h1m1 0h3m6 0h1m4 0h2m-39 1h1m2 0h3m1 0h2m1 0h3m2 0h3m2 0h2m1 0h3m5 0h3m5 0h1m-44 1h1m10 0h1m1 0h5m3 0h6m1 0h1m1 0h1m4 0h1m1 0h1m1 0h1m1 0h1m2 0h2m-50 1h1m2 0h1m8 0h2m1 0h1m3 0h2m1 0h1m1 0h2m2 0h1m2 0h2m7 0h2m4 0h1m1 0h1m1 0h1m-50 1h5m7 0h3m4 0h1m7 0h1m1 0h1m1 0h1m6 0h1m1 0h1m1 0h1m1 0h2m1 0h4m-50 1h1m9 0h2m1 0h3m6 0h4m8 0h1m1 0h1m2 0h4m2 0h4m-48 1h1m7 0h6m1 0h1m5 0h2m2 0h1m8 0h3m1 0h3m1 0h2m2 0h2m-37 1h2m1 0h2m5 0h6m4 0h1m1 0h1m1 0h3m1 0h2m4 0h2m-39 1h6m2 0h1m4 0h2m1 0h1m7 0h1m3 0h1m1 0h1m1 0h2m2 0h2m-41 1h1m2 0h1m1 0h2m1 0h4m4 0h1m1 0h2m1 0h1m3 0h4m1 0h2m1 0h2m3 0h1m1 0h2m1 0h2m1 0h2m-48 1h2m3 0h1m1 0h2m1 0h1m2 0h1m1 0h2m11 0h3m1 0h1m2 0h1m2 0h3m1 0h2m3 0h1m1 0h1m-51 1h3m3 0h3m3 0h2m1 0h1m5 0h1m8 0h2m1 0h3m2 0h1m1 0h7m1 0h2m-43 1h1m1 0h2m1 0h2m1 0h1m15 0h4m3 0h3m1 0h7m1 0h1m-51 1h1m6 0h8m8 0h1m8 0h2m2 0h1m3 0h5m1 0h6m-42 1h2m2 0h1m16 0h1m2 0h1m3 0h3m1 0h1m1 0h1m1 0h7m-53 1h1m7 0h1m1 0h1m1 0h1m1 0h1m16 0h4m3 0h1m1 0h4m2 0h2m1 0h1m1 0h1m1 0h1m-53 1h1m8 0h1m20 0h1m1 0h2m2 0h6m1 0h2m1 0h1m1 0h2m1 0h1m1 0h1m-43 1h1m18 0h3m5 0h1m1 0h2m1 0h2m1 0h3m2 0h4m-46 1h3m27 0h2m1 0h2m2 0h5m1 0h2m-45 1h2m28 0h1m1 0h4m1 0h3m1 0h2m1 0h2m-47 1h1m2 0h1m29 0h1m1 0h4m1 0h3m1 0h3m-49 1h2m33 0h2m3 0h4m1 0h2m1 0h2m-51 1h1m1 0h3m33 0h1m1 0h8m1 0h2m1 0h3m-53 1h3m35 0h2m1 0h5m1 0h5m1 0h1m-15 1h3m1 0h6m1 0h3m1 0h1m-15 1h5m1 0h1m1 0h3m1 0h1m2 0h3m-63 1h1m6 0h1m1 0h1m34 0h11m2 0h2m1 0h1m2 0h1m1 0h1m-65 1h3m1 0h1m2 0h2m33 0h1m1 0h4m1 0h10m1 0h3m-62 1h2m2 0h2m1 0h1m1 0h1m30 0h4m1 0h18m-62 1h6m32 0h15m1 0h8m-62 1h1m1 0h2m1 0h2m2 0h3m27 0h4m1 0h8m2 0h10m-62 1h1m2 0h1m1 0h1m1 0h1m1 0h1m28 0h2m2 0h11m1 0h7m-63 1h4m1 0h1m1 0h3m1 0h1m27 0h1m3 0h9m1 0h10m-63 1h4m1 0h1m2 0h2m32 0h1m1 0h1m1 0h19m-63 1h1m1 0h1m1 0h1m34 0h4m1 0h7m1 0h8m2 0h3m-70 1h2m3 0h4m1 0h1m34 0h3m1 0h11m1 0h7m1 0h1m-70 1h2m3 0h4m1 0h4m1 0h1m27 0h22m2 0h4m-70 1h9m2 0h2m32 0h21m2 0h1m1 0h1m-74 1h1m1 0h3m1 0h2m1 0h2m1 0h5m1 0h1m1 0h1m26 0h18m1 0h6m-74 1h1m2 0h2m2 0h4m1 0h5m1 0h3m1 0h1m26 0h4m1 0h18m1 0h1m-74 1h1m1 0h1m1 0h4m1 0h5m1 0h1m4 0h1m27 0h1m1 0h20m-71 1h1m1 0h2m1 0h5m1 0h1m1 0h10m27 0h1m1 0h20m1 0h3m1 0h1m-77 1h1m3 0h2m3 0h7m2 0h2m29 0h5m1 0h22m-76 1h4m1 0h3m1 0h8m2 0h1m27 0h1m1 0h25m-75 1h1m2 0h1m1 0h16m28 0h1m1 0h1m1 0h1m1 0h2m1 0h17m-74 1h4m2 0h1m1 0h1m1 0h4m1 0h3m30 0h1m2 0h4m1 0h15m1 0h2m-76 1h2m1 0h6m1 0h14m27 0h1m1 0h1m1 0h9m1 0h2m1 0h3m1 0h5m-76 1h9m2 0h7m1 0h2m31 0h2m2 0h5m1 0h17m-79 1h2m1 0h4m2 0h1m1 0h3m1 0h8m29 0h9m1 0h5m1 0h9m2 0h1m-80 1h1m2 0h2m1 0h8m4 0h1m1 0h1m33 0h1m1 0h11m1 0h2m1 0h4m2 0h2m-76 1h1m2 0h1m1 0h1m2 0h8m1 0h1m33 0h1m2 0h4m1 0h16m-77 1h1m4 0h10m1 0h4m34 0h3m1 0h4m1 0h4m1 0h8m-80 1h2m2 0h1m3 0h2m1 0h2m1 0h1m1 0h6m36 0h1m1 0h1m1 0h16m-80 1h1m3 0h2m2 0h2m1 0h15m35 0h3m1 0h2m1 0h2m1 0h1m2 0h6m-83 1h1m1 0h3m2 0h16m3 0h3m39 0h2m3 0h1m1 0h9m-86 1h1m3 0h8m1 0h2m1 0h4m1 0h3m1 0h1m1 0h2m2 0h1m39 0h4m1 0h3m1 0h1m1 0h2m-84 1h3m1 0h4m2 0h7m1 0h1m1 0h2m1 0h5m1 0h4m40 0h1m1 0h10m1 0h1m-87 1h3m1 0h5m3 0h16m1 0h1m3 0h1m43 0h1m1 0h3m4 0h1m-87 1h2m1 0h3m1 0h17m1 0h4m2 0h2m45 0h1m1 0h1m1 0h3m1 0h2m-88 1h4m1 0h27m1 0h1m44 0h8m1 0h1m-88 1h35m42 0h1m2 0h2m1 0h2m1 0h4m-90 1h30m1 0h1m1 0h2m42 0h9m1 0h1m1 0h1m-90 1h33m1 0h1m42 0h1m1 0h2m1 0h7m1 0h2m-92 1h24m1 0h5m1 0h1m1 0h2m41 0h1m1 0h2m2 0h2m1 0h2m1 0h2m1 0h1m-92 1h30m1 0h5m42 0h14m-92 1h32m1 0h3m41 0h1m1 0h4m1 0h5m1 0h1m1 0h1m-93 1h35m1 0h1m40 0h1m1 0h3m1 0h8m-91 1h37m38 0h2m4 0h3m1 0h8m-93 1h36m1 0h1m36 0h1m1 0h7m1 0h8m1 0h1m-94 1h38m37 0h15m1 0h2m-93 1h33m1 0h3m1 0h3m32 0h1m1 0h6m1 0h11m-93 1h36m2 0h1m1 0h1m34 0h1m1 0h1m2 0h9m2 0h3m-94 1h41m32 0h1m1 0h1m1 0h1m2 0h14m-94 1h37m1 0h3m35 0h18m-94 1h33m1 0h2m1 0h2m1 0h1m32 0h21m-94 1h37m3 0h1m32 0h3m2 0h10m1 0h3m1 0h1m-94 1h39m33 0h10m1 0h10m-93 1h35m1 0h3m34 0h1m1 0h4m1 0h14m-94 1h35m1 0h3m1 0h1m31 0h3m1 0h3m1 0h10m1 0h2m-93 1h39m34 0h1m1 0h3m1 0h15m-94 1h39m1 0h1m28 0h1m3 0h3m2 0h14m1 0h1m-94 1h33m1 0h6m33 0h1m1 0h18m-93 1h41m33 0h15m1 0h2m1 0h1m-94 1h37m1 0h1m2 0h1m32 0h3m1 0h13m1 0h1m1 0h1m-95 1h39m36 0h12m1 0h6m-94 1h39m1 0h1m33 0h21m-95 1h36m1 0h3m34 0h2m1 0h19m-96 1h36m1 0h1m1 0h1m33 0h2m1 0h1m1 0h17m-95 1h34m1 0h4m38 0h3m1 0h10m1 0h3m-95 1h33m1 0h4m2 0h1m37 0h5m1 0h2m1 0h7m-94 1h36m1 0h3m37 0h3m1 0h10m1 0h2m-94 1h35m1 0h1m1 0h1m36 0h5m1 0h10m1 0h2m-94 1h30m1 0h1m1 0h5m37 0h16m1 0h1m1 0h1m-95 1h37m37 0h12m1 0h3m1 0h4m-95 1h35m1 0h1m37 0h1m2 0h8m1 0h2m1 0h6m-95 1h34m40 0h1m3 0h8m1 0h5m1 0h2m-95 1h33m1 0h1m1 0h1m1 0h1m36 0h3m2 0h1m1 0h1m1 0h10m-94 1h34m1 0h4m36 0h1m1 0h7m2 0h1m1 0h1m2 0h2m-93 1h36m1 0h2m37 0h1m1 0h2m1 0h1m1 0h2m1 0h7m-93 1h29m1 0h1m1 0h1m1 0h1m1 0h2m1 0h1m37 0h2m1 0h1m2 0h8m-91 1h2m1 0h25m1 0h4m1 0h1m42 0h5m1 0h1m1 0h2m-87 1h15m1 0h11m3 0h3m1 0h1m43 0h3m1 0h1m1 0h1m1 0h2m-88 1h2m1 0h19m1 0h1m1 0h6m1 0h3m43 0h1m1 0h2m2 0h1m-85 1h5m1 0h14m1 0h4m2 0h2m2 0h2m-33 1h2m1 0h1m1 0h2m1 0h15m1 0h1m1 0h3m-29 1h4m1 0h8m1 0h4m1 0h10m-29 1h8m1 0h6m2 0h3m3 0h1m-22 1h2m2 0h6m1 0h1m1 0h2m1 0h3m1 0h1m2 0h5m-24 1h1m5 0h3m1 0h2m1 0h2m3 0h2m1 0h1m-20 1h6m1 0h1m2 0h3m3 0h3m-10 1h1m1 0h1m1 0h2m-6 1h2m1 0h1m-3 1h2" stroke="#000" stroke-width="1.3" fill="none"/>
<rect x="48.75" y="519.5" width="126.65" height="123.90" fill="none" stroke="#000" stroke-width="1.7"/>
<path d="M48.75 643.4v4.6M58.28 643.4v3.0M63.86 643.4v3.0M67.81 643.4v3.0M70.88 643.4v3.0M73.39 643.4v3.0M75.51 643.4v3.0M77.34 643.4v3.0M78.96 643.4v3.0M80.41 643.4v4.6M89.94 643.4v3.0M95.52 643.4v3.0M99.48 643.4v3.0M102.54 643.4v3.0M105.05 643.4v3.0M107.17 643.4v3.0M109.01 643.4v3.0M110.63 643.4v3.0M112.08 643.4v4.6M121.61 643.4v3.0M127.18 643.4v3.0M131.14 643.4v3.0M134.21 643.4v3.0M136.71 643.4v3.0M138.83 643.4v3.0M140.67 643.4v3.0M142.29 643.4v3.0M143.74 643.4v4.6M153.27 643.4v3.0M158.84 643.4v3.0M162.80 643.4v3.0M165.87 643.4v3.0M168.38 643.4v3.0M170.50 643.4v3.0M172.33 643.4v3.0M173.95 643.4v3.0M175.40 643.4v4.6" stroke="#000" stroke-width="0.8" fill="none"/>
<path d="M48.75 643.40h-3.4M48.75 634.08h-2.2M48.75 628.62h-2.2M48.75 624.75h-2.2M48.75 621.75h-2.2M48.75 619.30h-2.2M48.75 617.22h-2.2M48.75 615.43h-2.2M48.75 613.84h-2.2M48.75 612.42h-3.4M48.75 603.10h-2.2M48.75 597.65h-2.2M48.75 593.78h-2.2M48.75 590.77h-2.2M48.75 588.32h-2.2M48.75 586.25h-2.2M48.75 584.45h-2.2M48.75 582.87h-2.2M48.75 581.45h-3.4M48.75 572.13h-2.2M48.75 566.67h-2.2M48.75 562.80h-2.2M48.75 559.80h-2.2M48.75 557.35h-2.2M48.75 555.27h-2.2M48.75 553.48h-2.2M48.75 551.89h-2.2M48.75 550.48h-3.4M48.75 541.15h-2.2M48.75 535.70h-2.2M48.75 531.83h-2.2M48.75 528.82h-2.2M48.75 526.37h-2.2M48.75 524.30h-2.2M48.75 522.50h-2.2M48.75 520.92h-2.2M48.75 519.50h-3.4" stroke="#000" stroke-width="0.7" fill="none"/>
<text x="40.8" y="661.6999999999999" font-size="10.3">10<tspan dy="-4.2" font-size="7.8">0</tspan></text>
<text x="72.4" y="661.6999999999999" font-size="10.3">10<tspan dy="-4.2" font-size="7.8">1</tspan></text>
<text x="104.1" y="661.6999999999999" font-size="10.3">10<tspan dy="-4.2" font-size="7.8">2</tspan></text>
<text x="135.7" y="661.6999999999999" font-size="10.3">10<tspan dy="-4.2" font-size="7.8">3</tspan></text>
<text x="167.4" y="661.6999999999999" font-size="10.3">10<tspan dy="-4.2" font-size="7.8">4</tspan></text>
<text x="45.8" y="647.0" font-size="10.3" text-anchor="end">10<tspan dy="-4.2" font-size="7.8">0</tspan></text>
<text x="45.8" y="616.0" font-size="10.3" text-anchor="end">10<tspan dy="-4.2" font-size="7.8">1</tspan></text>
<text x="45.8" y="585.1" font-size="10.3" text-anchor="end">10<tspan dy="-4.2" font-size="7.8">2</tspan></text>
<text x="45.8" y="554.1" font-size="10.3" text-anchor="end">10<tspan dy="-4.2" font-size="7.8">3</tspan></text>
<text x="45.8" y="523.1" font-size="10.3" text-anchor="end">10<tspan dy="-4.2" font-size="7.8">4</tspan></text>
<rect x="50" y="524.5" width="31.25" height="66.25" fill="none" stroke="#000" stroke-width="1.4"/>
<rect x="87" y="524.5" width="60.50" height="66.25" fill="none" stroke="#000" stroke-width="1.4"/>
<rect x="50" y="592" width="31.50" height="51.40" fill="none" stroke="#000" stroke-width="1.4"/>
<rect x="87.5" y="598" width="60.50" height="45.40" fill="none" stroke="#000" stroke-width="1.4"/>
<rect x="50.5" y="629.5" width="25.00" height="12.50" fill="#fff" stroke="#000" stroke-width="0.8"/>
<text x="52" y="535.2" font-size="10.8" text-anchor="start" font-weight="normal">2.46</text>
<text x="142.2" y="537.3" font-size="10.8" text-anchor="end" font-weight="normal">5.49</text>
<text x="52" y="640" font-size="10.8" text-anchor="start" font-weight="normal">85.3</text>
<text x="145.8" y="640.7" font-size="10.8" text-anchor="end" font-weight="normal">4.06</text>
<text x="23.7" y="584" font-size="14" text-anchor="middle" font-weight="normal" transform="rotate(-90 23.7 584)">CD41</text>
<text x="112" y="681.7" font-size="14.5" text-anchor="middle" font-weight="normal">Venus</text>
<text x="1" y="725" font-size="26" text-anchor="start" font-weight="bold">D</text>
<g filter="url(#bl)"><path transform="translate(48.75,721.67) scale(0.85)" d="M36 2h1m-36 3h1m35 1h1m16 0h1m-32 3h1m-1 1h1m1 0h1m11 0h1m36 1h1m-48 1h1m37 1h1m-23 1h1m-20 1h1m16 0h1m1 0h1m4 1h1m15 0h1m-23 1h1m6 1h1m18 0h1m-30 2h1m5 0h1m-16 1h1m20 0h1m4 0h1m-29 1h1m47 0h1m-67 1h1m48 0h1m-2 1h1m4 0h1m7 0h1m-59 1h1m9 0h1m2 0h1m7 0h1m10 0h1m-23 1h1m40 0h1m-41 1h1m31 1h1m3 0h1m13 0h1m-40 1h1m13 0h1m-5 1h1m23 0h1m-23 1h1m8 0h1m7 0h1m-55 1h1m56 0h1m-36 1h2m7 0h1m8 0h1m-34 1h1m18 0h2m3 0h1m27 1h1m-16 1h1m4 0h1m-4 1h1m-10 1h1m-25 1h1m29 4h1m1 0h1m-13 2h1m-20 1h1m-19 6h1m27 2h1m9 1h1m42 0h1m-67 1h1m2 0h1m8 0h1m-18 1h1m14 0h1m61 0h1m-83 1h1m16 0h1m14 0h1m13 0h1m-56 1h1m3 0h1m17 0h1m24 0h1m4 0h1m42 0h1m-96 1h1m8 0h2m9 0h1m37 0h2m-62 1h1m42 0h1m9 0h1m31 0h1m13 0h1m-89 1h1m41 0h1m1 0h1m29 0h1m-46 1h1m12 0h1m5 0h1m11 0h1m-69 1h1m9 0h1m10 1h2m11 0h1m29 0h1m28 0h1m-97 1h1m6 0h1m44 0h1m5 0h2m17 0h1m17 0h1m-75 1h1m11 0h1m1 0h1m4 0h1m17 0h1m1 0h2m29 0h1m-91 1h1m10 0h1m5 0h1m1 0h1m4 0h1m2 0h1m19 0h1m38 0h1m5 0h1m-82 1h1m8 0h1m2 0h2m3 0h1m16 0h1m6 0h1m10 0h1m6 0h1m20 0h1m-88 1h1m3 0h2m28 0h1m5 0h1m8 0h1m44 0h1m-93 1h1m5 0h3m1 0h1m3 0h1m20 0h1m-26 1h1m11 0h1m3 0h1m18 0h2m4 0h1m1 0h1m29 0h2m-87 1h1m4 0h1m10 0h1m2 0h1m19 0h1m4 0h2m34 0h1m1 0h1m8 0h1m-77 1h2m7 0h1m9 0h1m2 0h1m1 0h1m7 0h1m38 0h1m7 0h1m-91 1h1m4 0h2m40 0h2m2 0h2m5 0h1m27 0h1m-95 1h1m5 0h1m6 0h1m11 0h1m2 0h1m15 0h1m6 0h1m7 0h1m34 0h1m-78 1h1m1 0h1m10 0h1m1 0h1m3 0h1m25 0h1m21 0h1m12 0h1m-98 1h1m10 0h1m12 0h1m2 0h1m20 0h1m1 0h1m1 0h1m28 0h1m7 0h1m2 0h1m-90 1h1m4 0h1m1 0h1m10 0h1m15 0h1m5 0h1m6 0h1m33 0h1m-66 1h1m8 0h2m1 0h1m1 0h1m6 0h1m29 0h1m-65 1h1m15 0h1m1 0h3m5 0h1m8 0h1m1 0h1m13 0h2m5 0h1m22 0h1m5 0h1m3 0h1m-96 1h1m1 0h1m3 0h2m11 0h1m55 0h1m3 0h1m5 0h1m2 0h1m-92 1h1m10 0h1m20 0h1m19 0h1m-52 1h1m4 0h1m8 0h1m9 0h1m26 0h1m34 0h1m2 0h1m5 0h1m-93 1h1m6 0h1m12 0h1m1 0h1m2 0h1m23 0h2m2 0h1m20 0h1m-57 1h2m23 0h1m7 0h1m41 0h1m-98 1h1m6 0h2m29 0h1m22 0h2m-60 1h1m27 0h1m20 0h1m31 0h1m-77 1h2m2 0h1m12 0h1m1 0h1m1 0h2m5 0h1m19 0h1m3 0h2m20 0h1m9 0h1m-93 1h2m14 0h1m7 0h1m61 0h1m3 0h1m3 0h1m2 0h1m-98 1h1m35 0h1m-29 1h1m24 0h1m21 0h1m19 0h1m3 0h1m8 0h1m1 0h1m-27 1h1m20 0h1m5 0h1m4 0h1m-58 2h1m12 0h1m19 0h1m7 0h1m3 0h1m8 0h1m6 0h1m-49 1h1m24 0h1m-40 1h1m15 0h1m19 0h1m9 0h1m1 0h1m-49 1h1m2 0h3m17 0h1m20 0h1m3 0h1m2 0h1m-7 1h1m-41 1h1m4 0h1m3 0h1m15 0h1m11 0h1m1 0h2m-19 1h2m8 0h1m1 0h1m9 0h1m-18 1h1m4 0h1m2 0h1m-13 1h1m1 0h1m1 0h1m9 0h1m3 0h1m19 0h1m3 0h1m-46 1h1m7 0h1m2 0h2m-34 1h1m30 0h1m-32 1h1m3 0h1m16 0h1m2 0h1m2 0h1m37 0h1m-62 1h4m5 0h1m10 0h1m-15 1h1m21 0h1m-4 1h1m35 0h1m-64 1h1m63 0h1m-59 1h2m6 0h1m-14 1h1m4 0h1m3 1h1m56 0h1m-67 1h1m2 0h1m2 1h1m8 0h1m46 0h2m-64 2h1m2 0h1m6 0h1m-10 1h1m8 0h1m52 0h1m-58 1h1m4 0h1m-12 1h1m5 0h1m55 0h1m-65 1h1m1 0h2m4 1h1m4 0h2m5 0h1m-9 1h1m-12 1h1m3 0h1m5 0h1m51 0h1m-62 1h2m6 0h1m52 0h2m-60 1h2m6 0h1m-18 1h1m1 0h1m13 0h1m-6 1h1m8 0h2m44 0h2m-52 1h1m17 0h1m32 0h1m-51 1h1m2 0h1m48 0h1m3 0h1m-74 1h1m20 0h1m25 0h1m17 0h1m-48 1h1m-20 1h1m2 0h1m9 0h1m11 0h1m1 0h1m17 0h1m-33 1h1m3 0h1m28 0h1m2 0h1m-42 1h1m6 0h1m2 0h1m-57 1h1m19 0h1m45 0h2m2 0h1m32 0h1m-104 1h1m18 0h1m6 0h1m1 0h1m2 0h1m21 0h1m9 0h1m8 0h2m1 0h1m10 0h1m-73 1h1m29 0h1m13 0h1m19 0h1m3 0h1m3 0h1m5 0h1m-83 1h1m1 0h1m5 0h2m1 0h1m1 0h1m26 0h1m11 0h1m10 0h1m8 0h2m5 0h1m-88 1h1m21 0h1m48 0h1m12 0h1m13 0h1m2 1h1m-74 1h1m30 0h1m26 0h1m3 0h2m-18 1h1m-13 1h1m19 0h1m2 0h1m2 0h1m-65 1h1m23 0h1m6 0h1m4 0h1m11 0h1m4 0h1m11 0h1m3 0h2m-2 1h1" stroke="#5c5c5c" stroke-width="1.15" fill="none"/><path transform="translate(48.75,721.67) scale(0.85)" d="M22 67h1m71 3h1m-1 1h1m-3 1h1m1 0h1m-1 1h1m-92 2h1m-2 1h1m1 0h2m7 0h1m44 0h2m-49 1h1m-8 1h2m25 0h1m-9 2h1m-4 4h1m-4 1h1m1 0h1m-7 1h1m1 0h1m1 0h2m1 0h1m-8 1h2m2 0h1m1 0h1m-19 2h1m13 0h1m-1 1h1m15 0h1m-19 1h1m1 0h1m2 0h1m1 0h1m4 0h1m-13 1h1m10 0h2m6 0h1m-31 1h1m3 0h1m9 0h1m4 0h2m3 0h1m2 0h3m-31 1h1m1 0h1m1 0h2m5 0h1m3 0h1m9 0h1m2 0h1m2 0h1m-33 1h1m28 0h1m67 0h1m-68 1h1m1 0h1m1 0h1m1 0h1m1 0h1m-8 1h3m60 0h2m1 0h3m-65 1h1m1 0h1m54 0h2m-64 1h3m1 0h2m54 0h3m-60 1h4m50 0h2m12 0h2m-64 1h2m44 0h1m3 0h1m13 0h1m-66 1h3m62 0h1m-63 1h1m33 0h1m10 0h1m0 1h2m17 0h1m-67 1h2m20 0h1m1 0h1m15 0h1m6 0h1m16 0h2m-67 1h1m38 0h3m5 0h1m17 0h1m-45 1h3m15 0h1m1 0h1m4 0h1m19 0h1m-47 1h2m6 0h1m13 0h2m2 0h1m-26 1h1m1 0h1m1 0h1m10 0h1m1 0h2m3 0h2m1 0h2m17 0h3m-66 1h2m16 0h1m3 0h2m1 0h2m1 0h1m4 0h1m2 0h1m2 0h2m22 0h1m-63 1h1m17 0h2m5 0h1m1 0h1m3 0h2m4 0h1m-38 1h1m18 0h2m1 0h1m3 0h2m1 0h2m3 0h2m2 0h1m2 0h2m-40 1h1m3 0h1m2 0h1m3 0h1m1 0h1m6 0h2m1 0h3m1 0h1m2 0h2m5 0h1m-42 1h1m2 0h1m11 0h2m4 0h1m4 0h1m5 0h1m1 0h1m3 0h1m-39 1h1m2 0h1m1 0h1m12 0h1m4 0h3m12 0h1m25 0h1m-49 1h2m4 0h1m4 0h1m1 0h5m5 0h4m-43 1h2m3 0h1m13 0h1m5 0h1m1 0h2m2 0h1m9 0h1m24 0h1m-66 1h1m14 0h1m3 0h4m1 0h1m1 0h1m3 0h1m6 0h1m26 0h1m-65 1h1m1 0h1m17 0h1m5 0h2m1 0h2m1 0h1m1 0h3m3 0h1m23 0h1m-50 1h2m4 0h1m6 0h1m3 0h2m2 0h3m2 0h1m-44 1h1m19 0h1m1 0h1m6 0h1m2 0h1m4 0h1m4 0h2m20 0h1m-64 1h1m19 0h2m5 0h2m5 0h1m3 0h1m26 0h1m-47 1h1m8 0h2m2 0h1m3 0h2m-40 1h2m1 0h1m17 0h1m4 0h1m4 0h1m9 0h1m-41 1h1m1 0h1m17 0h2m1 0h2m11 0h1m3 0h1m-41 1h1m19 0h1m3 0h1m1 0h1m3 0h2m5 0h1m2 0h2m-46 1h1m23 0h2m4 0h2m4 0h1m7 0h1m3 0h1m2 0h1m15 0h1m-41 1h2m19 0h1m3 0h1m-56 1h1m2 0h1m27 0h1m1 0h1m5 0h1m3 0h2m3 0h1m1 0h1m3 0h1m-54 1h3m27 0h3m1 0h1m4 0h2m1 0h2m1 0h2m1 0h1m5 0h1m-53 1h2m29 0h1m1 0h2m9 0h1m1 0h1m-52 1h2m35 0h1m2 0h1m16 0h1m-67 1h1m3 0h2m4 0h1m34 0h2m2 0h5m1 0h4m6 0h1m2 0h1m11 0h1m-103 1h1m22 0h1m3 0h1m2 0h2m35 0h1m1 0h1m1 0h2m1 0h1m1 0h1m1 0h1m11 0h1m-90 1h1m1 0h1m9 0h2m2 0h1m7 0h1m50 0h1m3 0h3m2 0h2m3 0h2m-88 1h1m1 0h1m1 0h1m17 0h1m1 0h1m44 0h2m9 0h1m6 0h1m8 0h2m-96 1h1m3 0h1m1 0h1m78 0h1m8 0h2m-76 1h1m68 0h1m3 0h1m-6 1h3m2 0h1m-6 1h1m0 1h1" stroke="#202020" stroke-width="1.15" fill="none"/></g><path transform="translate(48.75,721.67) scale(0.85)" d="M14 93h1m3 0h1m1 0h1m3 0h1m-12 1h1m1 0h1m1 0h1m1 0h1m1 0h3m1 0h1m-25 1h3m2 0h4m1 0h1m1 0h1m1 0h3m1 0h2m1 0h1m3 0h2m-28 1h2m1 0h1m1 0h10m3 0h3m1 0h2m1 0h2m1 0h1m-29 1h8m2 0h12m2 0h2m2 0h1m-29 1h4m1 0h4m1 0h9m1 0h1m2 0h6m69 0h1m-99 1h25m1 0h2m65 0h2m1 0h2m1 0h2m-101 1h30m64 0h1m1 0h5m-101 1h31m3 0h1m57 0h1m1 0h3m1 0h2m-100 1h28m2 0h2m1 0h2m1 0h1m53 0h3m1 0h1m1 0h6m-102 1h35m1 0h3m51 0h8m2 0h2m-102 1h37m1 0h1m50 0h13m-102 1h31m1 0h2m1 0h1m1 0h1m1 0h1m48 0h1m3 0h10m-102 1h37m1 0h1m50 0h3m1 0h11m-104 1h39m49 0h1m1 0h13m1 0h1m-105 1h40m37 0h2m9 0h1m1 0h14m-104 1h35m1 0h3m1 0h1m38 0h1m8 0h15m-103 1h38m1 0h2m35 0h1m1 0h1m4 0h1m4 0h14m1 0h1m-104 1h40m1 0h1m43 0h1m1 0h2m1 0h13m-103 1h41m44 0h2m1 0h1m1 0h14m-104 1h37m1 0h2m1 0h1m42 0h2m1 0h1m1 0h16m-105 1h41m37 0h1m6 0h19m-104 1h40m35 0h4m5 0h21m-105 1h38m2 0h1m35 0h1m1 0h1m5 0h1m2 0h1m1 0h1m1 0h13m-104 1h41m34 0h3m5 0h1m2 0h18m-104 1h37m1 0h2m37 0h1m4 0h2m1 0h20m-105 1h39m45 0h18m-102 1h41m43 0h1m1 0h1m1 0h17m-105 1h40m30 0h1m14 0h3m1 0h14m-103 1h39m46 0h2m2 0h13m1 0h2m-105 1h38m44 0h2m2 0h1m1 0h12m1 0h2m1 0h1m-105 1h36m1 0h1m34 0h3m7 0h3m1 0h2m1 0h15m-104 1h37m34 0h3m1 0h1m6 0h5m1 0h15m-103 1h38m35 0h4m5 0h1m2 0h1m2 0h15m-103 1h33m1 0h2m29 0h1m11 0h2m4 0h1m6 0h2m1 0h9m-102 1h29m1 0h2m1 0h1m1 0h1m29 0h1m8 0h1m1 0h2m12 0h11m-101 1h30m48 0h1m12 0h12m-103 1h3m1 0h28m57 0h13m-102 1h16m1 0h9m2 0h1m1 0h1m58 0h2m1 0h11m-103 1h3m1 0h22m1 0h4m60 0h5m1 0h3m1 0h1m-102 1h4m2 0h14m71 0h5m1 0h1m1 0h3m-101 1h1m2 0h1m1 0h2m1 0h3m3 0h1m1 0h1m75 0h3m3 0h1m1 0h1m-97 1h1m1 0h1m2 0h2m81 0h4m1 0h1m2 0h1m-8 1h1m1 0h4m-5 1h2m0 1h1" stroke="#000" stroke-width="1.3" fill="none"/>
<rect x="48.75" y="721.25" width="126.65" height="124.55" fill="none" stroke="#000" stroke-width="1.7"/>
<path d="M48.75 845.8v4.6M58.28 845.8v3.0M63.86 845.8v3.0M67.81 845.8v3.0M70.88 845.8v3.0M73.39 845.8v3.0M75.51 845.8v3.0M77.34 845.8v3.0M78.96 845.8v3.0M80.41 845.8v4.6M89.94 845.8v3.0M95.52 845.8v3.0M99.48 845.8v3.0M102.54 845.8v3.0M105.05 845.8v3.0M107.17 845.8v3.0M109.01 845.8v3.0M110.63 845.8v3.0M112.08 845.8v4.6M121.61 845.8v3.0M127.18 845.8v3.0M131.14 845.8v3.0M134.21 845.8v3.0M136.71 845.8v3.0M138.83 845.8v3.0M140.67 845.8v3.0M142.29 845.8v3.0M143.74 845.8v4.6M153.27 845.8v3.0M158.84 845.8v3.0M162.80 845.8v3.0M165.87 845.8v3.0M168.38 845.8v3.0M170.50 845.8v3.0M172.33 845.8v3.0M173.95 845.8v3.0M175.40 845.8v4.6" stroke="#000" stroke-width="0.8" fill="none"/>
<path d="M48.75 845.80h-3.4M48.75 836.43h-2.2M48.75 830.94h-2.2M48.75 827.05h-2.2M48.75 824.04h-2.2M48.75 821.57h-2.2M48.75 819.49h-2.2M48.75 817.68h-2.2M48.75 816.09h-2.2M48.75 814.66h-3.4M48.75 805.29h-2.2M48.75 799.81h-2.2M48.75 795.92h-2.2M48.75 792.90h-2.2M48.75 790.43h-2.2M48.75 788.35h-2.2M48.75 786.54h-2.2M48.75 784.95h-2.2M48.75 783.52h-3.4M48.75 774.15h-2.2M48.75 768.67h-2.2M48.75 764.78h-2.2M48.75 761.76h-2.2M48.75 759.30h-2.2M48.75 757.21h-2.2M48.75 755.41h-2.2M48.75 753.81h-2.2M48.75 752.39h-3.4M48.75 743.01h-2.2M48.75 737.53h-2.2M48.75 733.64h-2.2M48.75 730.62h-2.2M48.75 728.16h-2.2M48.75 726.07h-2.2M48.75 724.27h-2.2M48.75 722.67h-2.2M48.75 721.25h-3.4" stroke="#000" stroke-width="0.7" fill="none"/>
<text x="40.8" y="864.0999999999999" font-size="10.3">10<tspan dy="-4.2" font-size="7.8">0</tspan></text>
<text x="72.4" y="864.0999999999999" font-size="10.3">10<tspan dy="-4.2" font-size="7.8">1</tspan></text>
<text x="104.1" y="864.0999999999999" font-size="10.3">10<tspan dy="-4.2" font-size="7.8">2</tspan></text>
<text x="135.7" y="864.0999999999999" font-size="10.3">10<tspan dy="-4.2" font-size="7.8">3</tspan></text>
<text x="167.4" y="864.0999999999999" font-size="10.3">10<tspan dy="-4.2" font-size="7.8">4</tspan></text>
<text x="45.8" y="849.4" font-size="10.3" text-anchor="end">10<tspan dy="-4.2" font-size="7.8">0</tspan></text>
<text x="45.8" y="818.3" font-size="10.3" text-anchor="end">10<tspan dy="-4.2" font-size="7.8">1</tspan></text>
<text x="45.8" y="787.1" font-size="10.3" text-anchor="end">10<tspan dy="-4.2" font-size="7.8">2</tspan></text>
<text x="45.8" y="756.0" font-size="10.3" text-anchor="end">10<tspan dy="-4.2" font-size="7.8">3</tspan></text>
<text x="45.8" y="724.9" font-size="10.3" text-anchor="end">10<tspan dy="-4.2" font-size="7.8">4</tspan></text>
<rect x="52" y="728" width="73.75" height="32.75" fill="none" stroke="#000" stroke-width="1.4"/>
<rect x="50.5" y="765" width="30.75" height="34.50" fill="none" stroke="#000" stroke-width="1.4"/>
<rect x="87.5" y="765" width="22.50" height="36.75" fill="none" stroke="#000" stroke-width="1.4"/>
<rect x="113.25" y="765" width="34.25" height="36.75" fill="none" stroke="#000" stroke-width="1.4"/>
<rect x="50" y="800.5" width="31.50" height="45.30" fill="none" stroke="#000" stroke-width="1.4"/>
<rect x="87.5" y="807.6" width="60.00" height="38.20" fill="none" stroke="#000" stroke-width="1.4"/>
<rect x="50.5" y="831" width="25.00" height="13.50" fill="#fff" stroke="#000" stroke-width="0.8"/>
<text x="53.5" y="738.6" font-size="10.8" text-anchor="start" font-weight="normal">0.19</text>
<text x="51.7" y="775.2" font-size="10.8" text-anchor="start" font-weight="normal">0.33</text>
<text x="88.6" y="775.2" font-size="10.8" text-anchor="start" font-weight="normal">0.36</text>
<text x="149.7" y="775.2" font-size="10.8" text-anchor="start" font-weight="normal">0.25</text>
<text x="52" y="841.2" font-size="10.8" text-anchor="start" font-weight="normal">91.2</text>
<text x="149.7" y="841.2" font-size="10.8" text-anchor="start" font-weight="normal">4.39</text>
<text x="23.7" y="786.5" font-size="14" text-anchor="middle" font-weight="normal" transform="rotate(-90 23.7 786.5)">CD41</text>
<text x="112" y="883.2" font-size="14.5" text-anchor="middle" font-weight="normal">Venus</text>
<rect x="269.5" y="315.5" width="247.50" height="134.00" fill="none" stroke="#000" stroke-width="2"/>
<line x1="269.5" y1="449.5" x2="275.5" y2="449.5" stroke="#000" stroke-width="1.6"/>
<text x="261.9" y="454.7" font-size="14" text-anchor="end" font-weight="normal">0</text>
<line x1="269.5" y1="404.8333333333333" x2="275.5" y2="404.8333333333333" stroke="#000" stroke-width="1.6"/>
<text x="261.9" y="410.0333333333333" font-size="14" text-anchor="end" font-weight="normal">20</text>
<line x1="269.5" y1="360.1666666666667" x2="275.5" y2="360.1666666666667" stroke="#000" stroke-width="1.6"/>
<text x="261.9" y="365.3666666666667" font-size="14" text-anchor="end" font-weight="normal">40</text>
<line x1="269.5" y1="315.5" x2="275.5" y2="315.5" stroke="#000" stroke-width="1.6"/>
<text x="261.9" y="320.7" font-size="14" text-anchor="end" font-weight="normal">60</text>
<rect x="283.5" y="448.3" width="20" height="1.2" fill="#000"/>
<rect x="287.5" y="447.3" width="12.0" height="1.5" fill="#000"/>
<rect x="337.0" y="448.5" width="12" height="1.0" fill="#000"/>
<rect x="386.0" y="448.9" width="12" height="0.6" fill="#000"/>
<rect x="431.5" y="448.2" width="20" height="1.3" fill="#000"/>
<rect x="435.5" y="447.0" width="12.0" height="1.6" fill="#000"/>
<rect x="480.5" y="370.2" width="20" height="79.3" fill="#000"/>
<line x1="490.5" y1="330.90999999999997" x2="490.5" y2="370.2166666666667" stroke="#000" stroke-width="1.8"/>
<line x1="485.1" y1="330.90999999999997" x2="495.9" y2="330.90999999999997" stroke="#000" stroke-width="1.8"/>
<text x="307.0" y="466.5" font-size="14" text-anchor="end" letter-spacing="0" transform="rotate(-45 307.0 466.5)">Total</text>
<text x="360" y="467.5" font-size="14" text-anchor="end" letter-spacing="0" transform="rotate(-45 360 467.5)">41<tspan dy="-4.5" font-size="12.5">-</tspan><tspan dy="4.5">V</tspan><tspan dy="-4.5" font-size="12.5">-</tspan></text>
<text x="409" y="467.5" font-size="14" text-anchor="end" letter-spacing="0" transform="rotate(-45 409 467.5)">41<tspan dy="-4.5" font-size="12.5">-</tspan><tspan dy="4.5">V</tspan><tspan dy="-4.5" font-size="12.5">+</tspan></text>
<text x="458.5" y="467.5" font-size="14" text-anchor="end" letter-spacing="0" transform="rotate(-45 458.5 467.5)">41<tspan dy="-4.5" font-size="12.5">+</tspan><tspan dy="4.5">V</tspan><tspan dy="-4.5" font-size="12.5">-</tspan></text>
<text x="507.5" y="467.5" font-size="14" text-anchor="end" letter-spacing="0" transform="rotate(-45 507.5 467.5)">41<tspan dy="-4.5" font-size="12.5">+</tspan><tspan dy="4.5">V</tspan><tspan dy="-4.5" font-size="12.5">+</tspan></text>
<text x="214.3" y="380" font-size="14.0" text-anchor="middle" font-weight="normal" transform="rotate(-90 214.3 380)">Hematopoietic-CFC</text>
<text x="232.0" y="380" font-size="14.0" text-anchor="middle" font-weight="normal" transform="rotate(-90 232.0 380)">per 1000 cells</text>
<rect x="269.5" y="518" width="247.00" height="134.00" fill="none" stroke="#000" stroke-width="2"/>
<line x1="269.5" y1="652.0" x2="275.5" y2="652.0" stroke="#000" stroke-width="1.6"/>
<text x="266.3" y="657.2" font-size="14" text-anchor="end" font-weight="normal">0</text>
<line x1="269.5" y1="625.2" x2="275.5" y2="625.2" stroke="#000" stroke-width="1.6"/>
<text x="266.3" y="630.4000000000001" font-size="14" text-anchor="end" font-weight="normal">50</text>
<line x1="269.5" y1="598.4" x2="275.5" y2="598.4" stroke="#000" stroke-width="1.6"/>
<text x="266.3" y="603.6" font-size="14" text-anchor="end" font-weight="normal">100</text>
<line x1="269.5" y1="571.6" x2="275.5" y2="571.6" stroke="#000" stroke-width="1.6"/>
<text x="266.3" y="576.8000000000001" font-size="14" text-anchor="end" font-weight="normal">150</text>
<line x1="269.5" y1="544.8" x2="275.5" y2="544.8" stroke="#000" stroke-width="1.6"/>
<text x="266.3" y="550.0" font-size="14" text-anchor="end" font-weight="normal">200</text>
<line x1="269.5" y1="518.0" x2="275.5" y2="518.0" stroke="#000" stroke-width="1.6"/>
<text x="266.3" y="523.2" font-size="14" text-anchor="end" font-weight="normal">250</text>
<rect x="286.0" y="648.5" width="20" height="3.5" fill="#000"/>
<rect x="290.0" y="647.3" width="12.0" height="1.7" fill="#000"/>
<rect x="339.0" y="651.2" width="12" height="0.8" fill="#000"/>
<rect x="387.0" y="651.4" width="14" height="0.6" fill="#000"/>
<rect x="434.3" y="648.7" width="20" height="3.3" fill="#000"/>
<rect x="438.3" y="647.5" width="12.0" height="1.7" fill="#000"/>
<rect x="484.5" y="547.5" width="20" height="104.5" fill="#000"/>
<line x1="494.5" y1="538.904" x2="494.5" y2="547.48" stroke="#000" stroke-width="1.8"/>
<line x1="489.1" y1="538.904" x2="499.9" y2="538.904" stroke="#000" stroke-width="1.8"/>
<text x="307.8" y="668" font-size="14" text-anchor="end" letter-spacing="0" transform="rotate(-45 307.8 668)">Total</text>
<text x="360.3" y="669" font-size="14" text-anchor="end" letter-spacing="0" transform="rotate(-45 360.3 669)">41<tspan dy="-4.5" font-size="12.5">-</tspan><tspan dy="4.5">V</tspan><tspan dy="-4.5" font-size="12.5">-</tspan></text>
<text x="409.3" y="669" font-size="14" text-anchor="end" letter-spacing="0" transform="rotate(-45 409.3 669)">41<tspan dy="-4.5" font-size="12.5">-</tspan><tspan dy="4.5">V</tspan><tspan dy="-4.5" font-size="12.5">+</tspan></text>
<text x="459.6" y="669" font-size="14" text-anchor="end" letter-spacing="0" transform="rotate(-45 459.6 669)">41<tspan dy="-4.5" font-size="12.5">+</tspan><tspan dy="4.5">V</tspan><tspan dy="-4.5" font-size="12.5">-</tspan></text>
<text x="509.8" y="669" font-size="14" text-anchor="end" letter-spacing="0" transform="rotate(-45 509.8 669)">41<tspan dy="-4.5" font-size="12.5">+</tspan><tspan dy="4.5">V</tspan><tspan dy="-4.5" font-size="12.5">+</tspan></text>
<text x="212.7" y="583.5" font-size="14.0" text-anchor="middle" font-weight="normal" transform="rotate(-90 212.7 583.5)">Hematopoietic-CFC</text>
<text x="230.39999999999998" y="583.5" font-size="14.0" text-anchor="middle" font-weight="normal" transform="rotate(-90 230.39999999999998 583.5)">per 1000 cells</text>
<path d="M267.7 718.5V852H519V718.5" stroke="#000" stroke-width="2" fill="none"/>
<line x1="267.7" y1="718.5" x2="519" y2="718.5" stroke="#777" stroke-width="1"/>
<line x1="267.7" y1="852.0" x2="273.7" y2="852.0" stroke="#000" stroke-width="1.6"/>
<text x="263.0" y="857.2" font-size="14" text-anchor="end" font-weight="normal">0</text>
<line x1="267.7" y1="818.625" x2="273.7" y2="818.625" stroke="#000" stroke-width="1.6"/>
<text x="263.0" y="823.825" font-size="14" text-anchor="end" font-weight="normal">100</text>
<line x1="267.7" y1="785.25" x2="273.7" y2="785.25" stroke="#000" stroke-width="1.6"/>
<text x="263.0" y="790.45" font-size="14" text-anchor="end" font-weight="normal">200</text>
<line x1="267.7" y1="751.875" x2="273.7" y2="751.875" stroke="#000" stroke-width="1.6"/>
<text x="263.0" y="757.075" font-size="14" text-anchor="end" font-weight="normal">300</text>
<line x1="267.7" y1="718.5" x2="273.7" y2="718.5" stroke="#000" stroke-width="1.6"/>
<text x="263.0" y="723.7" font-size="14" text-anchor="end" font-weight="normal">400</text>
<rect x="279.7" y="851.2" width="10" height="0.8" fill="#000"/>
<rect x="385.4" y="842.0" width="14.5" height="10.0" fill="#000"/>
<line x1="392.7" y1="840.6525" x2="392.7" y2="841.9875" stroke="#000" stroke-width="1.8"/>
<line x1="388.78499999999997" y1="840.6525" x2="396.615" y2="840.6525" stroke="#000" stroke-width="1.8"/>
<rect x="421.2" y="821.3" width="15" height="30.7" fill="#000"/>
<line x1="428.7" y1="814.95375" x2="428.7" y2="821.295" stroke="#000" stroke-width="1.8"/>
<line x1="424.65" y1="814.95375" x2="432.75" y2="814.95375" stroke="#000" stroke-width="1.8"/>
<rect x="456.9" y="747.2" width="14.5" height="104.8" fill="#000"/>
<line x1="464.2" y1="731.51625" x2="464.2" y2="747.2025" stroke="#000" stroke-width="1.8"/>
<line x1="460.28499999999997" y1="731.51625" x2="468.115" y2="731.51625" stroke="#000" stroke-width="1.8"/>
<rect x="495.2" y="849.0" width="11" height="3.0" fill="#000"/>
<text x="292.3" y="865.7" font-size="14" text-anchor="end" letter-spacing="0.5" transform="rotate(-45 292.3 865.7)">Total</text>
<text x="324" y="866.7" font-size="14" text-anchor="end" letter-spacing="0.5" transform="rotate(-45 324 866.7)">41<tspan dy="-4.5" font-size="12.5">-</tspan><tspan dy="4.5">V</tspan><tspan dy="-4.5" font-size="12.5">-</tspan></text>
<text x="361.3" y="866.7" font-size="14" text-anchor="end" letter-spacing="0.5" transform="rotate(-45 361.3 866.7)">41<tspan dy="-4.5" font-size="12.5">-</tspan><tspan dy="4.5">V</tspan><tspan dy="-4.5" font-size="12.5">+</tspan></text>
<text x="402.2" y="866.7" font-size="14" text-anchor="end" letter-spacing="0.5" transform="rotate(-45 402.2 866.7)">41<tspan dy="-4.5" font-size="12.5">lo</tspan><tspan dy="4.5">V</tspan><tspan dy="-4.5" font-size="12.5">-</tspan></text>
<text x="439.5" y="866.7" font-size="14" text-anchor="end" letter-spacing="0.5" transform="rotate(-45 439.5 866.7)">41<tspan dy="-4.5" font-size="12.5">lo</tspan><tspan dy="4.5">V</tspan><tspan dy="-4.5" font-size="12.5">lo</tspan></text>
<text x="475" y="866.7" font-size="14" text-anchor="end" letter-spacing="0.5" transform="rotate(-45 475 866.7)">41<tspan dy="-4.5" font-size="12.5">lo</tspan><tspan dy="4.5">V</tspan><tspan dy="-4.5" font-size="12.5">hi</tspan></text>
<text x="511.5" y="866.7" font-size="14" text-anchor="end" letter-spacing="0.5" transform="rotate(-45 511.5 866.7)">41<tspan dy="-4.5" font-size="12.5">hi</tspan><tspan dy="4.5">V</tspan><tspan dy="-4.5" font-size="12.5">-/lo</tspan></text>
<text x="212.7" y="784.5" font-size="14.0" text-anchor="middle" font-weight="normal" transform="rotate(-90 212.7 784.5)">Hematopoietic-CFC</text>
<text x="230.39999999999998" y="784.5" font-size="14.0" text-anchor="middle" font-weight="normal" transform="rotate(-90 230.39999999999998 784.5)">per 1000 cells</text>
</svg>
</body></html>
